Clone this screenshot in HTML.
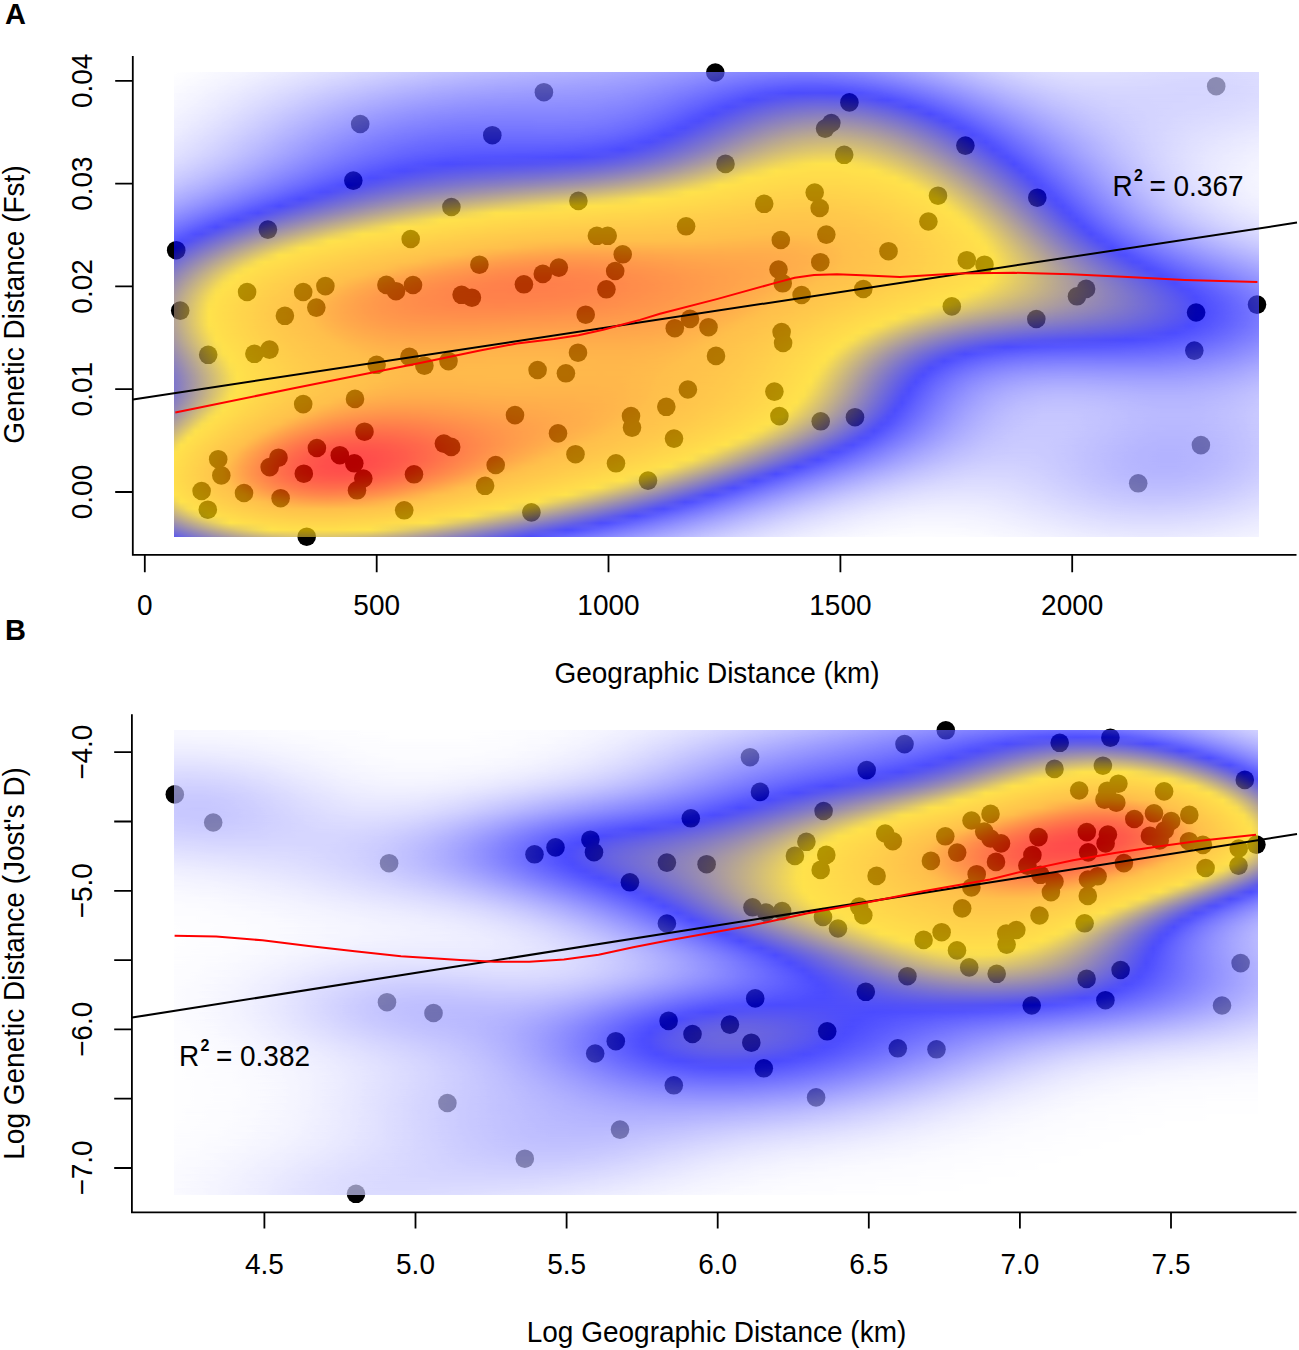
<!DOCTYPE html><html><head><meta charset="utf-8"><style>
html,body{margin:0;padding:0;background:#fff}
body{width:1299px;height:1350px;position:relative;overflow:hidden;font-family:"Liberation Sans",sans-serif}
svg.l{position:absolute;left:0;top:0}
.h{position:absolute;overflow:hidden;opacity:0.7}
.h div{position:absolute;left:0;width:100%}
.h .m{-webkit-mask-image:linear-gradient(transparent,#000 50%);mask-image:linear-gradient(transparent,#000 50%)}
text{font-family:"Liberation Sans",sans-serif}
</style></head><body>
<svg class="l" width="1299" height="1350"><g fill="#000"><circle cx="360.2" cy="124" r="9.3"/><circle cx="353.3" cy="180.6" r="9.3"/><circle cx="267.9" cy="229.6" r="9.3"/><circle cx="176.2" cy="250.2" r="9.3"/><circle cx="410.7" cy="239" r="9.3"/><circle cx="247.1" cy="292" r="9.3"/><circle cx="303.2" cy="292" r="9.3"/><circle cx="325.4" cy="286.1" r="9.3"/><circle cx="386.4" cy="284.9" r="9.3"/><circle cx="396" cy="291.2" r="9.3"/><circle cx="413" cy="285" r="9.3"/><circle cx="543.9" cy="92.2" r="9.3"/><circle cx="492.3" cy="135.2" r="9.3"/><circle cx="451.4" cy="207" r="9.3"/><circle cx="578.4" cy="200.9" r="9.3"/><circle cx="596.9" cy="235.8" r="9.3"/><circle cx="607.7" cy="235.8" r="9.3"/><circle cx="622.7" cy="254.3" r="9.3"/><circle cx="615.2" cy="271" r="9.3"/><circle cx="606.4" cy="289.3" r="9.3"/><circle cx="686.1" cy="226.3" r="9.3"/><circle cx="479.4" cy="264.7" r="9.3"/><circle cx="523.9" cy="284.3" r="9.3"/><circle cx="542.8" cy="273.9" r="9.3"/><circle cx="558.8" cy="267.6" r="9.3"/><circle cx="461.6" cy="294.8" r="9.3"/><circle cx="471.9" cy="297.7" r="9.3"/><circle cx="715.3" cy="72.5" r="9.3"/><circle cx="849.4" cy="102.4" r="9.3"/><circle cx="831.3" cy="123" r="9.3"/><circle cx="825.1" cy="128.6" r="9.3"/><circle cx="844.2" cy="154.8" r="9.3"/><circle cx="725.5" cy="163.9" r="9.3"/><circle cx="814.7" cy="192.6" r="9.3"/><circle cx="819.7" cy="208" r="9.3"/><circle cx="764.2" cy="203.8" r="9.3"/><circle cx="938" cy="195.7" r="9.3"/><circle cx="928.4" cy="221.5" r="9.3"/><circle cx="780.8" cy="240" r="9.3"/><circle cx="826.3" cy="234.6" r="9.3"/><circle cx="888.5" cy="251.2" r="9.3"/><circle cx="820.3" cy="262.2" r="9.3"/><circle cx="778.5" cy="269.5" r="9.3"/><circle cx="782.7" cy="283.3" r="9.3"/><circle cx="801.6" cy="295" r="9.3"/><circle cx="863.3" cy="289" r="9.3"/><circle cx="1216.2" cy="86.2" r="9.3"/><circle cx="965.4" cy="145.6" r="9.3"/><circle cx="1037.3" cy="197.7" r="9.3"/><circle cx="966.8" cy="260.2" r="9.3"/><circle cx="984.5" cy="264.7" r="9.3"/><circle cx="1086.1" cy="288.9" r="9.3"/><circle cx="1077" cy="296.3" r="9.3"/><circle cx="180.2" cy="310.6" r="9.3"/><circle cx="284.9" cy="315.8" r="9.3"/><circle cx="316.3" cy="307.6" r="9.3"/><circle cx="208.2" cy="354.8" r="9.3"/><circle cx="254.4" cy="353.8" r="9.3"/><circle cx="269.5" cy="349.6" r="9.3"/><circle cx="376.6" cy="364.8" r="9.3"/><circle cx="409.4" cy="356.9" r="9.3"/><circle cx="424.4" cy="365.7" r="9.3"/><circle cx="303.2" cy="404.1" r="9.3"/><circle cx="355" cy="398.9" r="9.3"/><circle cx="364.5" cy="431.7" r="9.3"/><circle cx="316.9" cy="448" r="9.3"/><circle cx="339.8" cy="455.2" r="9.3"/><circle cx="354.3" cy="463.3" r="9.3"/><circle cx="363.3" cy="478.5" r="9.3"/><circle cx="357" cy="490.3" r="9.3"/><circle cx="303.8" cy="473.7" r="9.3"/><circle cx="278.5" cy="457.7" r="9.3"/><circle cx="269.7" cy="467.1" r="9.3"/><circle cx="218.2" cy="459.2" r="9.3"/><circle cx="221.3" cy="475.4" r="9.3"/><circle cx="201.6" cy="491" r="9.3"/><circle cx="244" cy="493" r="9.3"/><circle cx="280.6" cy="498.2" r="9.3"/><circle cx="207.8" cy="509.7" r="9.3"/><circle cx="414" cy="474.3" r="9.3"/><circle cx="404.2" cy="510.3" r="9.3"/><circle cx="306.7" cy="536.7" r="9.3"/><circle cx="585.7" cy="314.7" r="9.3"/><circle cx="674.8" cy="328.2" r="9.3"/><circle cx="448.5" cy="361.1" r="9.3"/><circle cx="578" cy="352.7" r="9.3"/><circle cx="537.6" cy="370" r="9.3"/><circle cx="565.9" cy="373.3" r="9.3"/><circle cx="666.3" cy="406.8" r="9.3"/><circle cx="631" cy="416.1" r="9.3"/><circle cx="632" cy="427.6" r="9.3"/><circle cx="674" cy="438.6" r="9.3"/><circle cx="515" cy="415.1" r="9.3"/><circle cx="558" cy="433.4" r="9.3"/><circle cx="575.5" cy="454.2" r="9.3"/><circle cx="616" cy="463.3" r="9.3"/><circle cx="648" cy="480.6" r="9.3"/><circle cx="443.9" cy="443.6" r="9.3"/><circle cx="451.2" cy="446.9" r="9.3"/><circle cx="495.7" cy="465" r="9.3"/><circle cx="485.1" cy="485.8" r="9.3"/><circle cx="531.4" cy="512.4" r="9.3"/><circle cx="690" cy="318.9" r="9.3"/><circle cx="708.5" cy="327.2" r="9.3"/><circle cx="781.6" cy="332" r="9.3"/><circle cx="783.1" cy="343" r="9.3"/><circle cx="716" cy="355.9" r="9.3"/><circle cx="687.9" cy="389.5" r="9.3"/><circle cx="774.4" cy="391.6" r="9.3"/><circle cx="779.4" cy="416.1" r="9.3"/><circle cx="820.7" cy="421.3" r="9.3"/><circle cx="855" cy="417.2" r="9.3"/><circle cx="951.8" cy="306.4" r="9.3"/><circle cx="1036.3" cy="319" r="9.3"/><circle cx="1196.1" cy="312.5" r="9.3"/><circle cx="1257" cy="304.6" r="9.3"/><circle cx="1194.3" cy="350.6" r="9.3"/><circle cx="1200.9" cy="445.1" r="9.3"/><circle cx="1138.2" cy="483.3" r="9.3"/><circle cx="174.8" cy="794.4" r="9.3"/><circle cx="213.2" cy="822.5" r="9.3"/><circle cx="389.1" cy="863.2" r="9.3"/><circle cx="534.5" cy="854.3" r="9.3"/><circle cx="555.5" cy="847.4" r="9.3"/><circle cx="590.4" cy="839.7" r="9.3"/><circle cx="594" cy="852.2" r="9.3"/><circle cx="629.9" cy="882.3" r="9.3"/><circle cx="666.9" cy="862.6" r="9.3"/><circle cx="666.9" cy="923.5" r="9.3"/><circle cx="945.8" cy="730.3" r="9.3"/><circle cx="904.5" cy="744.1" r="9.3"/><circle cx="866.7" cy="770.1" r="9.3"/><circle cx="750" cy="757.2" r="9.3"/><circle cx="760" cy="791.9" r="9.3"/><circle cx="690.8" cy="818.3" r="9.3"/><circle cx="823.6" cy="811" r="9.3"/><circle cx="706.6" cy="864.2" r="9.3"/><circle cx="806.4" cy="841.8" r="9.3"/><circle cx="794.9" cy="855.9" r="9.3"/><circle cx="826.3" cy="854.9" r="9.3"/><circle cx="820.7" cy="869.9" r="9.3"/><circle cx="885.2" cy="833.5" r="9.3"/><circle cx="892.8" cy="841.2" r="9.3"/><circle cx="945.3" cy="836.3" r="9.3"/><circle cx="930.9" cy="860.9" r="9.3"/><circle cx="876.6" cy="875.9" r="9.3"/><circle cx="752.5" cy="907.3" r="9.3"/><circle cx="766.1" cy="912.5" r="9.3"/><circle cx="782.1" cy="911" r="9.3"/><circle cx="823" cy="917" r="9.3"/><circle cx="838" cy="928.5" r="9.3"/><circle cx="859.2" cy="906.6" r="9.3"/><circle cx="863.3" cy="915.2" r="9.3"/><circle cx="923.6" cy="939.9" r="9.3"/><circle cx="941.6" cy="932.2" r="9.3"/><circle cx="1059.7" cy="742.8" r="9.3"/><circle cx="1054.5" cy="768.9" r="9.3"/><circle cx="1079.2" cy="790.5" r="9.3"/><circle cx="990.5" cy="813.9" r="9.3"/><circle cx="971.5" cy="820.5" r="9.3"/><circle cx="984.2" cy="831.6" r="9.3"/><circle cx="1038.5" cy="837.1" r="9.3"/><circle cx="1086.8" cy="832.1" r="9.3"/><circle cx="990.5" cy="838.5" r="9.3"/><circle cx="1001" cy="843.4" r="9.3"/><circle cx="1110.4" cy="737.7" r="9.3"/><circle cx="1102.9" cy="765.7" r="9.3"/><circle cx="1118.4" cy="783.7" r="9.3"/><circle cx="1107.3" cy="790.7" r="9.3"/><circle cx="1104.5" cy="799.7" r="9.3"/><circle cx="1116.3" cy="802.7" r="9.3"/><circle cx="1164.1" cy="791.4" r="9.3"/><circle cx="1244.8" cy="779.9" r="9.3"/><circle cx="1134.3" cy="819" r="9.3"/><circle cx="1154" cy="813.3" r="9.3"/><circle cx="1171.2" cy="821" r="9.3"/><circle cx="1189.3" cy="814.9" r="9.3"/><circle cx="1107.9" cy="834.5" r="9.3"/><circle cx="1164.8" cy="830.2" r="9.3"/><circle cx="1149.9" cy="835.9" r="9.3"/><circle cx="957.2" cy="852.6" r="9.3"/><circle cx="996" cy="861.9" r="9.3"/><circle cx="976.7" cy="874.2" r="9.3"/><circle cx="971.4" cy="887.5" r="9.3"/><circle cx="962.2" cy="908.4" r="9.3"/><circle cx="1032.4" cy="855.1" r="9.3"/><circle cx="1027.4" cy="865.6" r="9.3"/><circle cx="1040.4" cy="874.8" r="9.3"/><circle cx="1054.5" cy="881.6" r="9.3"/><circle cx="1050.9" cy="892.1" r="9.3"/><circle cx="1039.5" cy="915.5" r="9.3"/><circle cx="1016.3" cy="930" r="9.3"/><circle cx="1006.2" cy="933.6" r="9.3"/><circle cx="1088.2" cy="852.4" r="9.3"/><circle cx="1105.6" cy="843.4" r="9.3"/><circle cx="1088" cy="879.5" r="9.3"/><circle cx="1097.6" cy="876.3" r="9.3"/><circle cx="1087.8" cy="895.9" r="9.3"/><circle cx="1084.6" cy="923.3" r="9.3"/><circle cx="1159.7" cy="840.5" r="9.3"/><circle cx="1189" cy="841.2" r="9.3"/><circle cx="1202.9" cy="844.9" r="9.3"/><circle cx="1123.9" cy="863.1" r="9.3"/><circle cx="1205.6" cy="868" r="9.3"/><circle cx="1238.7" cy="848.5" r="9.3"/><circle cx="1256.4" cy="844.6" r="9.3"/><circle cx="1238.5" cy="865.6" r="9.3"/><circle cx="387" cy="1002.2" r="9.3"/><circle cx="356" cy="1193.8" r="9.3"/><circle cx="433.5" cy="1013" r="9.3"/><circle cx="447.4" cy="1103" r="9.3"/><circle cx="524.8" cy="1158.7" r="9.3"/><circle cx="595.2" cy="1053.5" r="9.3"/><circle cx="615.8" cy="1041.2" r="9.3"/><circle cx="668.6" cy="1020.9" r="9.3"/><circle cx="620" cy="1129.6" r="9.3"/><circle cx="673.8" cy="1085.3" r="9.3"/><circle cx="755.2" cy="998.4" r="9.3"/><circle cx="729.9" cy="1024.6" r="9.3"/><circle cx="692.5" cy="1034" r="9.3"/><circle cx="751.3" cy="1042.7" r="9.3"/><circle cx="763.8" cy="1068.3" r="9.3"/><circle cx="827.2" cy="1031.3" r="9.3"/><circle cx="865.8" cy="991.8" r="9.3"/><circle cx="907.4" cy="976.2" r="9.3"/><circle cx="897.8" cy="1048.3" r="9.3"/><circle cx="936.5" cy="1049.3" r="9.3"/><circle cx="816.1" cy="1097.4" r="9.3"/><circle cx="1006.6" cy="944.6" r="9.3"/><circle cx="957" cy="950.4" r="9.3"/><circle cx="969.2" cy="967.4" r="9.3"/><circle cx="996.7" cy="973.8" r="9.3"/><circle cx="1086.6" cy="978.9" r="9.3"/><circle cx="1120.6" cy="970" r="9.3"/><circle cx="1105.4" cy="1000.2" r="9.3"/><circle cx="1031.7" cy="1005.5" r="9.3"/><circle cx="1240.6" cy="963.1" r="9.3"/><circle cx="1222" cy="1005.5" r="9.3"/></g></svg>
<div class="h" style="left:174px;top:72px;width:1085px;height:465px">
<div style="top:0;height:7.116px;background:linear-gradient(90deg,#ffffff,#fefeff,#fdfdff,#fbfbff,#fafaff,#f8f8ff,#f7f7ff,#f5f5ff,#f3f3ff,#f2f2ff,#f0f0ff,#eeeeff,#ececff,#e9e9ff,#e7e7ff,#e5e5ff,#e3e3ff,#e0e0ff,#dedeff,#dbdbff,#d9d9ff,#d6d6ff,#d4d4ff,#d1d1ff,#cfcfff,#ccccff,#cacaff,#c7c7ff,#c5c5ff,#c2c2ff,#c0c0ff,#bdbdff,#bbbbff,#b8b8ff,#b6b6ff,#b3b3ff,#b1b1ff,#afafff,#adadff,#ababff,#a9a9ff,#a7a7ff,#a5a5ff,#a3a3ff,#a1a1ff,#a0a0ff,#9e9eff,#9d9dff,#9b9bff,#9a9aff,#9999ff,#9797ff,#9696ff,#9595ff,#9494ff,#9393ff,#9292ff,#9090ff,#8f8fff,#8e8eff,#8d8dff,#8b8bff,#8a8aff,#8888ff,#8686ff,#8484ff,#8282ff,#8080ff,#7e7eff,#7b7bff,#7979ff,#7676ff,#7373ff,#7070ff,#6d6dff,#6a6aff,#6767ff,#6464ff,#6161ff,#5e5eff,#5b5bff,#5959ff,#5656ff,#5454ff,#5252ff,#5050ff,#4f4fff,#4e4eff,#4d4dff,#4d4dff,#4d4dff,#4d4dff,#4e4eff,#4f4fff,#5151ff,#5353ff,#5656ff,#5959ff,#5c5cff,#6060ff,#6464ff,#6868ff,#6d6dff,#7272ff,#7777ff,#7c7cff,#8282ff,#8787ff,#8c8cff,#9292ff,#9797ff,#9d9dff,#a2a2ff,#a7a7ff,#acacff,#b1b1ff,#b5b5ff,#babaff,#bebeff,#c1c1ff,#c5c5ff,#c8c8ff,#cacaff,#cdcdff,#cfcfff,#d0d0ff,#d2d2ff,#d3d3ff,#d4d4ff,#d4d4ff,#d4d4ff,#d4d4ff,#d4d4ff,#d4d4ff,#d3d3ff,#d2d2ff,#d2d2ff,#d1d1ff,#d0d0ff,#cfcfff,#ceceff,#cdcdff,#ccccff,#cbcbff,#cbcbff,#cacaff,#cacaff,#cacaff,#cacaff,#cacaff,#cbcbff,#cbcbff,#ccccff,#cdcdff,#ceceff,#d0d0ff)"></div>
<div class="m" style="top:0.000px;height:14.091px;background:linear-gradient(90deg,#fdfdff,#fcfcff,#fafaff,#f9f9ff,#f7f7ff,#f5f5ff,#f3f3ff,#f1f1ff,#efefff,#ededff,#ebebff,#e8e8ff,#e6e6ff,#e3e3ff,#e0e0ff,#dedeff,#dbdbff,#d8d8ff,#d5d5ff,#d3d3ff,#d0d0ff,#cdcdff,#cacaff,#c7c7ff,#c4c4ff,#c1c1ff,#bebeff,#bbbbff,#b9b9ff,#b6b6ff,#b3b3ff,#b0b0ff,#aeaeff,#ababff,#a9a9ff,#a6a6ff,#a4a4ff,#a1a1ff,#9f9fff,#9d9dff,#9b9bff,#9999ff,#9797ff,#9595ff,#9494ff,#9292ff,#9191ff,#8f8fff,#8e8eff,#8d8dff,#8c8cff,#8b8bff,#8989ff,#8989ff,#8888ff,#8787ff,#8686ff,#8585ff,#8383ff,#8282ff,#8181ff,#8080ff,#7e7eff,#7c7cff,#7a7aff,#7878ff,#7676ff,#7474ff,#7171ff,#6e6eff,#6b6bff,#6868ff,#6565ff,#6161ff,#5e5eff,#5a5aff,#5656ff,#5353ff,#4f4fff,#4b4bff,#4848ff,#4444ff,#4141ff,#3e3eff,#3c3cff,#3939ff,#3737ff,#3535ff,#3434ff,#3333ff,#3333ff,#3333ff,#3434ff,#3535ff,#3636ff,#3838ff,#3b3bff,#3e3eff,#4141ff,#4545ff,#4a4aff,#4f4fff,#5454ff,#5959ff,#5f5fff,#6565ff,#6b6bff,#7171ff,#7777ff,#7d7dff,#8383ff,#8a8aff,#9090ff,#9696ff,#9b9bff,#a1a1ff,#a6a6ff,#ababff,#b0b0ff,#b4b4ff,#b8b8ff,#bcbcff,#c0c0ff,#c3c3ff,#c5c5ff,#c7c7ff,#c9c9ff,#cbcbff,#ccccff,#cdcdff,#ceceff,#ceceff,#ceceff,#ceceff,#ceceff,#ceceff,#cdcdff,#ccccff,#ccccff,#cbcbff,#cacaff,#c9c9ff,#c9c9ff,#c8c8ff,#c8c8ff,#c7c7ff,#c7c7ff,#c7c7ff,#c7c7ff,#c7c7ff,#c8c8ff,#c9c9ff,#cacaff,#cbcbff,#ccccff,#ceceff)"></div>
<div class="m" style="top:7.045px;height:14.091px;background:linear-gradient(90deg,#fbfbff,#f9f9ff,#f7f7ff,#f5f5ff,#f3f3ff,#f1f1ff,#efefff,#ededff,#eaeaff,#e8e8ff,#e5e5ff,#e2e2ff,#dfdfff,#dcdcff,#d9d9ff,#d6d6ff,#d3d3ff,#d0d0ff,#cdcdff,#c9c9ff,#c6c6ff,#c3c3ff,#bfbfff,#bcbcff,#b9b9ff,#b6b6ff,#b2b2ff,#afafff,#acacff,#a9a9ff,#a6a6ff,#a3a3ff,#a0a0ff,#9d9dff,#9b9bff,#9898ff,#9696ff,#9393ff,#9191ff,#8f8fff,#8d8dff,#8b8bff,#8989ff,#8888ff,#8686ff,#8585ff,#8383ff,#8282ff,#8181ff,#8080ff,#7f7fff,#7e7eff,#7d7dff,#7d7dff,#7c7cff,#7b7bff,#7a7aff,#7979ff,#7878ff,#7777ff,#7676ff,#7575ff,#7373ff,#7171ff,#6f6fff,#6d6dff,#6b6bff,#6868ff,#6565ff,#6262ff,#5e5eff,#5b5bff,#5757ff,#5353ff,#4f4fff,#4a4aff,#4646ff,#4141ff,#3d3dff,#3939ff,#3434ff,#3030ff,#2c2cff,#2828ff,#2525ff,#2222ff,#1f1fff,#1d1dff,#1b1bff,#1919ff,#1818ff,#1818ff,#1818ff,#1919ff,#1a1aff,#1c1cff,#1f1fff,#2222ff,#2626ff,#2a2aff,#2f2fff,#3434ff,#3939ff,#3f3fff,#4545ff,#4c4cff,#5252ff,#5959ff,#6060ff,#6767ff,#6e6eff,#7575ff,#7c7cff,#8383ff,#8989ff,#9090ff,#9696ff,#9c9cff,#a1a1ff,#a7a7ff,#ababff,#b0b0ff,#b4b4ff,#b8b8ff,#bbbbff,#bebeff,#c1c1ff,#c3c3ff,#c5c5ff,#c6c6ff,#c7c7ff,#c8c8ff,#c9c9ff,#c9c9ff,#c9c9ff,#c9c9ff,#c9c9ff,#c9c9ff,#c8c8ff,#c8c8ff,#c7c7ff,#c7c7ff,#c6c6ff,#c6c6ff,#c5c5ff,#c5c5ff,#c5c5ff,#c5c5ff,#c5c5ff,#c6c6ff,#c6c6ff,#c7c7ff,#c8c8ff,#cacaff,#cbcbff,#cdcdff)"></div>
<div class="m" style="top:14.091px;height:14.091px;background:linear-gradient(90deg,#f8f8ff,#f6f6ff,#f4f4ff,#f2f2ff,#f0f0ff,#ededff,#ebebff,#e8e8ff,#e5e5ff,#e2e2ff,#dfdfff,#dcdcff,#d9d9ff,#d5d5ff,#d2d2ff,#ceceff,#cbcbff,#c7c7ff,#c3c3ff,#bfbfff,#bcbcff,#b8b8ff,#b4b4ff,#b1b1ff,#adadff,#a9a9ff,#a6a6ff,#a3a3ff,#9f9fff,#9c9cff,#9999ff,#9696ff,#9393ff,#9090ff,#8d8dff,#8a8aff,#8888ff,#8585ff,#8383ff,#8181ff,#7f7fff,#7d7dff,#7c7cff,#7a7aff,#7979ff,#7878ff,#7676ff,#7575ff,#7575ff,#7474ff,#7373ff,#7272ff,#7272ff,#7171ff,#7171ff,#7070ff,#6f6fff,#6f6fff,#6e6eff,#6d6dff,#6c6cff,#6a6aff,#6969ff,#6767ff,#6565ff,#6262ff,#6060ff,#5d5dff,#5959ff,#5656ff,#5252ff,#4e4eff,#4949ff,#4545ff,#4040ff,#3b3bff,#3636ff,#3131ff,#2b2bff,#2626ff,#2121ff,#1c1cff,#1717ff,#1212ff,#0e0eff,#0a0aff,#0707ff,#0404ff,#0101ff,#0101fe,#0202fd,#0303fc,#0303fc,#0302fc,#0201fd,#0000ff,#0303ff,#0606ff,#0909ff,#0e0eff,#1313ff,#1818ff,#1e1eff,#2424ff,#2b2bff,#3232ff,#3939ff,#4141ff,#4848ff,#5050ff,#5858ff,#6060ff,#6767ff,#6f6fff,#7676ff,#7e7eff,#8585ff,#8b8bff,#9292ff,#9898ff,#9e9eff,#a3a3ff,#a8a8ff,#acacff,#b0b0ff,#b4b4ff,#b7b7ff,#babaff,#bdbdff,#bfbfff,#c1c1ff,#c2c2ff,#c3c3ff,#c4c4ff,#c5c5ff,#c5c5ff,#c5c5ff,#c5c5ff,#c5c5ff,#c5c5ff,#c5c5ff,#c5c5ff,#c5c5ff,#c4c4ff,#c4c4ff,#c4c4ff,#c4c4ff,#c5c5ff,#c5c5ff,#c6c6ff,#c6c6ff,#c7c7ff,#c8c8ff,#cacaff,#cbcbff,#cdcdff)"></div>
<div class="m" style="top:21.136px;height:14.091px;background:linear-gradient(90deg,#f6f6ff,#f3f3ff,#f1f1ff,#efefff,#ececff,#e9e9ff,#e6e6ff,#e3e3ff,#e0e0ff,#ddddff,#d9d9ff,#d5d5ff,#d2d2ff,#ceceff,#cacaff,#c6c6ff,#c2c2ff,#bebeff,#babaff,#b5b5ff,#b1b1ff,#adadff,#a9a9ff,#a5a5ff,#a1a1ff,#9d9dff,#9a9aff,#9696ff,#9292ff,#8f8fff,#8b8bff,#8888ff,#8585ff,#8282ff,#7f7fff,#7d7dff,#7a7aff,#7878ff,#7676ff,#7474ff,#7272ff,#7070ff,#6f6fff,#6d6dff,#6c6cff,#6b6bff,#6a6aff,#6a6aff,#6969ff,#6868ff,#6868ff,#6767ff,#6767ff,#6767ff,#6666ff,#6666ff,#6565ff,#6565ff,#6464ff,#6363ff,#6262ff,#6161ff,#5f5fff,#5d5dff,#5b5bff,#5858ff,#5555ff,#5252ff,#4e4eff,#4a4aff,#4646ff,#4141ff,#3c3cff,#3737ff,#3131ff,#2c2cff,#2626ff,#2020ff,#1a1aff,#1414ff,#0e0eff,#0808ff,#0202ff,#0303fc,#0807f7,#0d0bf2,#110eee,#1512ea,#1814e7,#1b17e4,#1d18e2,#1e19e1,#1f1ae0,#1e1ae1,#1e19e1,#1c18e3,#1a16e5,#1713e8,#1310ec,#0f0cf0,#0908f6,#0403fb,#0202ff,#0909ff,#1010ff,#1818ff,#2020ff,#2828ff,#3030ff,#3838ff,#4141ff,#4a4aff,#5252ff,#5b5bff,#6363ff,#6b6bff,#7373ff,#7a7aff,#8282ff,#8989ff,#8f8fff,#9595ff,#9b9bff,#a0a0ff,#a5a5ff,#aaaaff,#aeaeff,#b1b1ff,#b5b5ff,#b7b7ff,#babaff,#bcbcff,#bebeff,#bfbfff,#c1c1ff,#c1c1ff,#c2c2ff,#c3c3ff,#c3c3ff,#c3c3ff,#c4c4ff,#c4c4ff,#c4c4ff,#c4c4ff,#c4c4ff,#c5c5ff,#c5c5ff,#c5c5ff,#c6c6ff,#c7c7ff,#c8c8ff,#c9c9ff,#cacaff,#cbcbff,#cdcdff,#ceceff)"></div>
<div class="m" style="top:28.182px;height:14.091px;background:linear-gradient(90deg,#f3f3ff,#f0f0ff,#eeeeff,#ebebff,#e8e8ff,#e5e5ff,#e2e2ff,#dedeff,#dbdbff,#d7d7ff,#d3d3ff,#cfcfff,#cbcbff,#c6c6ff,#c2c2ff,#bebeff,#b9b9ff,#b5b5ff,#b0b0ff,#ababff,#a7a7ff,#a2a2ff,#9e9eff,#9a9aff,#9595ff,#9191ff,#8d8dff,#8989ff,#8585ff,#8282ff,#7e7eff,#7b7bff,#7878ff,#7575ff,#7272ff,#6f6fff,#6d6dff,#6b6bff,#6969ff,#6767ff,#6565ff,#6464ff,#6262ff,#6161ff,#6060ff,#5f5fff,#5f5fff,#5e5eff,#5e5eff,#5e5eff,#5d5dff,#5d5dff,#5d5dff,#5d5dff,#5d5dff,#5c5cff,#5c5cff,#5b5bff,#5b5bff,#5a5aff,#5959ff,#5757ff,#5555ff,#5353ff,#5151ff,#4e4eff,#4b4bff,#4747ff,#4343ff,#3f3fff,#3a3aff,#3535ff,#2f2fff,#2929ff,#2323ff,#1d1dff,#1616ff,#0f0fff,#0808ff,#0202ff,#0504fa,#0c0af3,#120fed,#1915e6,#1e1ae1,#241edb,#2922d6,#2d26d2,#3129ce,#342ccb,#372ec8,#3930c6,#3a31c5,#3a31c5,#3930c6,#382fc7,#362dc9,#332bcc,#2f28d0,#2a24d5,#251fda,#1f1ae0,#1915e6,#120fed,#0a09f5,#0202fd,#0606ff,#0f0fff,#1818ff,#2121ff,#2a2aff,#3333ff,#3c3cff,#4646ff,#4f4fff,#5858ff,#6060ff,#6969ff,#7171ff,#7979ff,#8080ff,#8787ff,#8e8eff,#9494ff,#9a9aff,#9f9fff,#a4a4ff,#a8a8ff,#acacff,#b0b0ff,#b3b3ff,#b6b6ff,#b8b8ff,#bbbbff,#bdbdff,#bebeff,#bfbfff,#c1c1ff,#c2c2ff,#c2c2ff,#c3c3ff,#c4c4ff,#c4c4ff,#c5c5ff,#c5c5ff,#c6c6ff,#c6c6ff,#c7c7ff,#c8c8ff,#c9c9ff,#cacaff,#cbcbff,#ccccff,#ceceff,#cfcfff,#d1d1ff)"></div>
<div class="m" style="top:35.227px;height:14.091px;background:linear-gradient(90deg,#f0f0ff,#ededff,#eaeaff,#e7e7ff,#e4e4ff,#e0e0ff,#ddddff,#d9d9ff,#d5d5ff,#d1d1ff,#ccccff,#c8c8ff,#c3c3ff,#bfbfff,#babaff,#b5b5ff,#b0b0ff,#ababff,#a6a6ff,#a1a1ff,#9d9dff,#9898ff,#9393ff,#8e8eff,#8a8aff,#8585ff,#8181ff,#7d7dff,#7979ff,#7575ff,#7272ff,#6e6eff,#6b6bff,#6868ff,#6565ff,#6363ff,#6060ff,#5e5eff,#5c5cff,#5b5bff,#5959ff,#5858ff,#5757ff,#5656ff,#5555ff,#5454ff,#5454ff,#5454ff,#5353ff,#5353ff,#5353ff,#5353ff,#5353ff,#5353ff,#5353ff,#5353ff,#5353ff,#5252ff,#5252ff,#5151ff,#4f4fff,#4e4eff,#4c4cff,#4a4aff,#4747ff,#4444ff,#4040ff,#3c3cff,#3838ff,#3333ff,#2e2eff,#2828ff,#2222ff,#1b1bff,#1414ff,#0d0dff,#0606ff,#0101fe,#0908f6,#110eee,#1814e7,#201bdf,#2721d8,#2e27d1,#342ccb,#3a31c5,#4036bf,#453aba,#493eb6,#4d41b2,#5044af,#5245ad,#5447ab,#5447ab,#5447ab,#5346ac,#5144ae,#4e42b1,#4a3fb5,#463bb9,#4036bf,#3a31c5,#342ccb,#2c25d3,#241fdb,#1c18e3,#1310ec,#0a08f5,#0100fe,#0909ff,#1313ff,#1d1dff,#2727ff,#3131ff,#3b3bff,#4444ff,#4e4eff,#5757ff,#6060ff,#6868ff,#7171ff,#7878ff,#8080ff,#8787ff,#8e8eff,#9494ff,#9a9aff,#9f9fff,#a4a4ff,#a8a8ff,#acacff,#b0b0ff,#b3b3ff,#b6b6ff,#b9b9ff,#bbbbff,#bdbdff,#bfbfff,#c0c0ff,#c2c2ff,#c3c3ff,#c4c4ff,#c5c5ff,#c6c6ff,#c7c7ff,#c8c8ff,#c9c9ff,#cacaff,#cbcbff,#ccccff,#cdcdff,#ceceff,#d0d0ff,#d1d1ff,#d3d3ff,#d5d5ff)"></div>
<div class="m" style="top:42.273px;height:14.091px;background:linear-gradient(90deg,#ececff,#e9e9ff,#e6e6ff,#e3e3ff,#dfdfff,#dcdcff,#d8d8ff,#d3d3ff,#cfcfff,#cacaff,#c6c6ff,#c1c1ff,#bcbcff,#b7b7ff,#b2b2ff,#adadff,#a7a7ff,#a2a2ff,#9d9dff,#9898ff,#9292ff,#8d8dff,#8888ff,#8383ff,#7f7fff,#7a7aff,#7575ff,#7171ff,#6d6dff,#6969ff,#6666ff,#6262ff,#5f5fff,#5c5cff,#5959ff,#5757ff,#5454ff,#5252ff,#5050ff,#4f4fff,#4d4dff,#4c4cff,#4b4bff,#4b4bff,#4a4aff,#4a4aff,#4949ff,#4949ff,#4949ff,#4949ff,#4949ff,#4949ff,#4a4aff,#4a4aff,#4a4aff,#4a4aff,#4949ff,#4949ff,#4848ff,#4747ff,#4646ff,#4444ff,#4242ff,#3f3fff,#3c3cff,#3939ff,#3535ff,#3131ff,#2c2cff,#2626ff,#2121ff,#1a1aff,#1414ff,#0d0dff,#0505ff,#0302fc,#0a09f5,#1310ec,#1b17e4,#231edc,#2b24d4,#332bcc,#3b32c4,#4338bc,#4a3eb5,#5144ae,#5749a8,#5c4ea3,#61529e,#665699,#695996,#6c5b93,#6d5c92,#6e5d91,#6e5d91,#6d5c92,#6b5a94,#685897,#65559a,#60519f,#5b4ca4,#5447ab,#4d41b2,#463bb9,#3e34c1,#352dca,#2c25d3,#221ddd,#1815e7,#0e0cf1,#0403fb,#0707ff,#1111ff,#1c1cff,#2626ff,#3131ff,#3b3bff,#4545ff,#4e4eff,#5858ff,#6161ff,#6a6aff,#7272ff,#7a7aff,#8181ff,#8888ff,#8f8fff,#9595ff,#9b9bff,#a0a0ff,#a5a5ff,#aaaaff,#aeaeff,#b1b1ff,#b5b5ff,#b8b8ff,#babaff,#bdbdff,#bfbfff,#c1c1ff,#c3c3ff,#c5c5ff,#c6c6ff,#c8c8ff,#c9c9ff,#cacaff,#ccccff,#cdcdff,#ceceff,#d0d0ff,#d1d1ff,#d2d2ff,#d4d4ff,#d5d5ff,#d7d7ff,#d9d9ff)"></div>
<div class="m" style="top:49.318px;height:14.091px;background:linear-gradient(90deg,#e9e9ff,#e6e6ff,#e2e2ff,#dedeff,#dbdbff,#d6d6ff,#d2d2ff,#ceceff,#c9c9ff,#c4c4ff,#bfbfff,#babaff,#b5b5ff,#afafff,#aaaaff,#a4a4ff,#9e9eff,#9999ff,#9393ff,#8e8eff,#8888ff,#8383ff,#7e7eff,#7979ff,#7474ff,#6f6fff,#6a6aff,#6666ff,#6161ff,#5d5dff,#5a5aff,#5656ff,#5353ff,#5050ff,#4d4dff,#4b4bff,#4949ff,#4747ff,#4545ff,#4343ff,#4242ff,#4141ff,#4040ff,#4040ff,#3f3fff,#3f3fff,#3f3fff,#3f3fff,#3f3fff,#3f3fff,#3f3fff,#3f3fff,#4040ff,#4040ff,#4040ff,#3f3fff,#3f3fff,#3e3eff,#3e3eff,#3c3cff,#3b3bff,#3939ff,#3737ff,#3434ff,#3131ff,#2d2dff,#2929ff,#2424ff,#1f1fff,#1919ff,#1212ff,#0c0cff,#0404ff,#0303fc,#0b09f4,#1310ec,#1c17e3,#251fda,#2d26d2,#362ec9,#3f35c0,#473cb8,#5043af,#584aa7,#60519f,#675798,#6d5c92,#74618b,#796686,#7d6a82,#816d7e,#846f7b,#867179,#877278,#877278,#867179,#84707b,#826d7d,#7e6a81,#796686,#74628b,#6e5c91,#665699,#5f50a0,#5649a9,#4d41b2,#4439bb,#3a31c5,#3028cf,#251fda,#1a16e5,#0f0df0,#0403fb,#0707ff,#1212ff,#1d1dff,#2828ff,#3333ff,#3d3dff,#4747ff,#5151ff,#5b5bff,#6464ff,#6c6cff,#7575ff,#7d7dff,#8484ff,#8b8bff,#9292ff,#9898ff,#9e9eff,#a3a3ff,#a8a8ff,#acacff,#b1b1ff,#b4b4ff,#b8b8ff,#bbbbff,#bebeff,#c1c1ff,#c3c3ff,#c5c5ff,#c7c7ff,#c9c9ff,#cbcbff,#cdcdff,#cfcfff,#d0d0ff,#d2d2ff,#d3d3ff,#d5d5ff,#d7d7ff,#d8d8ff,#dadaff,#dbdbff,#ddddff)"></div>
<div class="m" style="top:56.364px;height:14.091px;background:linear-gradient(90deg,#e5e5ff,#e1e1ff,#ddddff,#d9d9ff,#d5d5ff,#d1d1ff,#ccccff,#c7c7ff,#c2c2ff,#bdbdff,#b8b8ff,#b2b2ff,#adadff,#a7a7ff,#a1a1ff,#9b9bff,#9696ff,#9090ff,#8a8aff,#8484ff,#7e7eff,#7979ff,#7373ff,#6e6eff,#6969ff,#6464ff,#5f5fff,#5a5aff,#5656ff,#5252ff,#4e4eff,#4b4bff,#4747ff,#4444ff,#4242ff,#3f3fff,#3d3dff,#3b3bff,#3939ff,#3838ff,#3737ff,#3636ff,#3535ff,#3434ff,#3434ff,#3434ff,#3434ff,#3434ff,#3434ff,#3434ff,#3434ff,#3434ff,#3434ff,#3434ff,#3434ff,#3434ff,#3333ff,#3333ff,#3232ff,#3030ff,#2e2eff,#2c2cff,#2a2aff,#2727ff,#2323ff,#1f1fff,#1a1aff,#1515ff,#0f0fff,#0909ff,#0202ff,#0504fa,#0c0af3,#1411eb,#1d18e2,#2620d9,#2e27d1,#382fc7,#4137be,#4a3eb5,#5346ac,#5c4ea3,#65559a,#6e5c91,#766389,#7d6a82,#846f7b,#8b7574,#907a6f,#957e6a,#998166,#9c8363,#9e8561,#9f8660,#9f8660,#9f8660,#9d8462,#9a8265,#967f69,#927b6d,#8c7673,#867179,#7f6b80,#776488,#6e5d91,#65559a,#5b4da4,#5144ae,#463bb9,#3b32c4,#3028cf,#241fdb,#1915e6,#0d0bf2,#0201fd,#0a0aff,#1515ff,#2121ff,#2c2cff,#3636ff,#4141ff,#4b4bff,#5555ff,#5f5fff,#6868ff,#7070ff,#7979ff,#8181ff,#8888ff,#8f8fff,#9696ff,#9c9cff,#a2a2ff,#a7a7ff,#acacff,#b1b1ff,#b5b5ff,#b9b9ff,#bdbdff,#c0c0ff,#c3c3ff,#c6c6ff,#c9c9ff,#cbcbff,#cdcdff,#d0d0ff,#d2d2ff,#d4d4ff,#d5d5ff,#d7d7ff,#d9d9ff,#dbdbff,#ddddff,#dedeff,#e0e0ff,#e2e2ff)"></div>
<div class="m" style="top:63.409px;height:14.091px;background:linear-gradient(90deg,#e0e0ff,#dcdcff,#d8d8ff,#d4d4ff,#cfcfff,#cbcbff,#c6c6ff,#c1c1ff,#bbbbff,#b6b6ff,#b0b0ff,#aaaaff,#a5a5ff,#9f9fff,#9999ff,#9292ff,#8c8cff,#8686ff,#8080ff,#7a7aff,#7474ff,#6e6eff,#6969ff,#6363ff,#5e5eff,#5959ff,#5454ff,#4f4fff,#4b4bff,#4646ff,#4343ff,#3f3fff,#3c3cff,#3939ff,#3636ff,#3333ff,#3131ff,#2f2fff,#2e2eff,#2c2cff,#2b2bff,#2a2aff,#2929ff,#2929ff,#2828ff,#2828ff,#2828ff,#2828ff,#2828ff,#2828ff,#2828ff,#2828ff,#2828ff,#2727ff,#2727ff,#2727ff,#2626ff,#2525ff,#2323ff,#2222ff,#2020ff,#1d1dff,#1a1aff,#1717ff,#1313ff,#0e0eff,#0909ff,#0404ff,#0202fd,#0907f6,#100def,#1714e8,#1f1ae0,#2822d7,#3129ce,#3a31c5,#4338bc,#4c40b3,#5648a9,#5f50a0,#695896,#72608d,#7b6884,#846f7b,#8c7673,#947d6b,#9b8364,#a2885d,#a88d57,#ac9153,#b1954e,#b4974b,#b69949,#b79a48,#b79b48,#b79a48,#b5984a,#b2964d,#ae9351,#a98f56,#a48a5b,#9d8562,#967e69,#8e7871,#85707a,#7c6883,#72608d,#675798,#5c4ea3,#5144ae,#453aba,#3930c6,#2d26d2,#211cde,#1512ea,#0908f6,#0303ff,#0f0fff,#1a1aff,#2626ff,#3131ff,#3c3cff,#4646ff,#5151ff,#5b5bff,#6464ff,#6d6dff,#7676ff,#7e7eff,#8686ff,#8d8dff,#9494ff,#9b9bff,#a1a1ff,#a7a7ff,#adadff,#b2b2ff,#b6b6ff,#bbbbff,#bfbfff,#c3c3ff,#c6c6ff,#c9c9ff,#ccccff,#cfcfff,#d2d2ff,#d4d4ff,#d7d7ff,#d9d9ff,#dbdbff,#ddddff,#dfdfff,#e1e1ff,#e2e2ff,#e4e4ff,#e6e6ff)"></div>
<div class="m" style="top:70.455px;height:14.091px;background:linear-gradient(90deg,#dadaff,#d6d6ff,#d2d2ff,#ceceff,#c9c9ff,#c4c4ff,#bfbfff,#b9b9ff,#b4b4ff,#aeaeff,#a8a8ff,#a2a2ff,#9c9cff,#9595ff,#8f8fff,#8989ff,#8282ff,#7c7cff,#7676ff,#7070ff,#6969ff,#6363ff,#5e5eff,#5858ff,#5252ff,#4d4dff,#4848ff,#4343ff,#3f3fff,#3b3bff,#3737ff,#3333ff,#2f2fff,#2c2cff,#2929ff,#2727ff,#2525ff,#2323ff,#2121ff,#1f1fff,#1e1eff,#1d1dff,#1c1cff,#1b1bff,#1b1bff,#1a1aff,#1a1aff,#1a1aff,#1919ff,#1919ff,#1919ff,#1919ff,#1818ff,#1818ff,#1717ff,#1616ff,#1515ff,#1414ff,#1212ff,#1010ff,#0e0eff,#0b0bff,#0808ff,#0404ff,#0000ff,#0504fa,#0a09f5,#100eef,#1713e8,#1d19e2,#251fda,#2d26d2,#352dca,#3e34c1,#473bb8,#5043af,#594ba6,#63539c,#6d5c92,#766489,#806c7f,#8a7475,#937c6c,#9c8363,#a48a5b,#ac9153,#b3974c,#ba9c45,#bfa140,#c4a53b,#c8a937,#cbac34,#cead31,#cfae30,#cfaf30,#ceae31,#ccac33,#c9aa36,#c5a63a,#c1a23e,#bb9e44,#b4984b,#ad9252,#a48b5b,#9b8364,#927b6d,#887277,#7d6982,#72608d,#665699,#5a4ca5,#4e42b1,#4237bd,#352dca,#2922d6,#1c18e3,#100def,#0403fb,#0909ff,#1515ff,#2121ff,#2c2cff,#3737ff,#4242ff,#4d4dff,#5757ff,#6161ff,#6b6bff,#7474ff,#7c7cff,#8585ff,#8d8dff,#9494ff,#9b9bff,#a2a2ff,#a8a8ff,#aeaeff,#b3b3ff,#b8b8ff,#bdbdff,#c1c1ff,#c6c6ff,#c9c9ff,#cdcdff,#d0d0ff,#d3d3ff,#d6d6ff,#d9d9ff,#dcdcff,#dedeff,#e0e0ff,#e2e2ff,#e4e4ff,#e6e6ff,#e8e8ff,#eaeaff)"></div>
<div class="m" style="top:77.500px;height:14.091px;background:linear-gradient(90deg,#d4d4ff,#d0d0ff,#cbcbff,#c6c6ff,#c1c1ff,#bcbcff,#b6b6ff,#b1b1ff,#ababff,#a5a5ff,#9f9fff,#9898ff,#9292ff,#8b8bff,#8585ff,#7e7eff,#7878ff,#7171ff,#6b6bff,#6464ff,#5e5eff,#5858ff,#5252ff,#4c4cff,#4646ff,#4141ff,#3c3cff,#3737ff,#3232ff,#2e2eff,#2a2aff,#2626ff,#2222ff,#1f1fff,#1c1cff,#1919ff,#1717ff,#1515ff,#1313ff,#1111ff,#0f0fff,#0e0eff,#0d0dff,#0c0cff,#0b0bff,#0b0bff,#0a0aff,#0909ff,#0909ff,#0808ff,#0808ff,#0707ff,#0606ff,#0505ff,#0404ff,#0303ff,#0202ff,#0000ff,#0202fd,#0504fa,#0706f8,#0a09f5,#0e0cf1,#120fed,#1713e8,#1c18e3,#211cde,#2821d7,#2e27d1,#352dca,#3d33c2,#453aba,#4d41b2,#5649a9,#5f50a0,#695896,#72608d,#7c6983,#867179,#8f7970,#998166,#a3895c,#ac9153,#b4984b,#bd9f42,#c5a63a,#ccac33,#d2b12d,#d8b627,#ddba22,#e1bd1e,#e4c01b,#e6c219,#e7c318,#e7c318,#e6c219,#e4c01b,#e1be1e,#ddba22,#d8b627,#d2b12d,#cbab34,#c3a53c,#bb9e44,#b2964d,#a88e57,#9e8561,#937c6c,#877278,#7b6884,#6f5e90,#63539c,#5649a9,#493eb6,#3c33c3,#2f28d0,#221ddd,#1612e9,#0907f6,#0404ff,#1010ff,#1c1cff,#2828ff,#3434ff,#3f3fff,#4a4aff,#5555ff,#5f5fff,#6969ff,#7373ff,#7c7cff,#8484ff,#8d8dff,#9494ff,#9c9cff,#a3a3ff,#a9a9ff,#afafff,#b5b5ff,#bbbbff,#c0c0ff,#c4c4ff,#c9c9ff,#cdcdff,#d1d1ff,#d4d4ff,#d8d8ff,#dbdbff,#dedeff,#e0e0ff,#e3e3ff,#e5e5ff,#e7e7ff,#e9e9ff,#ebebff,#ededff)"></div>
<div class="m" style="top:84.545px;height:14.091px;background:linear-gradient(90deg,#ccccff,#c8c8ff,#c3c3ff,#bebeff,#b8b8ff,#b3b3ff,#adadff,#a7a7ff,#a1a1ff,#9a9aff,#9494ff,#8e8eff,#8787ff,#8080ff,#7979ff,#7373ff,#6c6cff,#6565ff,#5e5eff,#5858ff,#5151ff,#4b4bff,#4545ff,#3f3fff,#3939ff,#3333ff,#2e2eff,#2929ff,#2424ff,#2020ff,#1b1bff,#1717ff,#1313ff,#1010ff,#0d0dff,#0a0aff,#0707ff,#0505ff,#0202ff,#0000ff,#0101fe,#0303fc,#0504fa,#0605f9,#0706f8,#0807f7,#0908f6,#0a09f5,#0b09f4,#0c0af3,#0d0bf2,#0e0cf1,#0f0df0,#110eee,#120fed,#1411eb,#1612e9,#1814e7,#1a16e5,#1d19e2,#201bdf,#241edb,#2822d7,#2c25d3,#3129ce,#372ec8,#3c33c3,#4338bc,#493eb6,#5144ae,#584aa7,#60519f,#695896,#72608d,#7b6884,#846f7b,#8e7771,#978068,#a1885e,#ab9054,#b4984b,#bda042,#c6a739,#cfaf30,#d7b528,#dfbc20,#e6c219,#ecc713,#f1cc0e,#f6cf09,#fad305,#fdd502,#fed701,#ffd700,#ffd700,#fed601,#fcd403,#f8d107,#f4ce0b,#efca10,#e9c416,#e2be1d,#dab825,#d1b12e,#c8a937,#bea041,#b3974c,#a88e57,#9c8463,#907a6f,#846f7b,#776488,#6a5995,#5d4ea2,#5043af,#4238bd,#352dca,#2821d7,#1a16e5,#0d0bf2,#0000ff,#0d0dff,#1919ff,#2525ff,#3131ff,#3d3dff,#4848ff,#5353ff,#5e5eff,#6868ff,#7272ff,#7b7bff,#8484ff,#8d8dff,#9595ff,#9d9dff,#a4a4ff,#ababff,#b2b2ff,#b8b8ff,#bdbdff,#c3c3ff,#c8c8ff,#ccccff,#d0d0ff,#d4d4ff,#d8d8ff,#dcdcff,#dfdfff,#e2e2ff,#e4e4ff,#e7e7ff,#e9e9ff,#ebebff,#eeeeff,#efefff)"></div>
<div class="m" style="top:91.591px;height:14.091px;background:linear-gradient(90deg,#c3c3ff,#bebeff,#b9b9ff,#b3b3ff,#aeaeff,#a8a8ff,#a2a2ff,#9c9cff,#9595ff,#8f8fff,#8888ff,#8181ff,#7a7aff,#7373ff,#6c6cff,#6565ff,#5e5eff,#5858ff,#5151ff,#4a4aff,#4343ff,#3d3dff,#3636ff,#3030ff,#2a2aff,#2424ff,#1f1fff,#1919ff,#1414ff,#1010ff,#0b0bff,#0707ff,#0303ff,#0101fe,#0504fa,#0807f7,#0b09f4,#0e0cf1,#100eef,#1310ec,#1512ea,#1714e8,#1915e6,#1b17e4,#1d18e2,#1e1ae1,#201bdf,#211cde,#231ddc,#241fdb,#2620d9,#2821d7,#2923d6,#2b24d4,#2d26d2,#2f28d0,#322acd,#342ccb,#372ec8,#3a31c5,#3e34c1,#4237bd,#463bb9,#4b3fb4,#5043af,#5548aa,#5b4da4,#61529e,#685897,#6f5e90,#776488,#7f6b80,#877278,#907a6f,#998166,#a2895d,#ac9153,#b5994a,#bfa140,#c8a937,#d1b02e,#dab825,#e3bf1c,#ebc614,#f3cd0c,#fad305,#ffd700,#ffd500,#ffd400,#ffd400,#ffd300,#ffd200,#ffd200,#ffd200,#ffd200,#ffd200,#ffd300,#ffd400,#ffd400,#ffd500,#ffd700,#f9d206,#f1cb0e,#e8c417,#dfbc20,#d4b32b,#c9aa36,#bea041,#b2964d,#a68c59,#998166,#8c7673,#7e6b81,#715f8e,#63549c,#5548aa,#483cb7,#3a31c5,#2c25d3,#1e1ae1,#110eee,#0303fc,#0a0aff,#1717ff,#2323ff,#3030ff,#3c3cff,#4747ff,#5353ff,#5e5eff,#6868ff,#7272ff,#7c7cff,#8585ff,#8e8eff,#9696ff,#9e9eff,#a6a6ff,#adadff,#b4b4ff,#babaff,#c0c0ff,#c5c5ff,#cacaff,#cfcfff,#d4d4ff,#d8d8ff,#dbdbff,#dfdfff,#e2e2ff,#e5e5ff,#e8e8ff,#ebebff,#ededff,#efefff,#f1f1ff)"></div>
<div class="m" style="top:98.636px;height:14.091px;background:linear-gradient(90deg,#b9b9ff,#b3b3ff,#aeaeff,#a8a8ff,#a2a2ff,#9b9bff,#9595ff,#8e8eff,#8888ff,#8181ff,#7a7aff,#7373ff,#6c6cff,#6565ff,#5d5dff,#5656ff,#4f4fff,#4848ff,#4141ff,#3a3aff,#3333ff,#2c2cff,#2626ff,#1f1fff,#1919ff,#1313ff,#0d0dff,#0808ff,#0202ff,#0302fc,#0807f7,#0c0af3,#110eee,#1512ea,#1915e6,#1d18e2,#201bdf,#231edc,#2721d8,#2a23d5,#2c25d3,#2f28d0,#312ace,#342ccb,#362ec9,#382fc7,#3a31c5,#3d33c2,#3f35c0,#4137be,#4339bc,#453aba,#483cb7,#4a3eb5,#4c40b3,#4f43b0,#5245ad,#5548aa,#584aa7,#5c4da3,#60519f,#64549b,#685897,#6d5c92,#72608d,#786587,#7e6a81,#846f7b,#8b7574,#927b6d,#998166,#a1885e,#a98f56,#b2964d,#ba9d45,#c3a53c,#ccac33,#d5b42a,#debb21,#e7c318,#f0ca0f,#f9d206,#ffd700,#ffd500,#ffd400,#ffd200,#ffd100,#ffd000,#ffcf00,#ffce00,#ffce00,#ffcd00,#ffcd00,#ffcd00,#ffcd00,#ffcd00,#ffce00,#ffcf00,#ffd000,#ffd100,#ffd200,#ffd400,#ffd500,#ffd700,#f5cf0a,#ebc614,#e0bc1f,#d4b32b,#c8a837,#bb9e44,#ae9351,#a0875f,#937c6c,#85707a,#776488,#695896,#5a4ca5,#4c40b3,#3e34c1,#3028cf,#221cdd,#1411eb,#0605f9,#0808ff,#1515ff,#2222ff,#2e2eff,#3b3bff,#4747ff,#5252ff,#5e5eff,#6868ff,#7373ff,#7d7dff,#8686ff,#8f8fff,#9898ff,#a0a0ff,#a8a8ff,#afafff,#b6b6ff,#bcbcff,#c2c2ff,#c8c8ff,#cdcdff,#d2d2ff,#d6d6ff,#dadaff,#dedeff,#e2e2ff,#e5e5ff,#e8e8ff,#ebebff,#ededff,#f0f0ff,#f2f2ff)"></div>
<div class="m" style="top:105.682px;height:14.091px;background:linear-gradient(90deg,#acacff,#a7a7ff,#a0a0ff,#9a9aff,#9494ff,#8d8dff,#8686ff,#7f7fff,#7878ff,#7171ff,#6a6aff,#6363ff,#5b5bff,#5454ff,#4c4cff,#4545ff,#3d3dff,#3636ff,#2f2fff,#2828ff,#2020ff,#1919ff,#1313ff,#0c0cff,#0505ff,#0101fe,#0706f8,#0d0bf2,#1310ec,#1814e7,#1e19e1,#231ddc,#2721d8,#2c25d3,#3129ce,#352cca,#3930c6,#3d33c2,#4036bf,#4439bb,#473cb8,#4b3fb4,#4e42b1,#5144ae,#5447ab,#5749a8,#594ba6,#5c4ea3,#5f50a0,#62529d,#65559a,#675798,#6a5a95,#6d5c92,#705f8f,#73618c,#776488,#7a6785,#7e6a81,#816d7e,#85707a,#8a7475,#8e7871,#937c6c,#988067,#9e8561,#a48a5b,#aa8f55,#b0954f,#b79a48,#bea041,#c6a739,#cdad32,#d6b429,#debb21,#e6c219,#efc910,#f7d008,#ffd700,#ffd500,#ffd400,#ffd200,#ffd000,#ffcf00,#ffce00,#ffcc00,#ffcb00,#ffca00,#ffc900,#ffc900,#ffc800,#ffc800,#ffc800,#ffc800,#ffc800,#ffc800,#ffc900,#ffca00,#ffcb00,#ffcc00,#ffcd00,#ffcf00,#ffd100,#ffd200,#ffd400,#ffd700,#f6cf09,#eac515,#ddbb22,#d0b02f,#c3a43c,#b5994a,#a78d58,#998166,#8a7575,#7c6883,#6d5c92,#5e50a1,#5043af,#4137be,#322acd,#241edb,#1612e9,#0806f7,#0606ff,#1414ff,#2121ff,#2e2eff,#3b3bff,#4747ff,#5353ff,#5e5eff,#6969ff,#7474ff,#7e7eff,#8787ff,#9191ff,#9999ff,#a2a2ff,#a9a9ff,#b1b1ff,#b8b8ff,#bebeff,#c4c4ff,#cacaff,#cfcfff,#d4d4ff,#d8d8ff,#dcdcff,#e0e0ff,#e4e4ff,#e7e7ff,#eaeaff,#ededff,#efefff,#f1f1ff)"></div>
<div class="m" style="top:112.727px;height:14.091px;background:linear-gradient(90deg,#9e9eff,#9898ff,#9191ff,#8b8bff,#8484ff,#7d7dff,#7575ff,#6e6eff,#6767ff,#5f5fff,#5757ff,#5050ff,#4848ff,#4040ff,#3939ff,#3131ff,#2929ff,#2121ff,#1a1aff,#1212ff,#0b0bff,#0404ff,#0403fb,#0b09f4,#110fee,#1814e7,#1f1ae0,#251fda,#2b24d4,#3129ce,#372ec8,#3c33c3,#4237bd,#473cb8,#4c40b3,#5144ae,#5548aa,#5a4ca5,#5e4fa1,#62539d,#665699,#6a5a95,#6e5d91,#72608d,#766389,#796686,#7d6982,#806c7f,#846f7b,#877278,#8b7574,#8e7871,#917b6e,#957d6a,#988067,#9c8363,#9f8660,#a38a5c,#a78d58,#ab9054,#af9450,#b3974c,#b89b47,#bd9f42,#c2a33d,#c7a838,#cdad32,#d3b12c,#d9b726,#dfbc20,#e6c219,#edc812,#f4ce0b,#fcd403,#ffd600,#ffd500,#ffd300,#ffd200,#ffd000,#ffce00,#ffcd00,#ffcb00,#ffca00,#ffc900,#ffc700,#ffc600,#ffc500,#ffc400,#ffc400,#ffc300,#ffc300,#ffc200,#ffc200,#ffc200,#ffc300,#ffc300,#ffc400,#ffc500,#ffc600,#ffc700,#ffc800,#ffca00,#ffcc00,#ffce00,#ffd000,#ffd200,#ffd400,#ffd700,#f3cd0c,#e6c219,#d8b627,#caaa35,#bc9e43,#ad9252,#9e8561,#8f7970,#806c7f,#715f8e,#62529d,#5245ad,#4339bc,#342ccb,#2620d9,#1713e8,#0907f6,#0606ff,#1313ff,#2121ff,#2e2eff,#3b3bff,#4747ff,#5353ff,#5f5fff,#6a6aff,#7575ff,#7f7fff,#8989ff,#9292ff,#9b9bff,#a3a3ff,#ababff,#b2b2ff,#b9b9ff,#bfbfff,#c5c5ff,#cbcbff,#d0d0ff,#d5d5ff,#d9d9ff,#dedeff,#e1e1ff,#e5e5ff,#e8e8ff,#ebebff,#eeeeff,#f0f0ff)"></div>
<div class="m" style="top:119.773px;height:14.091px;background:linear-gradient(90deg,#8f8fff,#8888ff,#8181ff,#7979ff,#7272ff,#6a6aff,#6262ff,#5a5aff,#5353ff,#4b4bff,#4343ff,#3a3aff,#3232ff,#2a2aff,#2222ff,#1a1aff,#1212ff,#0a0aff,#0202ff,#0605f9,#0e0cf1,#1512ea,#1d18e2,#241fdb,#2c25d3,#332bcc,#3a31c5,#4036bf,#473cb8,#4d41b2,#5447ab,#5a4ca5,#60519f,#665699,#6b5a94,#715f8e,#766389,#7b6884,#806c7f,#85707a,#8a7475,#8e7871,#937c6c,#978068,#9c8363,#a0875f,#a48b5b,#a98e56,#ad9252,#b1954e,#b5984a,#b99c46,#bd9f42,#c0a23f,#c4a63b,#c8a937,#ccac33,#d0af2f,#d4b32b,#d8b627,#dcba23,#e0bd1f,#e5c11a,#e9c516,#eec911,#f3cd0c,#f8d107,#fed601,#ffd600,#ffd500,#ffd400,#ffd300,#ffd100,#ffd000,#ffcf00,#ffcd00,#ffcc00,#ffca00,#ffc900,#ffc800,#ffc600,#ffc500,#ffc400,#ffc200,#ffc100,#ffc000,#ffbf00,#ffbe00,#ffbe00,#ffbd00,#ffbd00,#ffbd00,#ffbd00,#ffbd00,#ffbd00,#ffbe00,#ffbf00,#ffc000,#ffc100,#ffc200,#ffc400,#ffc500,#ffc700,#ffc900,#ffcb00,#ffce00,#ffd000,#ffd200,#ffd500,#fbd404,#edc812,#dfbc20,#d0af2f,#c1a33e,#b2964d,#a2895d,#937c6c,#836e7c,#73618c,#64549b,#5447ab,#453aba,#362dc9,#2721d8,#1814e7,#0908f6,#0505ff,#1313ff,#2121ff,#2e2eff,#3b3bff,#4848ff,#5454ff,#5f5fff,#6b6bff,#7575ff,#7f7fff,#8989ff,#9292ff,#9b9bff,#a3a3ff,#ababff,#b2b2ff,#b9b9ff,#c0c0ff,#c6c6ff,#cbcbff,#d0d0ff,#d5d5ff,#d9d9ff,#dedeff,#e1e1ff,#e5e5ff,#e8e8ff,#ebebff,#ededff)"></div>
<div class="m" style="top:126.818px;height:14.091px;background:linear-gradient(90deg,#7d7dff,#7676ff,#6e6eff,#6666ff,#5e5eff,#5555ff,#4d4dff,#4545ff,#3c3cff,#3434ff,#2b2bff,#2222ff,#1a1aff,#1111ff,#0909ff,#0000ff,#0807f7,#110eee,#1915e6,#221cdd,#2a23d5,#322acd,#3a31c5,#4237bd,#493eb6,#5144ae,#584ba7,#60519f,#675798,#6e5d91,#75628a,#7b6884,#826e7d,#887377,#8f7870,#957d6a,#9b8264,#a0875f,#a68c59,#ac9153,#b1954e,#b79a48,#bc9e43,#c1a33e,#c6a739,#cbab34,#d0af2f,#d5b32a,#d9b726,#debb21,#e3bf1c,#e7c318,#ebc614,#efca10,#f4cd0b,#f8d107,#fcd403,#ffd700,#ffd600,#ffd500,#ffd500,#ffd400,#ffd300,#ffd200,#ffd100,#ffd000,#ffcf00,#ffcf00,#ffce00,#ffcd00,#ffcc00,#ffca00,#ffc900,#ffc800,#ffc700,#ffc600,#ffc400,#ffc300,#ffc200,#ffc100,#ffbf00,#ffbe00,#ffbd00,#ffbc00,#ffbb00,#ffba00,#ffb900,#ffb900,#ffb800,#ffb800,#ffb800,#ffb700,#ffb800,#ffb800,#ffb800,#ffb900,#ffba00,#ffbb00,#ffbc00,#ffbd00,#ffbf00,#ffc100,#ffc300,#ffc500,#ffc700,#ffc900,#ffcc00,#ffce00,#ffd100,#ffd400,#ffd600,#f3cd0c,#e4c01b,#d4b32b,#c5a63a,#b5994a,#a58b5a,#957e6a,#85707a,#75638a,#65569a,#5648a9,#463bb9,#372ec8,#2721d8,#1814e7,#0908f6,#0505ff,#1313ff,#2121ff,#2e2eff,#3b3bff,#4848ff,#5454ff,#5f5fff,#6a6aff,#7575ff,#7f7fff,#8989ff,#9292ff,#9b9bff,#a3a3ff,#ababff,#b2b2ff,#b9b9ff,#bfbfff,#c5c5ff,#cacaff,#cfcfff,#d4d4ff,#d8d8ff,#dcdcff,#e0e0ff,#e3e3ff,#e6e6ff,#e9e9ff)"></div>
<div class="m" style="top:133.864px;height:14.091px;background:linear-gradient(90deg,#6a6aff,#6262ff,#5959ff,#5050ff,#4747ff,#3e3eff,#3535ff,#2c2cff,#2323ff,#1a1aff,#1111ff,#0808ff,#0201fd,#0b09f4,#1411eb,#1d18e2,#2620d9,#2f28d0,#382fc7,#4137be,#493eb6,#5245ad,#5a4ca5,#63539c,#6b5a94,#73618c,#7b6884,#836e7c,#8b7574,#927b6d,#9a8265,#a1885e,#a88e57,#af9450,#b69949,#bd9f42,#c3a53c,#caaa35,#d0b02f,#d6b529,#ddba22,#e3bf1c,#e9c416,#eec911,#f4ce0b,#fad205,#ffd700,#ffd600,#ffd500,#ffd400,#ffd300,#ffd200,#ffd100,#ffd000,#ffcf00,#ffcf00,#ffce00,#ffcd00,#ffcc00,#ffcc00,#ffcb00,#ffca00,#ffc900,#ffc900,#ffc800,#ffc700,#ffc700,#ffc600,#ffc500,#ffc400,#ffc300,#ffc200,#ffc100,#ffc000,#ffbf00,#ffbe00,#ffbd00,#ffbc00,#ffbb00,#ffba00,#ffb900,#ffb800,#ffb700,#ffb600,#ffb500,#ffb400,#ffb400,#ffb300,#ffb300,#ffb200,#ffb200,#ffb200,#ffb300,#ffb300,#ffb300,#ffb400,#ffb500,#ffb600,#ffb800,#ffb900,#ffbb00,#ffbc00,#ffbe00,#ffc000,#ffc300,#ffc500,#ffc800,#ffca00,#ffcd00,#ffd000,#ffd300,#ffd600,#f7d008,#e7c318,#d8b627,#c8a837,#b79b48,#a78d58,#977f68,#877278,#776488,#665699,#5749a8,#473cb8,#372ec8,#2822d7,#1915e6,#0a08f5,#0505ff,#1313ff,#2020ff,#2e2eff,#3b3bff,#4747ff,#5353ff,#5e5eff,#6969ff,#7474ff,#7e7eff,#8787ff,#9090ff,#9999ff,#a1a1ff,#a9a9ff,#b0b0ff,#b6b6ff,#bdbdff,#c2c2ff,#c8c8ff,#cdcdff,#d1d1ff,#d6d6ff,#dadaff,#ddddff,#e1e1ff,#e4e4ff)"></div>
<div class="m" style="top:140.909px;height:14.091px;background:linear-gradient(90deg,#5656ff,#4c4cff,#4343ff,#3939ff,#2f2fff,#2525ff,#1c1cff,#1212ff,#0808ff,#0202fd,#0c0af3,#1613e9,#201bdf,#2a23d5,#332bcc,#3d34c2,#473cb8,#5044af,#5a4ca5,#63549c,#6d5b92,#766389,#7f6b80,#887277,#907a6f,#998166,#a2885d,#aa8f55,#b2964d,#ba9d45,#c2a43d,#caaa35,#d2b12d,#dab725,#e1be1e,#e8c417,#f0ca0f,#f7d008,#fed601,#ffd600,#ffd500,#ffd300,#ffd200,#ffd100,#ffd000,#ffce00,#ffcd00,#ffcc00,#ffcb00,#ffca00,#ffc900,#ffc800,#ffc700,#ffc600,#ffc500,#ffc500,#ffc400,#ffc300,#ffc300,#ffc200,#ffc100,#ffc100,#ffc000,#ffbf00,#ffbf00,#ffbe00,#ffbe00,#ffbd00,#ffbc00,#ffbc00,#ffbb00,#ffba00,#ffba00,#ffb900,#ffb800,#ffb700,#ffb600,#ffb500,#ffb400,#ffb300,#ffb300,#ffb200,#ffb100,#ffb000,#ffaf00,#ffaf00,#ffae00,#ffae00,#ffae00,#ffad00,#ffad00,#ffae00,#ffae00,#ffae00,#ffaf00,#ffb000,#ffb100,#ffb200,#ffb300,#ffb500,#ffb700,#ffb800,#ffba00,#ffbd00,#ffbf00,#ffc100,#ffc400,#ffc600,#ffc900,#ffcc00,#ffcf00,#ffd200,#ffd500,#fad205,#eac515,#d9b726,#c9aa36,#b99c46,#a88e57,#988067,#887277,#776588,#675798,#5749a8,#473cb8,#382fc7,#2822d7,#1915e6,#0b09f4,#0404ff,#1212ff,#1f1fff,#2c2cff,#3939ff,#4545ff,#5151ff,#5c5cff,#6767ff,#7171ff,#7b7bff,#8585ff,#8d8dff,#9696ff,#9e9eff,#a5a5ff,#acacff,#b3b3ff,#b9b9ff,#bebeff,#c4c4ff,#c9c9ff,#cdcdff,#d2d2ff,#d6d6ff,#d9d9ff,#ddddff)"></div>
<div class="m" style="top:147.955px;height:14.091px;background:linear-gradient(90deg,#4040ff,#3535ff,#2b2bff,#2020ff,#1616ff,#0b0bff,#0000ff,#0b09f4,#1612e9,#201bdf,#2b24d4,#362dc9,#4136be,#4b3fb4,#5648a9,#60519f,#6b5a94,#75628a,#7f6b80,#897376,#937c6c,#9d8462,#a68c59,#b0944f,#b99c46,#c2a43d,#cbab34,#d4b32b,#ddba22,#e6c219,#eec911,#f7d008,#ffd700,#ffd500,#ffd400,#ffd200,#ffd100,#ffcf00,#ffce00,#ffcc00,#ffcb00,#ffca00,#ffc800,#ffc700,#ffc600,#ffc400,#ffc300,#ffc200,#ffc100,#ffc000,#ffbf00,#ffbe00,#ffbd00,#ffbc00,#ffbb00,#ffbb00,#ffba00,#ffb900,#ffb900,#ffb800,#ffb800,#ffb700,#ffb700,#ffb600,#ffb600,#ffb600,#ffb500,#ffb500,#ffb400,#ffb400,#ffb300,#ffb300,#ffb200,#ffb200,#ffb100,#ffb000,#ffb000,#ffaf00,#ffae00,#ffae00,#ffad00,#ffac00,#ffab00,#ffab00,#ffaa00,#ffaa00,#ffa900,#ffa900,#ffa900,#ffa900,#ffa900,#ffa900,#ffaa00,#ffaa00,#ffab00,#ffac00,#ffad00,#ffae00,#ffb000,#ffb100,#ffb300,#ffb500,#ffb700,#ffb900,#ffbb00,#ffbe00,#ffc000,#ffc300,#ffc600,#ffc900,#ffcc00,#ffcf00,#ffd200,#ffd500,#fad305,#eac515,#dab825,#c9aa36,#b99c46,#a98e56,#988067,#887377,#786587,#685797,#584aa7,#483db7,#3930c6,#2a23d5,#1b17e4,#0d0bf2,#0202ff,#0f0fff,#1d1dff,#2929ff,#3636ff,#4242ff,#4d4dff,#5858ff,#6363ff,#6d6dff,#7777ff,#8080ff,#8888ff,#9191ff,#9898ff,#a0a0ff,#a6a6ff,#adadff,#b3b3ff,#b9b9ff,#bebeff,#c3c3ff,#c8c8ff,#ccccff,#d0d0ff,#d4d4ff)"></div>
<div class="m" style="top:155.000px;height:14.091px;background:linear-gradient(90deg,#2929ff,#1e1eff,#1212ff,#0606ff,#0605f9,#110fee,#1d19e2,#2923d6,#352dca,#4137be,#4c40b3,#584aa7,#64549b,#6f5e90,#7a6785,#867179,#917a6e,#9c8363,#a78d58,#b1964e,#bc9e43,#c6a739,#d1b02e,#dbb824,#e5c11a,#eec911,#f8d107,#ffd700,#ffd500,#ffd300,#ffd100,#ffcf00,#ffce00,#ffcc00,#ffca00,#ffc900,#ffc700,#ffc600,#ffc400,#ffc300,#ffc100,#ffc000,#ffbe00,#ffbd00,#ffbc00,#ffba00,#ffb900,#ffb800,#ffb700,#ffb600,#ffb500,#ffb400,#ffb300,#ffb200,#ffb200,#ffb100,#ffb000,#ffb000,#ffaf00,#ffaf00,#ffaf00,#ffae00,#ffae00,#ffae00,#ffad00,#ffad00,#ffad00,#ffad00,#ffad00,#ffac00,#ffac00,#ffac00,#ffab00,#ffab00,#ffab00,#ffaa00,#ffaa00,#ffa900,#ffa900,#ffa800,#ffa800,#ffa700,#ffa700,#ffa600,#ffa600,#ffa500,#ffa500,#ffa500,#ffa500,#ffa500,#ffa500,#ffa600,#ffa600,#ffa700,#ffa800,#ffa900,#ffaa00,#ffab00,#ffad00,#ffae00,#ffb000,#ffb200,#ffb400,#ffb600,#ffb900,#ffbb00,#ffbe00,#ffc000,#ffc300,#ffc600,#ffc900,#ffcc00,#ffcf00,#ffd200,#ffd500,#f9d206,#e9c516,#d9b726,#c9a936,#b89b47,#a88e57,#988067,#887377,#786587,#685897,#594ba6,#4a3eb5,#3b31c4,#2c25d3,#1d19e2,#0f0df0,#0201fd,#0c0cff,#1919ff,#2525ff,#3131ff,#3d3dff,#4848ff,#5353ff,#5d5dff,#6767ff,#7070ff,#7979ff,#8282ff,#8a8aff,#9191ff,#9898ff,#9f9fff,#a6a6ff,#acacff,#b1b1ff,#b7b7ff,#bcbcff,#c1c1ff,#c5c5ff,#c9c9ff)"></div>
<div class="m" style="top:162.045px;height:14.091px;background:linear-gradient(90deg,#1212ff,#0505ff,#0807f7,#1511ea,#221cdd,#2f27d0,#3c32c3,#493db6,#5548aa,#62539d,#6f5e90,#7c6883,#887377,#957d6a,#a1885e,#ad9252,#b99c46,#c5a63a,#d0b02f,#dcb923,#e7c318,#f2cc0d,#fdd502,#ffd500,#ffd300,#ffd100,#ffcf00,#ffcd00,#ffcb00,#ffca00,#ffc800,#ffc600,#ffc400,#ffc200,#ffc100,#ffbf00,#ffbe00,#ffbc00,#ffba00,#ffb900,#ffb700,#ffb600,#ffb500,#ffb300,#ffb200,#ffb100,#ffb000,#ffae00,#ffad00,#ffac00,#ffab00,#ffab00,#ffaa00,#ffa900,#ffa800,#ffa800,#ffa700,#ffa700,#ffa700,#ffa600,#ffa600,#ffa600,#ffa600,#ffa600,#ffa600,#ffa600,#ffa600,#ffa600,#ffa600,#ffa600,#ffa600,#ffa500,#ffa500,#ffa500,#ffa500,#ffa400,#ffa300,#ffa200,#ffa100,#ffa000,#ff9f00,#ff9e00,#ff9d00,#ff9c00,#ff9b00,#ff9a00,#ff9a00,#ff9a00,#ff9a00,#ff9b00,#ff9c00,#ff9e00,#ffa000,#ffa200,#ffa500,#ffa600,#ffa700,#ffa900,#ffaa00,#ffac00,#ffae00,#ffb000,#ffb200,#ffb400,#ffb600,#ffb900,#ffbb00,#ffbe00,#ffc100,#ffc400,#ffc600,#ffc900,#ffcc00,#ffcf00,#ffd200,#ffd600,#f7d008,#e7c318,#d7b528,#c7a838,#b79a48,#a78d58,#988067,#887377,#796686,#695996,#5a4ca5,#4c40b3,#3d33c2,#2f27d0,#211cde,#1310ec,#0605f9,#0707ff,#1313ff,#1f1fff,#2b2bff,#3636ff,#4141ff,#4b4bff,#5555ff,#5f5fff,#6868ff,#7171ff,#7979ff,#8181ff,#8888ff,#8f8fff,#9696ff,#9d9dff,#a3a3ff,#a9a9ff,#aeaeff,#b3b3ff,#b8b8ff,#bdbdff)"></div>
<div class="m" style="top:169.091px;height:14.091px;background:linear-gradient(90deg,#0605f9,#1411eb,#221ddd,#3028cf,#3e34c1,#4c40b3,#5a4ca5,#695896,#776488,#85707a,#927c6d,#a0875f,#ae9351,#bb9e44,#c8a937,#d5b42a,#e2bf1d,#efc910,#fbd404,#ffd500,#ffd300,#ffd100,#ffcf00,#ffcc00,#ffca00,#ffc800,#ffc600,#ffc400,#ffc200,#ffc000,#ffbe00,#ffbd00,#ffbb00,#ffb900,#ffb700,#ffb600,#ffb400,#ffb200,#ffb100,#ffaf00,#ffae00,#ffad00,#ffab00,#ffaa00,#ffa900,#ffa700,#ffa600,#ffa500,#ffa300,#ffa000,#ff9d00,#ff9b00,#ff9800,#ff9600,#ff9500,#ff9300,#ff9200,#ff9100,#ff9100,#ff9000,#ff9000,#ff9000,#ff9000,#ff9100,#ff9100,#ff9200,#ff9200,#ff9300,#ff9300,#ff9400,#ff9400,#ff9400,#ff9400,#ff9500,#ff9500,#ff9400,#ff9400,#ff9400,#ff9300,#ff9300,#ff9200,#ff9200,#ff9100,#ff9100,#ff9100,#ff9100,#ff9100,#ff9200,#ff9200,#ff9300,#ff9500,#ff9700,#ff9900,#ff9c00,#ff9f00,#ffa300,#ffa600,#ffa700,#ffa900,#ffaa00,#ffac00,#ffae00,#ffb000,#ffb300,#ffb500,#ffb700,#ffba00,#ffbd00,#ffbf00,#ffc200,#ffc500,#ffc800,#ffcb00,#ffce00,#ffd000,#ffd300,#ffd600,#f2cc0d,#e3bf1c,#d4b22b,#c4a63b,#b5994a,#a68c59,#977f68,#887377,#796686,#6b5a94,#5c4ea3,#4e42b1,#4036bf,#332bcc,#2520da,#1915e6,#0c0af3,#0000ff,#0c0cff,#1818ff,#2323ff,#2e2eff,#3838ff,#4242ff,#4c4cff,#5555ff,#5e5eff,#6767ff,#6f6fff,#7676ff,#7e7eff,#8585ff,#8c8cff,#9292ff,#9999ff,#9f9fff,#a4a4ff,#aaaaff,#afafff)"></div>
<div class="m" style="top:176.136px;height:14.091px;background:linear-gradient(90deg,#1d19e2,#2c25d3,#3c32c3,#4b3fb4,#5b4ca4,#6a5995,#796686,#897376,#988067,#a78d58,#b69949,#c5a63a,#d3b22c,#e2be1d,#f0ca0f,#fed601,#ffd500,#ffd200,#ffcf00,#ffcd00,#ffca00,#ffc800,#ffc600,#ffc400,#ffc100,#ffbf00,#ffbd00,#ffbb00,#ffb900,#ffb700,#ffb500,#ffb300,#ffb200,#ffb000,#ffae00,#ffad00,#ffab00,#ffa900,#ffa800,#ffa700,#ffa500,#ffa100,#ff9d00,#ff9900,#ff9500,#ff9200,#ff8e00,#ff8b00,#ff8800,#ff8600,#ff8300,#ff8100,#ff7f00,#ff7e00,#ff7d00,#ff7c00,#ff7b00,#ff7b00,#ff7b00,#ff7b00,#ff7b00,#ff7c00,#ff7c00,#ff7d00,#ff7e00,#ff7f00,#ff8000,#ff8100,#ff8200,#ff8300,#ff8400,#ff8500,#ff8600,#ff8700,#ff8700,#ff8800,#ff8800,#ff8800,#ff8800,#ff8900,#ff8900,#ff8900,#ff8900,#ff8900,#ff8900,#ff8a00,#ff8b00,#ff8c00,#ff8d00,#ff8f00,#ff9100,#ff9300,#ff9600,#ff9900,#ff9d00,#ffa100,#ffa500,#ffa700,#ffa800,#ffaa00,#ffac00,#ffae00,#ffb000,#ffb200,#ffb500,#ffb700,#ffb900,#ffbc00,#ffbf00,#ffc100,#ffc400,#ffc700,#ffca00,#ffcc00,#ffcf00,#ffd200,#ffd500,#fbd404,#edc712,#debb21,#cfaf30,#c1a33e,#b2964d,#a48a5b,#967e69,#887277,#7a6785,#6c5b93,#5f50a0,#5145ae,#443abb,#372fc8,#2b24d4,#1f1ae0,#1310ec,#0706f8,#0404ff,#0f0fff,#1a1aff,#2424ff,#2e2eff,#3838ff,#4141ff,#4a4aff,#5353ff,#5b5bff,#6363ff,#6b6bff,#7373ff,#7a7aff,#8181ff,#8888ff,#8e8eff,#9494ff,#9a9aff,#a0a0ff)"></div>
<div class="m" style="top:183.182px;height:14.091px;background:linear-gradient(90deg,#342ccb,#443abb,#5548aa,#665699,#766489,#877278,#978068,#a88e57,#b89b47,#c9a936,#d9b726,#e8c417,#f8d107,#ffd500,#ffd200,#ffd000,#ffcd00,#ffca00,#ffc700,#ffc500,#ffc200,#ffc000,#ffbd00,#ffbb00,#ffb900,#ffb700,#ffb500,#ffb200,#ffb000,#ffaf00,#ffad00,#ffab00,#ffa900,#ffa800,#ffa600,#ffa300,#ff9e00,#ff9900,#ff9500,#ff9000,#ff8c00,#ff8800,#ff8400,#ff8000,#ff7d00,#ff7a00,#ff7700,#ff7400,#ff7200,#ff7000,#ff6e00,#ff6c00,#ff6b00,#ff6a00,#ff6900,#ff6900,#ff6800,#ff6800,#ff6900,#ff6900,#ff6a00,#ff6b00,#ff6c00,#ff6e00,#ff6f00,#ff7000,#ff7200,#ff7400,#ff7500,#ff7700,#ff7800,#ff7900,#ff7b00,#ff7c00,#ff7d00,#ff7e00,#ff7f00,#ff8000,#ff8000,#ff8100,#ff8200,#ff8200,#ff8300,#ff8400,#ff8500,#ff8600,#ff8700,#ff8900,#ff8b00,#ff8d00,#ff8f00,#ff9200,#ff9500,#ff9900,#ff9d00,#ffa100,#ffa500,#ffa700,#ffa900,#ffaa00,#ffac00,#ffae00,#ffb100,#ffb300,#ffb500,#ffb700,#ffba00,#ffbc00,#ffbf00,#ffc100,#ffc400,#ffc700,#ffc900,#ffcc00,#ffcf00,#ffd100,#ffd400,#ffd700,#f3cd0c,#e5c11a,#d8b627,#caaa35,#bc9f43,#af9350,#a2885d,#947d6b,#877278,#7a6785,#6e5c91,#61529e,#5547aa,#483db7,#3c33c3,#3129ce,#251fda,#1a16e5,#0f0df0,#0404fb,#0606ff,#1010ff,#1a1aff,#2424ff,#2d2dff,#3636ff,#3f3fff,#4848ff,#5050ff,#5858ff,#6060ff,#6767ff,#6e6eff,#7676ff,#7c7cff,#8383ff,#8a8aff,#9090ff)"></div>
<div class="m" style="top:190.227px;height:14.091px;background:linear-gradient(90deg,#493eb6,#5b4da4,#6d5c92,#7e6b81,#907a6f,#a2895d,#b4984b,#c6a739,#d7b528,#e8c417,#f9d206,#ffd500,#ffd200,#ffce00,#ffcb00,#ffc800,#ffc500,#ffc300,#ffc000,#ffbd00,#ffbb00,#ffb800,#ffb600,#ffb300,#ffb100,#ffaf00,#ffad00,#ffab00,#ffa900,#ffa700,#ffa500,#ffa000,#ff9a00,#ff9500,#ff9000,#ff8b00,#ff8700,#ff8200,#ff7e00,#ff7a00,#ff7600,#ff7300,#ff6f00,#ff6c00,#ff6900,#ff6700,#ff6400,#ff6200,#ff6000,#ff5e00,#ff5d00,#ff5c00,#ff5b00,#ff5a00,#ff5a00,#ff5a00,#ff5a00,#ff5b00,#ff5b00,#ff5c00,#ff5e00,#ff5f00,#ff6000,#ff6200,#ff6400,#ff6600,#ff6800,#ff6900,#ff6b00,#ff6d00,#ff6f00,#ff7100,#ff7300,#ff7400,#ff7600,#ff7700,#ff7800,#ff7a00,#ff7b00,#ff7c00,#ff7d00,#ff7f00,#ff8000,#ff8100,#ff8300,#ff8500,#ff8600,#ff8900,#ff8b00,#ff8e00,#ff9100,#ff9400,#ff9800,#ff9c00,#ffa000,#ffa500,#ffa700,#ffa800,#ffaa00,#ffac00,#ffae00,#ffb000,#ffb200,#ffb400,#ffb700,#ffb900,#ffbb00,#ffbe00,#ffc000,#ffc200,#ffc500,#ffc700,#ffca00,#ffcc00,#ffcf00,#ffd100,#ffd400,#ffd600,#f5cf0a,#e9c416,#dcba23,#cfaf30,#c3a43c,#b79a48,#aa9055,#9e8561,#927b6d,#867179,#7a6785,#6e5d91,#63539c,#574aa8,#4c40b3,#4137be,#362ec9,#2b25d4,#211cde,#1713e8,#0d0bf2,#0302fc,#0707ff,#1010ff,#1a1aff,#2323ff,#2b2bff,#3434ff,#3c3cff,#4444ff,#4c4cff,#5454ff,#5c5cff,#6464ff,#6b6bff,#7272ff,#7979ff,#8080ff)"></div>
<div class="m" style="top:197.273px;height:14.091px;background:linear-gradient(90deg,#5d4ea2,#705e8f,#826e7d,#957e6a,#a88e57,#bb9e44,#ceae31,#e1bd1e,#f3cd0c,#ffd600,#ffd200,#ffcf00,#ffcb00,#ffc800,#ffc500,#ffc200,#ffbf00,#ffbc00,#ffb900,#ffb600,#ffb400,#ffb100,#ffaf00,#ffac00,#ffaa00,#ffa800,#ffa600,#ffa200,#ff9c00,#ff9600,#ff9000,#ff8b00,#ff8600,#ff8100,#ff7c00,#ff7800,#ff7400,#ff7000,#ff6c00,#ff6900,#ff6600,#ff6300,#ff6000,#ff5d00,#ff5b00,#ff5900,#ff5700,#ff5500,#ff5400,#ff5200,#ff5100,#ff5100,#ff5000,#ff5000,#ff5000,#ff5000,#ff5100,#ff5200,#ff5300,#ff5400,#ff5500,#ff5700,#ff5900,#ff5b00,#ff5d00,#ff5f00,#ff6100,#ff6300,#ff6500,#ff6700,#ff6900,#ff6b00,#ff6d00,#ff6f00,#ff7100,#ff7300,#ff7500,#ff7600,#ff7800,#ff7a00,#ff7c00,#ff7d00,#ff7f00,#ff8100,#ff8300,#ff8600,#ff8800,#ff8b00,#ff8e00,#ff9100,#ff9500,#ff9900,#ff9d00,#ffa200,#ffa600,#ffa700,#ffa900,#ffab00,#ffac00,#ffae00,#ffb000,#ffb200,#ffb500,#ffb700,#ffb900,#ffbb00,#ffbe00,#ffc000,#ffc200,#ffc500,#ffc700,#ffc900,#ffcc00,#ffce00,#ffd000,#ffd200,#ffd500,#ffd700,#f3cd0c,#e8c317,#dcba23,#d1b02e,#c6a739,#ba9d45,#af9450,#a48a5b,#998166,#8e7871,#836f7c,#796686,#6e5d91,#64549b,#594ba6,#4f43b0,#453aba,#3b32c4,#3129ce,#2721d8,#1e19e1,#1411eb,#0b09f4,#0201fd,#0707ff,#1010ff,#1919ff,#2121ff,#2a2aff,#3232ff,#3a3aff,#4242ff,#4a4aff,#5252ff,#5a5aff,#6262ff,#6969ff,#7070ff)"></div>
<div class="m" style="top:204.318px;height:14.091px;background:linear-gradient(90deg,#6e5d91,#826d7d,#967e69,#a98f56,#bda042,#d1b02e,#e5c11a,#f8d107,#ffd500,#ffd100,#ffcd00,#ffca00,#ffc600,#ffc300,#ffbf00,#ffbc00,#ffb900,#ffb600,#ffb300,#ffb000,#ffae00,#ffab00,#ffa900,#ffa700,#ffa300,#ff9c00,#ff9600,#ff9000,#ff8a00,#ff8500,#ff7f00,#ff7a00,#ff7600,#ff7200,#ff6e00,#ff6a00,#ff6600,#ff6300,#ff6000,#ff5d00,#ff5a00,#ff5800,#ff5500,#ff5300,#ff5200,#ff5000,#ff4e00,#ff4d00,#ff4c00,#ff4c00,#ff4b00,#ff4b00,#ff4b00,#ff4b00,#ff4b00,#ff4c00,#ff4d00,#ff4e00,#ff4f00,#ff5000,#ff5200,#ff5300,#ff5500,#ff5700,#ff5900,#ff5c00,#ff5e00,#ff6000,#ff6200,#ff6400,#ff6700,#ff6900,#ff6b00,#ff6d00,#ff6f00,#ff7100,#ff7400,#ff7600,#ff7800,#ff7a00,#ff7c00,#ff7f00,#ff8100,#ff8400,#ff8600,#ff8900,#ff8d00,#ff9000,#ff9400,#ff9800,#ff9c00,#ffa000,#ffa500,#ffa700,#ffa800,#ffaa00,#ffac00,#ffae00,#ffb000,#ffb200,#ffb400,#ffb600,#ffb800,#ffba00,#ffbd00,#ffbf00,#ffc100,#ffc300,#ffc500,#ffc800,#ffca00,#ffcc00,#ffce00,#ffd000,#ffd200,#ffd400,#ffd700,#f7d008,#ecc713,#e2bf1d,#d8b627,#cead31,#c4a53b,#ba9d45,#b0944f,#a68c59,#9c8463,#927b6d,#897376,#7f6b80,#766389,#6c5b93,#63539c,#594ba6,#5043af,#473cb8,#3e34c1,#352cca,#2c25d3,#231ddc,#1a16e5,#110eee,#0907f6,#0000ff,#0909ff,#1111ff,#1919ff,#2222ff,#2a2aff,#3232ff,#3a3aff,#4242ff,#4a4aff,#5252ff,#5a5aff,#6262ff)"></div>
<div class="m" style="top:211.364px;height:14.091px;background:linear-gradient(90deg,#7c6983,#917a6e,#a68c59,#ba9d45,#cfae30,#e4c01b,#f8d107,#ffd400,#ffd100,#ffcd00,#ffc900,#ffc500,#ffc200,#ffbe00,#ffbb00,#ffb800,#ffb400,#ffb100,#ffaf00,#ffac00,#ffa900,#ffa700,#ffa300,#ff9c00,#ff9500,#ff8e00,#ff8800,#ff8200,#ff7d00,#ff7800,#ff7300,#ff6f00,#ff6b00,#ff6700,#ff6400,#ff6100,#ff5e00,#ff5b00,#ff5800,#ff5600,#ff5400,#ff5200,#ff5000,#ff4f00,#ff4d00,#ff4c00,#ff4b00,#ff4b00,#ff4a00,#ff4a00,#ff4a00,#ff4a00,#ff4a00,#ff4a00,#ff4b00,#ff4c00,#ff4c00,#ff4e00,#ff4f00,#ff5000,#ff5200,#ff5400,#ff5600,#ff5700,#ff5a00,#ff5c00,#ff5e00,#ff6000,#ff6200,#ff6400,#ff6700,#ff6900,#ff6b00,#ff6e00,#ff7000,#ff7200,#ff7500,#ff7700,#ff7a00,#ff7c00,#ff7f00,#ff8200,#ff8500,#ff8800,#ff8b00,#ff8f00,#ff9300,#ff9700,#ff9b00,#ffa000,#ffa500,#ffa700,#ffa800,#ffaa00,#ffac00,#ffae00,#ffb000,#ffb200,#ffb400,#ffb600,#ffb800,#ffba00,#ffbd00,#ffbf00,#ffc100,#ffc300,#ffc500,#ffc700,#ffca00,#ffcc00,#ffce00,#ffd000,#ffd200,#ffd400,#ffd600,#fcd503,#f3cd0c,#eac515,#e0bd1f,#d7b628,#ceae31,#c6a739,#bd9f42,#b4984b,#ab9154,#a3895c,#9a8265,#927b6d,#897476,#816d7e,#796686,#705f8f,#685797,#5f50a0,#5749a8,#4f42b0,#463bb9,#3e34c1,#362dc9,#2e26d1,#2520da,#1d19e2,#1512ea,#0d0bf2,#0504fa,#0404ff,#0c0cff,#1414ff,#1c1cff,#2424ff,#2d2dff,#3535ff,#3d3dff,#4545ff,#4e4eff,#5656ff)"></div>
<div class="m" style="top:218.409px;height:14.091px;background:linear-gradient(90deg,#887277,#9d8462,#b2964d,#c7a838,#ddba22,#f2cc0d,#ffd500,#ffd100,#ffcd00,#ffca00,#ffc600,#ffc200,#ffbe00,#ffbb00,#ffb700,#ffb400,#ffb100,#ffae00,#ffab00,#ffa900,#ffa600,#ffa000,#ff9900,#ff9200,#ff8b00,#ff8500,#ff7f00,#ff7a00,#ff7500,#ff7000,#ff6c00,#ff6800,#ff6500,#ff6200,#ff5f00,#ff5c00,#ff5a00,#ff5800,#ff5600,#ff5400,#ff5200,#ff5100,#ff5000,#ff4f00,#ff4e00,#ff4d00,#ff4d00,#ff4d00,#ff4c00,#ff4c00,#ff4c00,#ff4d00,#ff4d00,#ff4e00,#ff4e00,#ff4f00,#ff5000,#ff5100,#ff5300,#ff5400,#ff5600,#ff5700,#ff5900,#ff5b00,#ff5d00,#ff5f00,#ff6100,#ff6300,#ff6500,#ff6700,#ff6900,#ff6b00,#ff6e00,#ff7000,#ff7300,#ff7500,#ff7800,#ff7a00,#ff7d00,#ff8000,#ff8400,#ff8700,#ff8a00,#ff8e00,#ff9200,#ff9700,#ff9b00,#ffa000,#ffa500,#ffa700,#ffa800,#ffaa00,#ffac00,#ffae00,#ffb000,#ffb200,#ffb400,#ffb600,#ffb900,#ffbb00,#ffbd00,#ffbf00,#ffc200,#ffc400,#ffc600,#ffc800,#ffca00,#ffcc00,#ffcf00,#ffd100,#ffd200,#ffd400,#ffd600,#fad305,#f1cb0e,#e8c417,#e0bd1f,#d7b628,#cfaf30,#c8a837,#c0a23f,#b89b47,#b1954e,#a98f56,#a2885d,#9b8264,#937c6c,#8c7673,#85707a,#7e6a81,#766489,#6f5e90,#685897,#61519e,#594ba6,#5245ad,#4b3fb4,#4339bc,#3c32c3,#342ccb,#2d26d2,#251fda,#1d19e2,#1612e9,#0e0cf1,#0605f9,#0202ff,#0a0aff,#1212ff,#1a1aff,#2222ff,#2a2aff,#3333ff,#3b3bff,#4343ff,#4c4cff)"></div>
<div class="m" style="top:225.455px;height:14.091px;background:linear-gradient(90deg,#8f7970,#a58b5a,#bb9d44,#d0b02f,#e6c219,#fcd403,#ffd300,#ffcf00,#ffcb00,#ffc700,#ffc300,#ffc000,#ffbc00,#ffb900,#ffb500,#ffb200,#ffaf00,#ffac00,#ffa900,#ffa600,#ffa200,#ff9a00,#ff9300,#ff8c00,#ff8600,#ff8000,#ff7b00,#ff7600,#ff7200,#ff6d00,#ff6a00,#ff6700,#ff6400,#ff6100,#ff5f00,#ff5c00,#ff5b00,#ff5900,#ff5800,#ff5600,#ff5500,#ff5400,#ff5400,#ff5300,#ff5300,#ff5300,#ff5200,#ff5200,#ff5300,#ff5300,#ff5300,#ff5300,#ff5400,#ff5500,#ff5500,#ff5600,#ff5700,#ff5800,#ff5900,#ff5b00,#ff5c00,#ff5d00,#ff5f00,#ff6000,#ff6200,#ff6400,#ff6600,#ff6700,#ff6900,#ff6b00,#ff6d00,#ff7000,#ff7200,#ff7400,#ff7700,#ff7a00,#ff7c00,#ff7f00,#ff8300,#ff8600,#ff8a00,#ff8e00,#ff9200,#ff9600,#ff9b00,#ffa000,#ffa500,#ffa700,#ffa900,#ffaa00,#ffac00,#ffae00,#ffb000,#ffb300,#ffb500,#ffb700,#ffb900,#ffbc00,#ffbe00,#ffc000,#ffc300,#ffc500,#ffc700,#ffca00,#ffcc00,#ffce00,#ffd000,#ffd200,#ffd400,#ffd600,#fad305,#f1cb0e,#e8c317,#dfbc20,#d7b628,#d0af2f,#c8a937,#c1a33e,#ba9d45,#b3974c,#ac9153,#a68c59,#a0875f,#998166,#937c6c,#8d7772,#877278,#816d7e,#7b6884,#75638a,#6f5e90,#695896,#63539c,#5d4ea2,#5649a9,#5044af,#4a3eb5,#4339bc,#3d33c2,#362dc9,#2f28d0,#2822d7,#211cde,#1a16e5,#1310ec,#0b0af4,#0403fb,#0404ff,#0c0cff,#1313ff,#1b1bff,#2424ff,#2c2cff,#3434ff,#3d3dff,#4545ff)"></div>
<div class="m" style="top:232.500px;height:14.091px;background:linear-gradient(90deg,#937c6c,#a98f56,#bfa140,#d5b42a,#ebc614,#ffd700,#ffd200,#ffce00,#ffca00,#ffc600,#ffc200,#ffbf00,#ffbb00,#ffb700,#ffb400,#ffb100,#ffae00,#ffab00,#ffa800,#ffa600,#ff9f00,#ff9800,#ff9100,#ff8b00,#ff8500,#ff7f00,#ff7b00,#ff7600,#ff7200,#ff6f00,#ff6b00,#ff6900,#ff6600,#ff6400,#ff6200,#ff6000,#ff5f00,#ff5e00,#ff5d00,#ff5c00,#ff5c00,#ff5b00,#ff5b00,#ff5b00,#ff5b00,#ff5b00,#ff5b00,#ff5b00,#ff5b00,#ff5c00,#ff5c00,#ff5d00,#ff5d00,#ff5e00,#ff5f00,#ff5f00,#ff6000,#ff6100,#ff6200,#ff6300,#ff6400,#ff6500,#ff6600,#ff6800,#ff6900,#ff6b00,#ff6c00,#ff6e00,#ff6f00,#ff7100,#ff7300,#ff7500,#ff7800,#ff7a00,#ff7d00,#ff7f00,#ff8200,#ff8600,#ff8900,#ff8d00,#ff9100,#ff9500,#ff9a00,#ff9f00,#ffa400,#ffa700,#ffa800,#ffaa00,#ffac00,#ffae00,#ffb100,#ffb300,#ffb500,#ffb700,#ffba00,#ffbc00,#ffbf00,#ffc100,#ffc400,#ffc600,#ffc900,#ffcb00,#ffce00,#ffd000,#ffd200,#ffd400,#ffd600,#f7d008,#edc812,#e4c01b,#dab825,#d2b12d,#caaa35,#c2a33d,#ba9d45,#b3974c,#ad9152,#a68c59,#a0875f,#9a8265,#957d6a,#8f7970,#8a7475,#85707a,#806c7f,#7b6884,#766389,#715f8e,#6c5b93,#675798,#63539c,#5e4fa1,#594ba6,#5346ac,#4e42b1,#493eb6,#4439bb,#3e34c1,#3830c7,#332bcc,#2d26d2,#2620d9,#201bdf,#1a16e5,#1310ec,#0c0af3,#0504fa,#0202ff,#0909ff,#1111ff,#1919ff,#2121ff,#2929ff,#3131ff,#3a3aff,#4242ff)"></div>
<div class="m" style="top:239.545px;height:14.091px;background:linear-gradient(90deg,#947d6b,#aa8f55,#c0a23f,#d6b429,#ecc713,#ffd700,#ffd200,#ffce00,#ffca00,#ffc600,#ffc200,#ffbf00,#ffbb00,#ffb700,#ffb400,#ffb100,#ffae00,#ffab00,#ffa900,#ffa600,#ffa100,#ff9a00,#ff9300,#ff8d00,#ff8700,#ff8200,#ff7e00,#ff7a00,#ff7600,#ff7300,#ff7000,#ff6e00,#ff6c00,#ff6a00,#ff6800,#ff6700,#ff6600,#ff6600,#ff6500,#ff6500,#ff6400,#ff6400,#ff6400,#ff6400,#ff6500,#ff6500,#ff6500,#ff6600,#ff6600,#ff6700,#ff6700,#ff6800,#ff6800,#ff6900,#ff6900,#ff6a00,#ff6b00,#ff6b00,#ff6c00,#ff6d00,#ff6d00,#ff6e00,#ff6f00,#ff7000,#ff7100,#ff7200,#ff7400,#ff7500,#ff7600,#ff7800,#ff7a00,#ff7c00,#ff7e00,#ff8000,#ff8300,#ff8600,#ff8900,#ff8d00,#ff9100,#ff9500,#ff9900,#ff9e00,#ffa300,#ffa600,#ffa800,#ffaa00,#ffac00,#ffae00,#ffb000,#ffb300,#ffb500,#ffb700,#ffba00,#ffbd00,#ffbf00,#ffc200,#ffc400,#ffc700,#ffca00,#ffcc00,#ffcf00,#ffd200,#ffd400,#ffd600,#f6d009,#ebc614,#e0bd1f,#d5b42a,#ccac33,#c2a43d,#b99c46,#b1954e,#a98e56,#a2885d,#9b8264,#947d6b,#8e7871,#887377,#836e7c,#7e6a81,#796686,#75628a,#705f8f,#6c5b93,#685897,#64559b,#60519f,#5d4ea2,#594ba6,#5548aa,#5145ae,#4d41b2,#493eb6,#453bba,#4137be,#3d33c2,#3930c6,#342ccb,#2f28d0,#2a24d5,#251fda,#201bdf,#1a16e5,#1511ea,#0f0cf0,#0807f7,#0202fd,#0505ff,#0c0cff,#1313ff,#1a1aff,#2222ff,#2a2aff,#3232ff,#3a3aff,#4242ff)"></div>
<div class="m" style="top:246.591px;height:14.091px;background:linear-gradient(90deg,#917a6e,#a78d58,#bd9f42,#d3b22c,#e8c417,#fed601,#ffd300,#ffcf00,#ffcb00,#ffc700,#ffc300,#ffbf00,#ffbc00,#ffb800,#ffb500,#ffb200,#ffaf00,#ffac00,#ffaa00,#ffa700,#ffa500,#ff9e00,#ff9800,#ff9200,#ff8d00,#ff8800,#ff8400,#ff8000,#ff7d00,#ff7a00,#ff7700,#ff7500,#ff7300,#ff7200,#ff7100,#ff7000,#ff6f00,#ff6f00,#ff6f00,#ff6f00,#ff6f00,#ff6f00,#ff6f00,#ff6f00,#ff7000,#ff7000,#ff7100,#ff7100,#ff7200,#ff7200,#ff7300,#ff7300,#ff7300,#ff7400,#ff7400,#ff7500,#ff7500,#ff7600,#ff7600,#ff7700,#ff7700,#ff7800,#ff7800,#ff7900,#ff7a00,#ff7b00,#ff7c00,#ff7d00,#ff7e00,#ff7f00,#ff8100,#ff8300,#ff8500,#ff8800,#ff8a00,#ff8d00,#ff9100,#ff9400,#ff9900,#ff9d00,#ffa200,#ffa600,#ffa700,#ffa900,#ffab00,#ffad00,#ffb000,#ffb200,#ffb400,#ffb700,#ffb900,#ffbc00,#ffbf00,#ffc200,#ffc400,#ffc700,#ffca00,#ffcd00,#ffd000,#ffd200,#ffd500,#fbd304,#eec811,#e1be1e,#d5b32a,#c9a936,#bea041,#b3974c,#a98f56,#a0875f,#977f68,#8f7870,#877278,#806c7f,#796686,#73618c,#6e5c91,#685897,#64549b,#5f50a0,#5b4da4,#574aa8,#5447ab,#5144ae,#4d41b2,#4a3fb5,#473cb8,#443abb,#4237bd,#3f35c0,#3c33c3,#3930c6,#362ec9,#332bcc,#3028cf,#2d26d2,#2923d6,#2520da,#221cdd,#1e19e1,#1915e6,#1512ea,#100def,#0b09f4,#0605f9,#0000ff,#0606ff,#0c0cff,#1212ff,#1919ff,#2020ff,#2727ff,#2f2fff,#3636ff,#3e3eff,#4646ff)"></div>
<div class="m" style="top:253.636px;height:14.091px;background:linear-gradient(90deg,#8b7574,#a0875f,#b69a49,#ccac33,#e2be1d,#f7d008,#ffd400,#ffd000,#ffcc00,#ffc800,#ffc500,#ffc100,#ffbd00,#ffba00,#ffb700,#ffb400,#ffb100,#ffae00,#ffac00,#ffa900,#ffa700,#ffa500,#ff9f00,#ff9900,#ff9400,#ff9000,#ff8c00,#ff8800,#ff8500,#ff8200,#ff8000,#ff7e00,#ff7d00,#ff7b00,#ff7a00,#ff7a00,#ff7900,#ff7900,#ff7900,#ff7900,#ff7900,#ff7a00,#ff7a00,#ff7a00,#ff7b00,#ff7b00,#ff7c00,#ff7c00,#ff7d00,#ff7d00,#ff7e00,#ff7e00,#ff7e00,#ff7f00,#ff7f00,#ff7f00,#ff7f00,#ff8000,#ff8000,#ff8000,#ff8000,#ff8100,#ff8100,#ff8100,#ff8200,#ff8300,#ff8300,#ff8400,#ff8500,#ff8700,#ff8800,#ff8a00,#ff8c00,#ff8f00,#ff9200,#ff9500,#ff9800,#ff9c00,#ffa100,#ffa500,#ffa700,#ffa900,#ffaa00,#ffac00,#ffaf00,#ffb100,#ffb300,#ffb600,#ffb800,#ffbb00,#ffbe00,#ffc100,#ffc400,#ffc600,#ffc900,#ffcc00,#ffcf00,#ffd200,#ffd500,#f8d107,#eac515,#dcb923,#ceae31,#c1a23e,#b4984b,#a88e57,#9c8463,#927b6d,#877278,#7e6a81,#75638a,#6d5c92,#65559a,#5e4fa1,#584aa7,#5245ad,#4c40b3,#483cb7,#4339bc,#3f35c0,#3c32c3,#3830c7,#352dca,#332bcc,#3029cf,#2e27d1,#2c25d3,#2a23d5,#2821d7,#2620d9,#241edb,#221cdd,#1f1be0,#1d19e2,#1b17e4,#1915e6,#1613e9,#1310ec,#100eef,#0d0bf2,#0a08f5,#0605f9,#0202fd,#0202ff,#0707ff,#0c0cff,#1111ff,#1717ff,#1c1cff,#2323ff,#2929ff,#3030ff,#3737ff,#3e3eff,#4545ff,#4d4dff)"></div>
<div class="m" style="top:260.682px;height:14.091px;background:linear-gradient(90deg,#826e7d,#978068,#ad9252,#c2a43d,#d8b627,#edc812,#ffd600,#ffd200,#ffce00,#ffcb00,#ffc700,#ffc300,#ffc000,#ffbc00,#ffb900,#ffb600,#ffb300,#ffb100,#ffae00,#ffac00,#ffaa00,#ffa700,#ffa600,#ffa200,#ff9d00,#ff9800,#ff9400,#ff9100,#ff8e00,#ff8b00,#ff8900,#ff8700,#ff8600,#ff8500,#ff8400,#ff8300,#ff8300,#ff8300,#ff8300,#ff8300,#ff8300,#ff8400,#ff8400,#ff8500,#ff8500,#ff8600,#ff8600,#ff8700,#ff8700,#ff8800,#ff8800,#ff8800,#ff8800,#ff8900,#ff8900,#ff8900,#ff8900,#ff8900,#ff8900,#ff8900,#ff8900,#ff8900,#ff8900,#ff8900,#ff8900,#ff8a00,#ff8b00,#ff8b00,#ff8c00,#ff8e00,#ff8f00,#ff9100,#ff9300,#ff9600,#ff9900,#ff9c00,#ffa000,#ffa400,#ffa600,#ffa800,#ffa900,#ffab00,#ffad00,#ffaf00,#ffb200,#ffb400,#ffb700,#ffb900,#ffbc00,#ffbf00,#ffc200,#ffc500,#ffc800,#ffcb00,#ffce00,#ffd100,#ffd500,#fbd404,#ecc713,#dcba23,#cdad32,#bea041,#b0944f,#a2895d,#957e6a,#897376,#7d6982,#72608d,#675798,#5d4fa2,#5447ab,#4c40b3,#4439bb,#3d33c2,#372ec8,#3129ce,#2c25d3,#2721d8,#231ddc,#1f1ae0,#1c17e3,#1915e6,#1613e9,#1411eb,#120fed,#100eef,#0f0cf0,#0d0bf2,#0c0af3,#0b09f4,#0908f6,#0807f7,#0706f8,#0504fa,#0403fb,#0202fd,#0000ff,#0202ff,#0404ff,#0606ff,#0909ff,#0c0cff,#0f0fff,#1313ff,#1717ff,#1b1bff,#2020ff,#2424ff,#2a2aff,#2f2fff,#3535ff,#3b3bff,#4242ff,#4848ff,#4f4fff,#5656ff)"></div>
<div class="m" style="top:267.727px;height:14.091px;background:linear-gradient(90deg,#776588,#8c7673,#a2885d,#b79a48,#ccac33,#e1be1e,#f6cf09,#ffd500,#ffd100,#ffcd00,#ffc900,#ffc600,#ffc200,#ffbf00,#ffbc00,#ffb900,#ffb600,#ffb300,#ffb100,#ffae00,#ffac00,#ffaa00,#ffa800,#ffa700,#ffa500,#ffa100,#ff9d00,#ff9a00,#ff9700,#ff9400,#ff9200,#ff9000,#ff8f00,#ff8e00,#ff8d00,#ff8c00,#ff8c00,#ff8c00,#ff8c00,#ff8c00,#ff8d00,#ff8d00,#ff8d00,#ff8e00,#ff8e00,#ff8f00,#ff8f00,#ff9000,#ff9000,#ff9000,#ff9000,#ff9100,#ff9100,#ff9100,#ff9100,#ff9100,#ff9000,#ff9000,#ff9000,#ff9000,#ff9000,#ff9000,#ff9000,#ff9000,#ff9000,#ff9000,#ff9100,#ff9200,#ff9300,#ff9400,#ff9500,#ff9700,#ff9a00,#ff9c00,#ff9f00,#ffa300,#ffa600,#ffa700,#ffa800,#ffaa00,#ffac00,#ffae00,#ffb000,#ffb200,#ffb500,#ffb700,#ffba00,#ffbd00,#ffc000,#ffc300,#ffc600,#ffc900,#ffcc00,#ffcf00,#ffd300,#ffd600,#f4cd0b,#e3bf1c,#d3b22c,#c2a43d,#b3974c,#a38a5c,#957d6a,#867179,#796686,#6c5b93,#5f50a0,#5447ab,#493eb6,#3f35c0,#352dca,#2d26d2,#251fda,#1e19e1,#1714e8,#110fee,#0c0af3,#0706f8,#0303fc,#0000ff,#0303ff,#0606ff,#0808ff,#0a0aff,#0c0cff,#0d0dff,#0f0fff,#1010ff,#1111ff,#1111ff,#1212ff,#1313ff,#1313ff,#1414ff,#1515ff,#1616ff,#1717ff,#1818ff,#1a1aff,#1c1cff,#1e1eff,#2020ff,#2323ff,#2525ff,#2929ff,#2c2cff,#3030ff,#3434ff,#3939ff,#3e3eff,#4343ff,#4949ff,#4f4fff,#5555ff,#5b5bff,#6262ff)"></div>
<div class="m" style="top:274.773px;height:14.091px;background:linear-gradient(90deg,#6c5b93,#816c7e,#957e6a,#aa9055,#bfa140,#d4b32b,#e9c416,#fdd502,#ffd400,#ffd000,#ffcc00,#ffc800,#ffc500,#ffc200,#ffbe00,#ffbb00,#ffb900,#ffb600,#ffb300,#ffb100,#ffaf00,#ffad00,#ffab00,#ffa900,#ffa800,#ffa600,#ffa500,#ffa100,#ff9e00,#ff9c00,#ff9a00,#ff9800,#ff9600,#ff9500,#ff9500,#ff9400,#ff9400,#ff9400,#ff9400,#ff9400,#ff9400,#ff9400,#ff9500,#ff9500,#ff9500,#ff9600,#ff9600,#ff9700,#ff9700,#ff9700,#ff9700,#ff9700,#ff9700,#ff9700,#ff9700,#ff9600,#ff9600,#ff9600,#ff9600,#ff9500,#ff9500,#ff9500,#ff9500,#ff9500,#ff9500,#ff9500,#ff9600,#ff9700,#ff9800,#ff9900,#ff9b00,#ff9d00,#ff9f00,#ffa200,#ffa500,#ffa600,#ffa800,#ffa900,#ffab00,#ffac00,#ffae00,#ffb000,#ffb300,#ffb500,#ffb700,#ffba00,#ffbd00,#ffc000,#ffc300,#ffc600,#ffc900,#ffcc00,#ffd000,#ffd300,#ffd700,#f0ca0f,#dfbc20,#cdad32,#bd9f42,#ac9153,#9c8363,#8c7673,#7c6983,#6e5c91,#60519f,#5245ad,#453aba,#3930c6,#2e27d1,#231edc,#1a16e5,#110eee,#0807f7,#0101fe,#0606ff,#0c0cff,#1111ff,#1616ff,#1a1aff,#1e1eff,#2121ff,#2424ff,#2626ff,#2828ff,#2929ff,#2a2aff,#2b2bff,#2c2cff,#2c2cff,#2d2dff,#2d2dff,#2d2dff,#2d2dff,#2e2eff,#2e2eff,#2e2eff,#2f2fff,#3030ff,#3131ff,#3232ff,#3333ff,#3535ff,#3737ff,#3939ff,#3c3cff,#3f3fff,#4242ff,#4545ff,#4949ff,#4e4eff,#5252ff,#5757ff,#5d5dff,#6262ff,#6868ff,#6e6eff)"></div>
<div class="m" style="top:281.818px;height:14.091px;background:linear-gradient(90deg,#60519f,#75628a,#897476,#9e8561,#b3974c,#c7a838,#dcb923,#f0ca0f,#ffd600,#ffd200,#ffcf00,#ffcb00,#ffc700,#ffc400,#ffc100,#ffbe00,#ffbb00,#ffb800,#ffb600,#ffb300,#ffb100,#ffaf00,#ffad00,#ffab00,#ffaa00,#ffa800,#ffa700,#ffa600,#ffa500,#ffa200,#ffa000,#ff9e00,#ff9c00,#ff9b00,#ff9a00,#ff9a00,#ff9900,#ff9900,#ff9900,#ff9900,#ff9900,#ff9a00,#ff9a00,#ff9a00,#ff9a00,#ff9b00,#ff9b00,#ff9b00,#ff9b00,#ff9b00,#ff9b00,#ff9b00,#ff9b00,#ff9b00,#ff9b00,#ff9a00,#ff9a00,#ff9a00,#ff9900,#ff9900,#ff9900,#ff9800,#ff9800,#ff9800,#ff9800,#ff9900,#ff9a00,#ff9a00,#ff9c00,#ff9d00,#ff9f00,#ffa100,#ffa400,#ffa600,#ffa700,#ffa800,#ffa900,#ffab00,#ffac00,#ffae00,#ffb000,#ffb200,#ffb500,#ffb700,#ffba00,#ffbd00,#ffc000,#ffc300,#ffc600,#ffc900,#ffcc00,#ffd000,#ffd300,#ffd600,#f0ca0f,#debb21,#cdac32,#bb9e44,#aa8f55,#988167,#887277,#776588,#685797,#584ba7,#4a3eb5,#3c32c3,#2f27d0,#221ddd,#1613e9,#0b0af4,#0101fe,#0808ff,#1111ff,#1919ff,#2020ff,#2626ff,#2c2cff,#3131ff,#3535ff,#3939ff,#3c3cff,#3f3fff,#4141ff,#4343ff,#4444ff,#4545ff,#4646ff,#4646ff,#4747ff,#4747ff,#4747ff,#4747ff,#4646ff,#4646ff,#4646ff,#4646ff,#4646ff,#4646ff,#4747ff,#4747ff,#4848ff,#4949ff,#4b4bff,#4c4cff,#4f4fff,#5151ff,#5454ff,#5757ff,#5a5aff,#5e5eff,#6262ff,#6666ff,#6b6bff,#7070ff,#7575ff,#7b7bff)"></div>
<div class="m" style="top:288.864px;height:14.091px;background:linear-gradient(90deg,#5648a9,#6a5995,#7f6b80,#937c6c,#a88e57,#bc9f43,#d1b02e,#e5c11a,#f9d206,#ffd400,#ffd100,#ffcd00,#ffc900,#ffc600,#ffc300,#ffc000,#ffbd00,#ffba00,#ffb700,#ffb500,#ffb200,#ffb000,#ffae00,#ffac00,#ffab00,#ffa900,#ffa800,#ffa700,#ffa600,#ffa500,#ffa300,#ffa100,#ffa000,#ff9e00,#ff9d00,#ff9d00,#ff9c00,#ff9c00,#ff9c00,#ff9c00,#ff9c00,#ff9c00,#ff9d00,#ff9d00,#ff9d00,#ff9d00,#ff9e00,#ff9e00,#ff9e00,#ff9e00,#ff9e00,#ff9d00,#ff9d00,#ff9d00,#ff9d00,#ff9c00,#ff9c00,#ff9b00,#ff9b00,#ff9b00,#ff9a00,#ff9a00,#ff9a00,#ff9a00,#ff9b00,#ff9b00,#ff9c00,#ff9d00,#ff9e00,#ffa000,#ffa200,#ffa500,#ffa600,#ffa700,#ffa800,#ffa900,#ffab00,#ffac00,#ffae00,#ffb000,#ffb200,#ffb400,#ffb700,#ffb900,#ffbc00,#ffbf00,#ffc200,#ffc500,#ffc800,#ffcb00,#ffcf00,#ffd200,#ffd600,#f4cd0b,#e1be1e,#cfaf30,#bda042,#ab9054,#9a8165,#887377,#776488,#665699,#5649a9,#463bb9,#372fc8,#2923d6,#1b17e4,#0f0cf0,#0202fd,#0909ff,#1414ff,#1d1dff,#2626ff,#2f2fff,#3636ff,#3d3dff,#4343ff,#4848ff,#4d4dff,#5151ff,#5454ff,#5757ff,#5959ff,#5b5bff,#5c5cff,#5d5dff,#5e5eff,#5f5fff,#5f5fff,#5f5fff,#5e5eff,#5e5eff,#5d5dff,#5d5dff,#5d5dff,#5c5cff,#5c5cff,#5c5cff,#5c5cff,#5c5cff,#5c5cff,#5d5dff,#5e5eff,#5f5fff,#6161ff,#6363ff,#6565ff,#6767ff,#6a6aff,#6e6eff,#7171ff,#7575ff,#7979ff,#7e7eff,#8383ff,#8787ff)"></div>
<div class="m" style="top:295.909px;height:14.091px;background:linear-gradient(90deg,#4d41b2,#62529d,#766489,#8b7574,#a0875f,#b4984b,#c9a936,#ddbb22,#f2cc0d,#ffd600,#ffd200,#ffce00,#ffcb00,#ffc700,#ffc400,#ffc100,#ffbe00,#ffbb00,#ffb800,#ffb500,#ffb300,#ffb100,#ffaf00,#ffad00,#ffab00,#ffaa00,#ffa800,#ffa700,#ffa600,#ffa500,#ffa400,#ffa200,#ffa000,#ff9f00,#ff9e00,#ff9d00,#ff9d00,#ff9c00,#ff9c00,#ff9c00,#ff9c00,#ff9d00,#ff9d00,#ff9d00,#ff9d00,#ff9e00,#ff9e00,#ff9e00,#ff9e00,#ff9e00,#ff9e00,#ff9d00,#ff9d00,#ff9d00,#ff9c00,#ff9c00,#ff9c00,#ff9b00,#ff9b00,#ff9b00,#ff9b00,#ff9a00,#ff9b00,#ff9b00,#ff9b00,#ff9c00,#ff9d00,#ff9f00,#ffa000,#ffa200,#ffa500,#ffa600,#ffa700,#ffa800,#ffa900,#ffab00,#ffac00,#ffae00,#ffb000,#ffb200,#ffb400,#ffb600,#ffb900,#ffbb00,#ffbe00,#ffc100,#ffc400,#ffc700,#ffca00,#ffce00,#ffd100,#ffd500,#f9d206,#e7c318,#d5b32a,#c3a43c,#b0954f,#9e8561,#8c7673,#7a6785,#695896,#584aa7,#483cb7,#382fc7,#2822d7,#1a16e5,#0c0af3,#0202ff,#0e0eff,#1a1aff,#2525ff,#2f2fff,#3939ff,#4141ff,#4949ff,#5050ff,#5757ff,#5c5cff,#6161ff,#6565ff,#6969ff,#6c6cff,#6e6eff,#7070ff,#7272ff,#7373ff,#7373ff,#7474ff,#7474ff,#7373ff,#7373ff,#7373ff,#7272ff,#7171ff,#7070ff,#7070ff,#6f6fff,#6f6fff,#6e6eff,#6e6eff,#6e6eff,#6e6eff,#6f6fff,#7070ff,#7171ff,#7373ff,#7474ff,#7777ff,#7979ff,#7c7cff,#7f7fff,#8282ff,#8686ff,#8a8aff,#8f8fff,#9393ff)"></div>
<div class="m" style="top:302.955px;height:14.091px;background:linear-gradient(90deg,#483db7,#5d4ea2,#72608d,#867179,#9b8364,#b0954f,#c5a63a,#dab825,#efc910,#ffd600,#ffd200,#ffcf00,#ffcb00,#ffc700,#ffc400,#ffc100,#ffbd00,#ffba00,#ffb800,#ffb500,#ffb300,#ffb000,#ffae00,#ffac00,#ffab00,#ffa900,#ffa800,#ffa700,#ffa500,#ffa400,#ffa100,#ff9f00,#ff9e00,#ff9c00,#ff9b00,#ff9b00,#ff9a00,#ff9a00,#ff9a00,#ff9a00,#ff9a00,#ff9a00,#ff9b00,#ff9b00,#ff9b00,#ff9b00,#ff9b00,#ff9c00,#ff9c00,#ff9c00,#ff9b00,#ff9b00,#ff9b00,#ff9b00,#ff9a00,#ff9a00,#ff9a00,#ff9a00,#ff9900,#ff9900,#ff9900,#ff9a00,#ff9a00,#ff9a00,#ff9b00,#ff9c00,#ff9e00,#ff9f00,#ffa100,#ffa400,#ffa500,#ffa600,#ffa800,#ffa900,#ffaa00,#ffac00,#ffad00,#ffaf00,#ffb100,#ffb300,#ffb600,#ffb800,#ffba00,#ffbd00,#ffc000,#ffc300,#ffc600,#ffc900,#ffcc00,#ffd000,#ffd300,#ffd700,#eec911,#dcba23,#caaa35,#b79a48,#a58b5a,#937c6c,#806c7f,#6f5d90,#5d4ea2,#4c40b3,#3b32c4,#2b24d4,#1c17e3,#0d0bf2,#0202ff,#0f0fff,#1c1cff,#2828ff,#3333ff,#3e3eff,#4848ff,#5151ff,#5959ff,#6060ff,#6767ff,#6d6dff,#7272ff,#7676ff,#7a7aff,#7d7dff,#8080ff,#8282ff,#8383ff,#8484ff,#8585ff,#8585ff,#8585ff,#8585ff,#8585ff,#8484ff,#8383ff,#8282ff,#8181ff,#8080ff,#8080ff,#7f7fff,#7e7eff,#7e7eff,#7e7eff,#7e7eff,#7e7eff,#7e7eff,#7f7fff,#8080ff,#8282ff,#8484ff,#8686ff,#8888ff,#8b8bff,#8e8eff,#9191ff,#9595ff,#9999ff,#9d9dff)"></div>
<div class="m" style="top:310.000px;height:14.091px;background:linear-gradient(90deg,#483cb7,#5c4ea3,#72608d,#877278,#9c8463,#b2964d,#c7a838,#dcba23,#f1cc0e,#ffd600,#ffd200,#ffce00,#ffca00,#ffc600,#ffc300,#ffbf00,#ffbc00,#ffb900,#ffb600,#ffb300,#ffb100,#ffaf00,#ffac00,#ffab00,#ffa900,#ffa700,#ffa600,#ffa400,#ffa000,#ff9d00,#ff9b00,#ff9900,#ff9700,#ff9600,#ff9500,#ff9500,#ff9500,#ff9500,#ff9500,#ff9500,#ff9500,#ff9500,#ff9600,#ff9600,#ff9700,#ff9700,#ff9700,#ff9700,#ff9700,#ff9800,#ff9800,#ff9800,#ff9700,#ff9700,#ff9700,#ff9700,#ff9700,#ff9700,#ff9700,#ff9700,#ff9700,#ff9800,#ff9800,#ff9900,#ff9a00,#ff9c00,#ff9e00,#ffa000,#ffa200,#ffa500,#ffa600,#ffa700,#ffa800,#ffaa00,#ffab00,#ffad00,#ffaf00,#ffb100,#ffb300,#ffb500,#ffb700,#ffba00,#ffbc00,#ffbf00,#ffc200,#ffc500,#ffc800,#ffcb00,#ffcf00,#ffd200,#ffd500,#f6cf09,#e4c01b,#d1b02e,#bfa140,#ad9252,#9a8265,#887377,#766389,#64549b,#5346ac,#4137be,#3129ce,#211bde,#110eee,#0201fd,#0d0dff,#1a1aff,#2727ff,#3434ff,#3f3fff,#4a4aff,#5454ff,#5d5dff,#6666ff,#6d6dff,#7474ff,#7a7aff,#7f7fff,#8484ff,#8888ff,#8b8bff,#8e8eff,#9090ff,#9292ff,#9393ff,#9494ff,#9494ff,#9494ff,#9393ff,#9393ff,#9292ff,#9191ff,#9090ff,#8f8fff,#8e8eff,#8d8dff,#8c8cff,#8b8bff,#8a8aff,#8a8aff,#8a8aff,#8a8aff,#8a8aff,#8b8bff,#8c8cff,#8d8dff,#8e8eff,#9090ff,#9292ff,#9595ff,#9898ff,#9b9bff,#9e9eff,#a2a2ff,#a5a5ff)"></div>
<div class="m" style="top:317.045px;height:14.091px;background:linear-gradient(90deg,#4c40b3,#61529e,#776488,#8d7772,#a3895c,#b99c46,#cfaf30,#e5c11a,#fbd304,#ffd400,#ffd000,#ffcb00,#ffc800,#ffc400,#ffc000,#ffbd00,#ffb900,#ffb600,#ffb300,#ffb000,#ffae00,#ffab00,#ffa900,#ffa700,#ffa600,#ffa200,#ff9d00,#ff9900,#ff9600,#ff9300,#ff9100,#ff8f00,#ff8e00,#ff8d00,#ff8c00,#ff8c00,#ff8c00,#ff8c00,#ff8d00,#ff8d00,#ff8e00,#ff8e00,#ff8f00,#ff8f00,#ff9000,#ff9000,#ff9100,#ff9100,#ff9200,#ff9200,#ff9200,#ff9200,#ff9300,#ff9300,#ff9300,#ff9300,#ff9300,#ff9300,#ff9400,#ff9400,#ff9500,#ff9600,#ff9700,#ff9800,#ff9a00,#ff9c00,#ff9e00,#ffa000,#ffa300,#ffa600,#ffa700,#ffa800,#ffa900,#ffab00,#ffad00,#ffae00,#ffb000,#ffb200,#ffb400,#ffb700,#ffb900,#ffbc00,#ffbe00,#ffc100,#ffc400,#ffc700,#ffca00,#ffce00,#ffd100,#ffd400,#fcd403,#eac515,#d8b627,#c6a739,#b4984b,#a2885d,#90796f,#7d6a82,#6c5b93,#5a4ca5,#483db7,#372fc8,#2721d8,#1713e8,#0706f8,#0808ff,#1616ff,#2424ff,#3131ff,#3e3eff,#4949ff,#5454ff,#5e5eff,#6767ff,#7070ff,#7878ff,#7f7fff,#8585ff,#8a8aff,#8f8fff,#9393ff,#9696ff,#9999ff,#9b9bff,#9d9dff,#9e9eff,#9f9fff,#9f9fff,#9f9fff,#9e9eff,#9e9eff,#9d9dff,#9c9cff,#9b9bff,#9999ff,#9898ff,#9797ff,#9696ff,#9595ff,#9494ff,#9393ff,#9393ff,#9393ff,#9393ff,#9393ff,#9494ff,#9595ff,#9696ff,#9898ff,#9a9aff,#9c9cff,#9f9fff,#a2a2ff,#a5a5ff,#a8a8ff,#acacff)"></div>
<div class="m" style="top:324.091px;height:14.091px;background:linear-gradient(90deg,#5648a9,#6c5b93,#826e7d,#998166,#b0944f,#c7a738,#ddbb22,#f4ce0b,#ffd500,#ffd000,#ffcc00,#ffc800,#ffc400,#ffc000,#ffbc00,#ffb900,#ffb500,#ffb200,#ffaf00,#ffac00,#ffa900,#ffa700,#ffa500,#ff9e00,#ff9800,#ff9300,#ff8f00,#ff8b00,#ff8800,#ff8600,#ff8400,#ff8200,#ff8100,#ff8100,#ff8000,#ff8000,#ff8100,#ff8100,#ff8200,#ff8300,#ff8400,#ff8500,#ff8600,#ff8700,#ff8800,#ff8900,#ff8900,#ff8a00,#ff8b00,#ff8b00,#ff8c00,#ff8d00,#ff8d00,#ff8e00,#ff8e00,#ff8f00,#ff8f00,#ff9000,#ff9100,#ff9200,#ff9300,#ff9400,#ff9600,#ff9800,#ff9a00,#ff9c00,#ff9f00,#ffa200,#ffa500,#ffa600,#ffa800,#ffa900,#ffab00,#ffac00,#ffae00,#ffb000,#ffb200,#ffb400,#ffb700,#ffb900,#ffbc00,#ffbe00,#ffc100,#ffc400,#ffc700,#ffca00,#ffcd00,#ffd000,#ffd400,#ffd700,#eec911,#ddba22,#cbab34,#b99c46,#a78d58,#957e6a,#846f7b,#72608d,#60519f,#4f43b0,#3e34c1,#2d26d2,#1d18e2,#0d0bf2,#0202ff,#1111ff,#2020ff,#2d2dff,#3a3aff,#4646ff,#5252ff,#5d5dff,#6767ff,#7070ff,#7878ff,#8080ff,#8787ff,#8d8dff,#9393ff,#9797ff,#9b9bff,#9f9fff,#a1a1ff,#a3a3ff,#a5a5ff,#a6a6ff,#a7a7ff,#a7a7ff,#a7a7ff,#a6a6ff,#a5a5ff,#a4a4ff,#a3a3ff,#a2a2ff,#a0a0ff,#9f9fff,#9e9eff,#9c9cff,#9b9bff,#9a9aff,#9999ff,#9999ff,#9999ff,#9999ff,#9999ff,#9999ff,#9a9aff,#9b9bff,#9d9dff,#9f9fff,#a1a1ff,#a3a3ff,#a6a6ff,#a9a9ff,#acacff,#b0b0ff)"></div>
<div class="m" style="top:331.136px;height:14.091px;background:linear-gradient(90deg,#65559a,#7c6883,#937c6c,#ab9054,#c3a43c,#dab825,#f2cc0d,#ffd500,#ffd000,#ffcc00,#ffc700,#ffc300,#ffbf00,#ffbb00,#ffb700,#ffb300,#ffb000,#ffac00,#ffa900,#ffa600,#ffa100,#ff9900,#ff9200,#ff8c00,#ff8600,#ff8100,#ff7d00,#ff7a00,#ff7700,#ff7500,#ff7300,#ff7200,#ff7200,#ff7100,#ff7200,#ff7200,#ff7300,#ff7400,#ff7500,#ff7700,#ff7800,#ff7a00,#ff7b00,#ff7d00,#ff7e00,#ff8000,#ff8100,#ff8200,#ff8300,#ff8400,#ff8600,#ff8700,#ff8800,#ff8900,#ff8a00,#ff8b00,#ff8c00,#ff8d00,#ff8e00,#ff9000,#ff9200,#ff9300,#ff9600,#ff9800,#ff9b00,#ff9e00,#ffa100,#ffa500,#ffa600,#ffa800,#ffa900,#ffab00,#ffad00,#ffae00,#ffb000,#ffb300,#ffb500,#ffb700,#ffba00,#ffbc00,#ffbf00,#ffc100,#ffc400,#ffc700,#ffca00,#ffcd00,#ffd000,#ffd400,#ffd700,#efca10,#debb21,#cdad32,#bc9e43,#aa8f55,#998166,#877278,#766389,#65559a,#5346ac,#4338bc,#322acd,#221cdd,#120fed,#0202fd,#0d0dff,#1b1bff,#2929ff,#3636ff,#4343ff,#4f4fff,#5a5aff,#6565ff,#6f6fff,#7878ff,#8080ff,#8787ff,#8e8eff,#9494ff,#9999ff,#9e9eff,#a2a2ff,#a5a5ff,#a7a7ff,#a9a9ff,#ababff,#acacff,#acacff,#acacff,#acacff,#ababff,#aaaaff,#a9a9ff,#a8a8ff,#a6a6ff,#a5a5ff,#a3a3ff,#a2a2ff,#a0a0ff,#9f9fff,#9e9eff,#9d9dff,#9c9cff,#9c9cff,#9c9cff,#9c9cff,#9c9cff,#9d9dff,#9e9eff,#a0a0ff,#a2a2ff,#a4a4ff,#a6a6ff,#a9a9ff,#acacff,#afafff,#b2b2ff)"></div>
<div class="m" style="top:338.182px;height:14.091px;background:linear-gradient(90deg,#796686,#917a6e,#a98f56,#c2a43d,#dbb924,#f4ce0b,#ffd400,#ffcf00,#ffcb00,#ffc600,#ffc100,#ffbd00,#ffb900,#ffb400,#ffb000,#ffad00,#ffa900,#ffa600,#ff9d00,#ff9400,#ff8b00,#ff8300,#ff7c00,#ff7600,#ff7100,#ff6c00,#ff6800,#ff6500,#ff6300,#ff6100,#ff6000,#ff6000,#ff6000,#ff6000,#ff6100,#ff6200,#ff6400,#ff6600,#ff6800,#ff6a00,#ff6c00,#ff6e00,#ff7000,#ff7200,#ff7400,#ff7600,#ff7800,#ff7a00,#ff7c00,#ff7e00,#ff7f00,#ff8100,#ff8300,#ff8400,#ff8600,#ff8800,#ff8900,#ff8b00,#ff8d00,#ff8f00,#ff9200,#ff9500,#ff9700,#ff9b00,#ff9e00,#ffa200,#ffa500,#ffa700,#ffa800,#ffaa00,#ffab00,#ffad00,#ffaf00,#ffb100,#ffb300,#ffb600,#ffb800,#ffbb00,#ffbd00,#ffc000,#ffc200,#ffc500,#ffc800,#ffcb00,#ffce00,#ffd100,#ffd400,#fcd503,#ecc713,#dcb923,#cbab34,#ba9d45,#a98f56,#988067,#877278,#766489,#665699,#5548aa,#443abb,#342ccb,#241edb,#1411eb,#0504fa,#0a0aff,#1818ff,#2626ff,#3333ff,#4040ff,#4c4cff,#5858ff,#6262ff,#6d6dff,#7676ff,#7f7fff,#8787ff,#8e8eff,#9494ff,#9a9aff,#9f9fff,#a3a3ff,#a7a7ff,#a9a9ff,#acacff,#adadff,#afafff,#afafff,#afafff,#afafff,#afafff,#aeaeff,#acacff,#ababff,#aaaaff,#a8a8ff,#a6a6ff,#a5a5ff,#a3a3ff,#a1a1ff,#a0a0ff,#9f9fff,#9e9eff,#9d9dff,#9d9dff,#9d9dff,#9d9dff,#9d9dff,#9e9eff,#9f9fff,#a1a1ff,#a2a2ff,#a5a5ff,#a7a7ff,#aaaaff,#adadff,#b0b0ff,#b3b3ff)"></div>
<div class="m" style="top:345.227px;height:14.091px;background:linear-gradient(90deg,#917a6e,#aa8f55,#c4a53b,#debb21,#f8d107,#ffd300,#ffce00,#ffc900,#ffc400,#ffbf00,#ffba00,#ffb600,#ffb100,#ffad00,#ffa900,#ffa500,#ff9a00,#ff8f00,#ff8400,#ff7b00,#ff7300,#ff6b00,#ff6400,#ff5e00,#ff5900,#ff5500,#ff5200,#ff5000,#ff4e00,#ff4d00,#ff4c00,#ff4d00,#ff4d00,#ff4f00,#ff5000,#ff5200,#ff5400,#ff5700,#ff5a00,#ff5c00,#ff5f00,#ff6200,#ff6500,#ff6800,#ff6b00,#ff6e00,#ff7000,#ff7300,#ff7600,#ff7800,#ff7b00,#ff7d00,#ff7f00,#ff8200,#ff8400,#ff8700,#ff8900,#ff8c00,#ff8e00,#ff9100,#ff9500,#ff9800,#ff9c00,#ffa000,#ffa400,#ffa600,#ffa800,#ffa900,#ffab00,#ffad00,#ffaf00,#ffb100,#ffb300,#ffb500,#ffb700,#ffba00,#ffbc00,#ffbf00,#ffc100,#ffc400,#ffc700,#ffca00,#ffcd00,#ffd000,#ffd300,#ffd600,#f5ce0a,#e5c11a,#d4b32b,#c4a53b,#b4984b,#a48a5b,#937c6c,#836e7c,#73618c,#62539d,#5245ad,#4238bd,#332bcc,#231edc,#1411eb,#0504fa,#0909ff,#1717ff,#2525ff,#3232ff,#3f3fff,#4b4bff,#5656ff,#6161ff,#6b6bff,#7575ff,#7e7eff,#8686ff,#8d8dff,#9494ff,#9a9aff,#9f9fff,#a3a3ff,#a7a7ff,#aaaaff,#adadff,#afafff,#b0b0ff,#b1b1ff,#b1b1ff,#b1b1ff,#b1b1ff,#b0b0ff,#afafff,#adadff,#acacff,#aaaaff,#a8a8ff,#a6a6ff,#a4a4ff,#a3a3ff,#a1a1ff,#a0a0ff,#9e9eff,#9d9dff,#9c9cff,#9c9cff,#9c9cff,#9c9cff,#9c9cff,#9d9dff,#9f9fff,#a0a0ff,#a2a2ff,#a4a4ff,#a7a7ff,#a9a9ff,#acacff,#b0b0ff,#b3b3ff)"></div>
<div class="m" style="top:352.273px;height:14.091px;background:linear-gradient(90deg,#ac9153,#c6a739,#e2be1d,#fdd502,#ffd200,#ffcd00,#ffc700,#ffc200,#ffbd00,#ffb800,#ffb300,#ffae00,#ffaa00,#ffa500,#ff9900,#ff8c00,#ff8000,#ff7500,#ff6b00,#ff6200,#ff5900,#ff5200,#ff4c00,#ff4600,#ff4200,#ff3e00,#ff3c00,#ff3a00,#ff3900,#ff3800,#ff3900,#ff3a00,#ff3b00,#ff3d00,#ff4000,#ff4200,#ff4600,#ff4900,#ff4c00,#ff5000,#ff5400,#ff5800,#ff5b00,#ff5f00,#ff6300,#ff6700,#ff6a00,#ff6e00,#ff7100,#ff7500,#ff7800,#ff7b00,#ff7e00,#ff8100,#ff8500,#ff8800,#ff8b00,#ff8f00,#ff9200,#ff9600,#ff9a00,#ff9e00,#ffa300,#ffa600,#ffa700,#ffa900,#ffab00,#ffad00,#ffae00,#ffb000,#ffb300,#ffb500,#ffb700,#ffba00,#ffbc00,#ffbf00,#ffc100,#ffc400,#ffc700,#ffca00,#ffcc00,#ffcf00,#ffd200,#ffd500,#f8d107,#e8c417,#d8b727,#c9a936,#b99c46,#a98f56,#998166,#8a7475,#7a6785,#6a5a95,#5b4da4,#4b40b4,#3c33c3,#2d26d2,#1e1ae1,#100def,#0201fd,#0c0cff,#1a1aff,#2727ff,#3434ff,#4040ff,#4c4cff,#5757ff,#6262ff,#6c6cff,#7575ff,#7e7eff,#8686ff,#8d8dff,#9494ff,#9a9aff,#9f9fff,#a4a4ff,#a8a8ff,#ababff,#aeaeff,#b0b0ff,#b1b1ff,#b2b2ff,#b2b2ff,#b2b2ff,#b2b2ff,#b1b1ff,#b0b0ff,#aeaeff,#adadff,#ababff,#a9a9ff,#a7a7ff,#a5a5ff,#a3a3ff,#a1a1ff,#9f9fff,#9e9eff,#9c9cff,#9b9bff,#9b9bff,#9a9aff,#9a9aff,#9a9aff,#9b9bff,#9c9cff,#9d9dff,#9f9fff,#a1a1ff,#a3a3ff,#a5a5ff,#a8a8ff,#ababff,#afafff,#b2b2ff)"></div>
<div class="m" style="top:359.318px;height:14.091px;background:linear-gradient(90deg,#c8a837,#e4c01b,#ffd700,#ffd100,#ffcc00,#ffc600,#ffc100,#ffbb00,#ffb600,#ffb100,#ffac00,#ffa700,#ff9c00,#ff8d00,#ff8000,#ff7300,#ff6700,#ff5c00,#ff5200,#ff4900,#ff4100,#ff3a00,#ff3400,#ff2f00,#ff2b00,#ff2800,#ff2600,#ff2500,#ff2500,#ff2500,#ff2700,#ff2800,#ff2b00,#ff2e00,#ff3100,#ff3500,#ff3900,#ff3d00,#ff4100,#ff4600,#ff4b00,#ff5000,#ff5400,#ff5900,#ff5e00,#ff6200,#ff6700,#ff6b00,#ff7000,#ff7400,#ff7800,#ff7c00,#ff8000,#ff8400,#ff8800,#ff8d00,#ff9100,#ff9500,#ff9a00,#ff9e00,#ffa300,#ffa600,#ffa800,#ffa900,#ffab00,#ffad00,#ffaf00,#ffb100,#ffb300,#ffb500,#ffb800,#ffba00,#ffbd00,#ffbf00,#ffc200,#ffc400,#ffc700,#ffca00,#ffcd00,#ffd000,#ffd300,#ffd600,#f6d009,#e7c318,#d8b627,#c8a937,#b99c46,#a98f56,#9a8265,#8b7574,#7c6883,#6d5c92,#5e4fa1,#4f43b0,#4036bf,#322acd,#231edc,#1512ea,#0806f7,#0606ff,#1313ff,#2020ff,#2c2cff,#3939ff,#4444ff,#4f4fff,#5a5aff,#6464ff,#6e6eff,#7777ff,#7f7fff,#8787ff,#8e8eff,#9595ff,#9b9bff,#a0a0ff,#a5a5ff,#a9a9ff,#acacff,#afafff,#b1b1ff,#b2b2ff,#b3b3ff,#b3b3ff,#b3b3ff,#b3b3ff,#b2b2ff,#b1b1ff,#afafff,#adadff,#ababff,#a9a9ff,#a7a7ff,#a5a5ff,#a3a3ff,#a1a1ff,#9f9fff,#9d9dff,#9b9bff,#9a9aff,#9999ff,#9898ff,#9898ff,#9898ff,#9898ff,#9999ff,#9a9aff,#9b9bff,#9d9dff,#9f9fff,#a1a1ff,#a4a4ff,#a7a7ff,#aaaaff,#aeaeff,#b1b1ff)"></div>
<div class="m" style="top:366.364px;height:14.091px;background:linear-gradient(90deg,#e3c01c,#ffd700,#ffd100,#ffcb00,#ffc500,#ffc000,#ffba00,#ffb400,#ffaf00,#ffaa00,#ffa400,#ff9400,#ff8500,#ff7600,#ff6800,#ff5c00,#ff5000,#ff4500,#ff3b00,#ff3300,#ff2b00,#ff2500,#ff2000,#ff1b00,#ff1800,#ff1600,#ff1500,#ff1400,#ff1500,#ff1600,#ff1800,#ff1b00,#ff1e00,#ff2200,#ff2600,#ff2a00,#ff2f00,#ff3500,#ff3a00,#ff4000,#ff4500,#ff4b00,#ff5100,#ff5600,#ff5c00,#ff6100,#ff6700,#ff6c00,#ff7200,#ff7700,#ff7c00,#ff8100,#ff8600,#ff8b00,#ff9000,#ff9500,#ff9a00,#ff9f00,#ffa500,#ffa700,#ffa800,#ffaa00,#ffac00,#ffae00,#ffb000,#ffb200,#ffb400,#ffb600,#ffb900,#ffbb00,#ffbe00,#ffc000,#ffc300,#ffc600,#ffc800,#ffcb00,#ffce00,#ffd100,#ffd400,#ffd700,#f1cb0e,#e2be1d,#d3b22c,#c3a53c,#b4984b,#a58b5a,#967f69,#877278,#796686,#6a5995,#5b4da4,#4d41b2,#3f35c0,#3129ce,#231edc,#1612e9,#0907f6,#0404ff,#1111ff,#1d1dff,#2929ff,#3535ff,#4141ff,#4b4bff,#5656ff,#6060ff,#6a6aff,#7373ff,#7b7bff,#8383ff,#8b8bff,#9292ff,#9898ff,#9d9dff,#a2a2ff,#a7a7ff,#ababff,#aeaeff,#b0b0ff,#b2b2ff,#b4b4ff,#b5b5ff,#b5b5ff,#b5b5ff,#b4b4ff,#b3b3ff,#b2b2ff,#b0b0ff,#aeaeff,#acacff,#aaaaff,#a8a8ff,#a5a5ff,#a3a3ff,#a1a1ff,#9f9fff,#9c9cff,#9b9bff,#9999ff,#9898ff,#9797ff,#9696ff,#9696ff,#9696ff,#9696ff,#9797ff,#9898ff,#9999ff,#9b9bff,#9d9dff,#a0a0ff,#a3a3ff,#a6a6ff,#a9a9ff,#adadff,#b1b1ff)"></div>
<div class="m" style="top:373.409px;height:14.091px;background:linear-gradient(90deg,#fcd503,#ffd200,#ffcc00,#ffc600,#ffc000,#ffba00,#ffb400,#ffaf00,#ffa900,#ffa100,#ff9000,#ff8000,#ff7100,#ff6200,#ff5500,#ff4900,#ff3d00,#ff3300,#ff2900,#ff2100,#ff1a00,#ff1500,#ff1000,#ff0c00,#ff0a00,#ff0800,#ff0800,#ff0800,#ff0900,#ff0b00,#ff0e00,#ff1200,#ff1600,#ff1a00,#ff2000,#ff2500,#ff2b00,#ff3100,#ff3700,#ff3e00,#ff4400,#ff4b00,#ff5200,#ff5800,#ff5f00,#ff6500,#ff6c00,#ff7200,#ff7800,#ff7e00,#ff8400,#ff8a00,#ff9000,#ff9600,#ff9c00,#ffa200,#ffa600,#ffa800,#ffaa00,#ffab00,#ffad00,#ffaf00,#ffb100,#ffb400,#ffb600,#ffb800,#ffba00,#ffbd00,#ffbf00,#ffc200,#ffc500,#ffc700,#ffca00,#ffcd00,#ffd000,#ffd300,#ffd600,#f8d107,#e9c416,#d9b726,#caab35,#bb9e44,#ac9153,#9d8562,#8f7870,#806c7f,#71608e,#63549c,#5548aa,#473cb8,#3930c6,#2c25d3,#1f1ae0,#120fed,#0504fa,#0707ff,#1313ff,#1f1fff,#2b2bff,#3636ff,#4141ff,#4b4bff,#5656ff,#5f5fff,#6969ff,#7272ff,#7a7aff,#8282ff,#8989ff,#9090ff,#9797ff,#9c9cff,#a2a2ff,#a6a6ff,#aaaaff,#aeaeff,#b1b1ff,#b3b3ff,#b5b5ff,#b6b6ff,#b7b7ff,#b7b7ff,#b7b7ff,#b6b6ff,#b5b5ff,#b4b4ff,#b2b2ff,#b0b0ff,#aeaeff,#acacff,#a9a9ff,#a7a7ff,#a4a4ff,#a2a2ff,#9f9fff,#9d9dff,#9b9bff,#9999ff,#9797ff,#9696ff,#9595ff,#9494ff,#9494ff,#9494ff,#9595ff,#9696ff,#9797ff,#9898ff,#9a9aff,#9d9dff,#a0a0ff,#a3a3ff,#a6a6ff,#a9a9ff,#adadff,#b1b1ff)"></div>
<div class="m" style="top:380.455px;height:14.091px;background:linear-gradient(90deg,#ffd400,#ffce00,#ffc800,#ffc200,#ffbc00,#ffb600,#ffb000,#ffaa00,#ffa400,#ff9300,#ff8200,#ff7200,#ff6300,#ff5400,#ff4700,#ff3b00,#ff3000,#ff2600,#ff1e00,#ff1600,#ff1000,#ff0a00,#ff0600,#ff0300,#ff0200,#ff0100,#ff0100,#ff0200,#ff0400,#ff0700,#ff0b00,#ff0f00,#ff1400,#ff1900,#ff1f00,#ff2600,#ff2c00,#ff3300,#ff3a00,#ff4200,#ff4900,#ff5100,#ff5800,#ff5f00,#ff6700,#ff6e00,#ff7500,#ff7c00,#ff8300,#ff8a00,#ff9100,#ff9800,#ff9f00,#ffa500,#ffa700,#ffa900,#ffab00,#ffad00,#ffaf00,#ffb100,#ffb400,#ffb600,#ffb800,#ffba00,#ffbd00,#ffbf00,#ffc200,#ffc400,#ffc700,#ffca00,#ffcc00,#ffcf00,#ffd200,#ffd500,#fbd404,#edc712,#debb21,#cfae30,#c0a23f,#b1954e,#a2885d,#937c6c,#846f7b,#766389,#675798,#594ba6,#4b40b4,#3e34c1,#3029cf,#231edc,#1713e8,#0a08f5,#0202ff,#0e0eff,#1a1aff,#2525ff,#3030ff,#3b3bff,#4545ff,#4f4fff,#5959ff,#6262ff,#6b6bff,#7474ff,#7c7cff,#8383ff,#8b8bff,#9191ff,#9898ff,#9d9dff,#a3a3ff,#a7a7ff,#acacff,#afafff,#b3b3ff,#b5b5ff,#b7b7ff,#b9b9ff,#babaff,#bbbbff,#bbbbff,#babaff,#babaff,#b9b9ff,#b7b7ff,#b5b5ff,#b3b3ff,#b1b1ff,#aeaeff,#acacff,#a9a9ff,#a6a6ff,#a4a4ff,#a1a1ff,#9f9fff,#9c9cff,#9a9aff,#9898ff,#9797ff,#9696ff,#9595ff,#9494ff,#9494ff,#9494ff,#9595ff,#9696ff,#9797ff,#9999ff,#9b9bff,#9d9dff,#a0a0ff,#a3a3ff,#a7a7ff,#aaaaff,#aeaeff,#b2b2ff)"></div>
<div class="m" style="top:387.500px;height:14.091px;background:linear-gradient(90deg,#ffd100,#ffcb00,#ffc500,#ffbf00,#ffb900,#ffb300,#ffad00,#ffa700,#ff9b00,#ff8a00,#ff7900,#ff6a00,#ff5b00,#ff4d00,#ff4100,#ff3500,#ff2b00,#ff2100,#ff1900,#ff1200,#ff0d00,#ff0800,#ff0500,#ff0200,#ff0100,#ff0100,#ff0200,#ff0400,#ff0700,#ff0a00,#ff0f00,#ff1400,#ff1900,#ff2000,#ff2600,#ff2d00,#ff3500,#ff3c00,#ff4400,#ff4c00,#ff5400,#ff5c00,#ff6400,#ff6c00,#ff7400,#ff7c00,#ff8400,#ff8c00,#ff9400,#ff9b00,#ffa300,#ffa700,#ffa900,#ffab00,#ffad00,#ffb000,#ffb200,#ffb400,#ffb600,#ffb900,#ffbb00,#ffbd00,#ffc000,#ffc200,#ffc500,#ffc700,#ffca00,#ffcc00,#ffcf00,#ffd200,#ffd500,#fcd503,#eec911,#dfbc20,#d0b02f,#c2a33d,#b3974c,#a48a5b,#957e6a,#867179,#786587,#6a5995,#5b4da4,#4e41b1,#4036bf,#322bcd,#251fda,#1815e7,#0c0af3,#0000ff,#0c0cff,#1818ff,#2323ff,#2e2eff,#3838ff,#4343ff,#4c4cff,#5656ff,#5f5fff,#6868ff,#7070ff,#7878ff,#8080ff,#8787ff,#8e8eff,#9595ff,#9b9bff,#a1a1ff,#a6a6ff,#ababff,#afafff,#b3b3ff,#b6b6ff,#b9b9ff,#bbbbff,#bdbdff,#bebeff,#bfbfff,#bfbfff,#bfbfff,#bfbfff,#bebeff,#bdbdff,#bbbbff,#b9b9ff,#b7b7ff,#b5b5ff,#b2b2ff,#b0b0ff,#adadff,#aaaaff,#a7a7ff,#a5a5ff,#a2a2ff,#9f9fff,#9d9dff,#9b9bff,#9999ff,#9898ff,#9797ff,#9696ff,#9595ff,#9595ff,#9595ff,#9696ff,#9797ff,#9999ff,#9b9bff,#9d9dff,#9f9fff,#a2a2ff,#a5a5ff,#a9a9ff,#acacff,#b0b0ff,#b4b4ff)"></div>
<div class="m" style="top:394.545px;height:14.091px;background:linear-gradient(90deg,#ffd000,#ffca00,#ffc400,#ffbe00,#ffb800,#ffb200,#ffac00,#ffa700,#ff9900,#ff8900,#ff7900,#ff6900,#ff5b00,#ff4e00,#ff4200,#ff3700,#ff2d00,#ff2500,#ff1d00,#ff1700,#ff1200,#ff0e00,#ff0b00,#ff0a00,#ff0900,#ff0a00,#ff0c00,#ff0e00,#ff1100,#ff1600,#ff1b00,#ff2000,#ff2600,#ff2d00,#ff3400,#ff3c00,#ff4400,#ff4c00,#ff5400,#ff5d00,#ff6500,#ff6e00,#ff7700,#ff7f00,#ff8800,#ff9000,#ff9900,#ffa100,#ffa600,#ffa900,#ffab00,#ffae00,#ffb000,#ffb200,#ffb500,#ffb700,#ffba00,#ffbc00,#ffbe00,#ffc100,#ffc300,#ffc600,#ffc800,#ffcb00,#ffcd00,#ffd000,#ffd300,#ffd500,#fad305,#ecc713,#debb21,#cfaf30,#c1a33e,#b2964d,#a48a5b,#957e6a,#877278,#786687,#6a5a95,#5c4ea3,#4e42b1,#4036bf,#332bcc,#2620d9,#1915e6,#0c0af3,#0000ff,#0c0cff,#1818ff,#2323ff,#2e2eff,#3838ff,#4242ff,#4c4cff,#5656ff,#5f5fff,#6868ff,#7070ff,#7878ff,#8080ff,#8787ff,#8e8eff,#9494ff,#9b9bff,#a0a0ff,#a6a6ff,#ababff,#afafff,#b3b3ff,#b7b7ff,#bbbbff,#bdbdff,#c0c0ff,#c2c2ff,#c3c3ff,#c4c4ff,#c5c5ff,#c5c5ff,#c5c5ff,#c5c5ff,#c4c4ff,#c2c2ff,#c1c1ff,#bfbfff,#bdbdff,#babaff,#b8b8ff,#b5b5ff,#b2b2ff,#afafff,#acacff,#aaaaff,#a7a7ff,#a4a4ff,#a2a2ff,#9f9fff,#9d9dff,#9c9cff,#9a9aff,#9999ff,#9898ff,#9898ff,#9898ff,#9999ff,#9999ff,#9b9bff,#9c9cff,#9e9eff,#a0a0ff,#a3a3ff,#a6a6ff,#a9a9ff,#acacff,#b0b0ff,#b4b4ff,#b8b8ff)"></div>
<div class="m" style="top:401.591px;height:14.091px;background:linear-gradient(90deg,#ffd000,#ffca00,#ffc400,#ffbf00,#ffb900,#ffb300,#ffae00,#ffa800,#ff9f00,#ff8f00,#ff8000,#ff7100,#ff6400,#ff5700,#ff4c00,#ff4200,#ff3900,#ff3100,#ff2a00,#ff2500,#ff2000,#ff1d00,#ff1b00,#ff1a00,#ff1a00,#ff1b00,#ff1e00,#ff2100,#ff2400,#ff2900,#ff2f00,#ff3500,#ff3b00,#ff4200,#ff4a00,#ff5200,#ff5a00,#ff6300,#ff6b00,#ff7400,#ff7d00,#ff8600,#ff8f00,#ff9800,#ffa100,#ffa600,#ffa900,#ffac00,#ffae00,#ffb100,#ffb300,#ffb600,#ffb800,#ffbb00,#ffbd00,#ffc000,#ffc200,#ffc500,#ffc700,#ffca00,#ffcc00,#ffcf00,#ffd100,#ffd400,#ffd600,#f4ce0b,#e7c318,#d9b726,#cbab34,#bda042,#af9450,#a1885e,#937c6c,#85707a,#776488,#695996,#5b4da4,#4d41b2,#4036bf,#322acd,#251fda,#1814e7,#0b0af4,#0101ff,#0d0dff,#1919ff,#2424ff,#2f2fff,#3a3aff,#4444ff,#4e4eff,#5757ff,#6060ff,#6969ff,#7171ff,#7979ff,#8181ff,#8888ff,#8f8fff,#9696ff,#9c9cff,#a2a2ff,#a7a7ff,#acacff,#b1b1ff,#b5b5ff,#b9b9ff,#bdbdff,#c0c0ff,#c3c3ff,#c6c6ff,#c8c8ff,#c9c9ff,#cbcbff,#ccccff,#ccccff,#ccccff,#ccccff,#cbcbff,#cacaff,#c9c9ff,#c7c7ff,#c5c5ff,#c3c3ff,#c1c1ff,#bebeff,#bbbbff,#b9b9ff,#b6b6ff,#b3b3ff,#b0b0ff,#adadff,#aaaaff,#a8a8ff,#a5a5ff,#a3a3ff,#a1a1ff,#a0a0ff,#9f9fff,#9e9eff,#9d9dff,#9d9dff,#9d9dff,#9d9dff,#9e9eff,#a0a0ff,#a1a1ff,#a3a3ff,#a5a5ff,#a8a8ff,#ababff,#aeaeff,#b1b1ff,#b5b5ff,#b8b8ff,#bcbcff)"></div>
<div class="m" style="top:408.636px;height:14.091px;background:linear-gradient(90deg,#ffd200,#ffcd00,#ffc700,#ffc100,#ffbc00,#ffb600,#ffb100,#ffac00,#ffa700,#ff9d00,#ff8f00,#ff8100,#ff7500,#ff6900,#ff5e00,#ff5500,#ff4d00,#ff4600,#ff4000,#ff3b00,#ff3700,#ff3500,#ff3300,#ff3300,#ff3400,#ff3500,#ff3800,#ff3b00,#ff4000,#ff4500,#ff4a00,#ff5100,#ff5800,#ff5f00,#ff6700,#ff6f00,#ff7700,#ff8000,#ff8900,#ff9200,#ff9b00,#ffa400,#ffa700,#ffaa00,#ffad00,#ffb000,#ffb200,#ffb500,#ffb800,#ffba00,#ffbd00,#ffbf00,#ffc200,#ffc400,#ffc700,#ffc900,#ffcc00,#ffce00,#ffd100,#ffd300,#ffd600,#f8d107,#ebc614,#debb21,#d1b02e,#c4a53b,#b69a49,#a98f56,#9c8363,#8e7871,#816d7e,#73618c,#665699,#584aa7,#4b3fb4,#3e34c1,#3029cf,#231edc,#1713e8,#0a08f5,#0202ff,#0e0eff,#1a1aff,#2525ff,#3030ff,#3b3bff,#4545ff,#4f4fff,#5959ff,#6262ff,#6b6bff,#7373ff,#7b7bff,#8383ff,#8a8aff,#9191ff,#9898ff,#9e9eff,#a4a4ff,#aaaaff,#afafff,#b4b4ff,#b8b8ff,#bcbcff,#c0c0ff,#c4c4ff,#c7c7ff,#cacaff,#ccccff,#ceceff,#d0d0ff,#d1d1ff,#d2d2ff,#d3d3ff,#d3d3ff,#d3d3ff,#d3d3ff,#d2d2ff,#d1d1ff,#d0d0ff,#ceceff,#ccccff,#cacaff,#c8c8ff,#c5c5ff,#c3c3ff,#c0c0ff,#bdbdff,#babaff,#b8b8ff,#b5b5ff,#b2b2ff,#afafff,#adadff,#ababff,#a9a9ff,#a7a7ff,#a6a6ff,#a4a4ff,#a4a4ff,#a3a3ff,#a3a3ff,#a3a3ff,#a4a4ff,#a5a5ff,#a6a6ff,#a8a8ff,#aaaaff,#acacff,#aeaeff,#b1b1ff,#b4b4ff,#b7b7ff,#bbbbff,#bebeff,#c2c2ff)"></div>
<div class="m" style="top:415.682px;height:14.091px;background:linear-gradient(90deg,#ffd600,#ffd100,#ffcb00,#ffc600,#ffc100,#ffbc00,#ffb700,#ffb200,#ffae00,#ffa900,#ffa500,#ff9900,#ff8d00,#ff8300,#ff7900,#ff7000,#ff6900,#ff6300,#ff5d00,#ff5900,#ff5600,#ff5400,#ff5300,#ff5400,#ff5500,#ff5700,#ff5a00,#ff5d00,#ff6200,#ff6700,#ff6d00,#ff7300,#ff7a00,#ff8200,#ff8a00,#ff9200,#ff9a00,#ffa300,#ffa700,#ffaa00,#ffac00,#ffaf00,#ffb200,#ffb500,#ffb700,#ffba00,#ffbd00,#ffbf00,#ffc200,#ffc400,#ffc700,#ffca00,#ffcc00,#ffcf00,#ffd100,#ffd400,#ffd600,#f7d108,#ebc614,#debc21,#d2b12d,#c5a63a,#b99c46,#ac9153,#9f8660,#937c6c,#867179,#796686,#6c5b93,#60519f,#5346ac,#463bb9,#3930c6,#2d26d2,#201bdf,#1411eb,#0706f8,#0505ff,#1010ff,#1c1cff,#2727ff,#3232ff,#3d3dff,#4747ff,#5151ff,#5b5bff,#6464ff,#6d6dff,#7676ff,#7e7eff,#8686ff,#8d8dff,#9494ff,#9b9bff,#a1a1ff,#a7a7ff,#adadff,#b2b2ff,#b7b7ff,#bbbbff,#c0c0ff,#c4c4ff,#c7c7ff,#cbcbff,#ceceff,#d0d0ff,#d3d3ff,#d5d5ff,#d7d7ff,#d8d8ff,#d9d9ff,#dadaff,#dbdbff,#dbdbff,#dbdbff,#dadaff,#d9d9ff,#d8d8ff,#d7d7ff,#d6d6ff,#d4d4ff,#d2d2ff,#d0d0ff,#cdcdff,#cbcbff,#c8c8ff,#c5c5ff,#c3c3ff,#c0c0ff,#bdbdff,#bbbbff,#b8b8ff,#b6b6ff,#b3b3ff,#b1b1ff,#b0b0ff,#aeaeff,#adadff,#acacff,#ababff,#ababff,#ababff,#ababff,#ababff,#acacff,#aeaeff,#afafff,#b1b1ff,#b3b3ff,#b6b6ff,#b8b8ff,#bbbbff,#bebeff,#c1c1ff,#c5c5ff,#c8c8ff)"></div>
<div class="m" style="top:422.727px;height:14.091px;background:linear-gradient(90deg,#e7c318,#ffd700,#ffd200,#ffcd00,#ffc800,#ffc300,#ffbe00,#ffba00,#ffb600,#ffb200,#ffae00,#ffab00,#ffa700,#ffa300,#ff9a00,#ff9300,#ff8c00,#ff8700,#ff8200,#ff7f00,#ff7c00,#ff7b00,#ff7a00,#ff7b00,#ff7c00,#ff7f00,#ff8200,#ff8600,#ff8a00,#ff9000,#ff9500,#ff9c00,#ffa300,#ffa600,#ffa900,#ffab00,#ffae00,#ffb000,#ffb300,#ffb500,#ffb800,#ffbb00,#ffbd00,#ffc000,#ffc300,#ffc500,#ffc800,#ffca00,#ffcd00,#ffcf00,#ffd200,#ffd400,#ffd700,#f3cd0c,#e7c318,#dbb924,#cfae30,#c3a43c,#b79a48,#ab9054,#9f8660,#937c6c,#867179,#7a6785,#6e5d91,#62539d,#5649a9,#4a3fb5,#3e35c1,#322acd,#2620d9,#1b16e4,#0f0cf0,#0303fc,#0808ff,#1414ff,#1f1fff,#2a2aff,#3535ff,#3f3fff,#4949ff,#5353ff,#5d5dff,#6666ff,#6f6fff,#7878ff,#8080ff,#8888ff,#8f8fff,#9696ff,#9d9dff,#a4a4ff,#aaaaff,#afafff,#b5b5ff,#babaff,#bfbfff,#c3c3ff,#c7c7ff,#cbcbff,#ceceff,#d2d2ff,#d4d4ff,#d7d7ff,#d9d9ff,#dcdcff,#ddddff,#dfdfff,#e0e0ff,#e1e1ff,#e2e2ff,#e2e2ff,#e2e2ff,#e2e2ff,#e1e1ff,#e1e1ff,#e0e0ff,#dfdfff,#ddddff,#dbdbff,#dadaff,#d8d8ff,#d5d5ff,#d3d3ff,#d1d1ff,#ceceff,#ccccff,#c9c9ff,#c6c6ff,#c4c4ff,#c2c2ff,#bfbfff,#bdbdff,#bbbbff,#b9b9ff,#b7b7ff,#b6b6ff,#b5b5ff,#b4b4ff,#b3b3ff,#b3b3ff,#b3b3ff,#b4b4ff,#b4b4ff,#b5b5ff,#b6b6ff,#b8b8ff,#babaff,#bcbcff,#bebeff,#c0c0ff,#c3c3ff,#c6c6ff,#c9c9ff,#ccccff,#cfcfff)"></div>
<div class="m" style="top:429.773px;height:14.091px;background:linear-gradient(90deg,#c5a63a,#ddba22,#f5ce0a,#ffd400,#ffd000,#ffcc00,#ffc800,#ffc300,#ffc000,#ffbc00,#ffb900,#ffb600,#ffb300,#ffb000,#ffae00,#ffac00,#ffaa00,#ffa800,#ffa700,#ffa600,#ffa600,#ffa600,#ffa500,#ffa600,#ffa600,#ffa700,#ffa800,#ffa900,#ffab00,#ffac00,#ffae00,#ffb000,#ffb200,#ffb400,#ffb600,#ffb800,#ffbb00,#ffbd00,#ffc000,#ffc200,#ffc500,#ffc700,#ffca00,#ffcc00,#ffcf00,#ffd100,#ffd400,#ffd600,#f8d107,#ecc713,#e0bd1f,#d4b22b,#c8a837,#bc9f43,#b0954f,#a58b5a,#998166,#8e7871,#826e7d,#776488,#6c5b93,#60519f,#5548aa,#4a3eb5,#3f35c0,#342bcb,#2822d7,#1d19e2,#120fed,#0706f8,#0404ff,#0f0fff,#1919ff,#2424ff,#2e2eff,#3838ff,#4343ff,#4c4cff,#5656ff,#5f5fff,#6868ff,#7171ff,#7a7aff,#8282ff,#8a8aff,#9191ff,#9898ff,#9f9fff,#a6a6ff,#acacff,#b2b2ff,#b7b7ff,#bcbcff,#c1c1ff,#c6c6ff,#cacaff,#ceceff,#d1d1ff,#d5d5ff,#d8d8ff,#dbdbff,#ddddff,#e0e0ff,#e2e2ff,#e3e3ff,#e5e5ff,#e6e6ff,#e7e7ff,#e8e8ff,#e9e9ff,#e9e9ff,#e9e9ff,#e9e9ff,#e8e8ff,#e8e8ff,#e7e7ff,#e6e6ff,#e4e4ff,#e3e3ff,#e1e1ff,#dfdfff,#ddddff,#dbdbff,#d9d9ff,#d7d7ff,#d5d5ff,#d2d2ff,#d0d0ff,#cdcdff,#cbcbff,#c9c9ff,#c7c7ff,#c5c5ff,#c3c3ff,#c1c1ff,#c0c0ff,#bfbfff,#bebeff,#bdbdff,#bdbdff,#bcbcff,#bdbdff,#bdbdff,#bebeff,#bebeff,#c0c0ff,#c1c1ff,#c3c3ff,#c5c5ff,#c7c7ff,#c9c9ff,#cbcbff,#ceceff,#d0d0ff,#d3d3ff,#d6d6ff)"></div>
<div class="m" style="top:436.818px;height:14.091px;background:linear-gradient(90deg,#9e8561,#b3974c,#c9a936,#debb21,#f2cc0d,#ffd600,#ffd200,#ffce00,#ffcb00,#ffc800,#ffc400,#ffc200,#ffbf00,#ffbd00,#ffbb00,#ffb900,#ffb700,#ffb600,#ffb500,#ffb500,#ffb400,#ffb400,#ffb400,#ffb400,#ffb500,#ffb600,#ffb700,#ffb800,#ffb900,#ffbb00,#ffbc00,#ffbe00,#ffc000,#ffc200,#ffc400,#ffc600,#ffc800,#ffcb00,#ffcd00,#ffcf00,#ffd100,#ffd400,#ffd600,#f7d108,#ecc713,#e0bd1f,#d4b32b,#c8a937,#bd9f42,#b2964d,#a68c59,#9b8364,#907a6f,#85707a,#7a6785,#705e8f,#65559a,#5a4ca5,#5043af,#453aba,#3b32c4,#3029cf,#2620d9,#1c17e3,#110fee,#0706f8,#0303ff,#0d0dff,#1717ff,#2121ff,#2b2bff,#3535ff,#3e3eff,#4848ff,#5151ff,#5a5aff,#6363ff,#6b6bff,#7474ff,#7c7cff,#8484ff,#8c8cff,#9393ff,#9a9aff,#a1a1ff,#a7a7ff,#adadff,#b3b3ff,#b9b9ff,#bebeff,#c3c3ff,#c8c8ff,#ccccff,#d0d0ff,#d4d4ff,#d7d7ff,#dbdbff,#dedeff,#e0e0ff,#e3e3ff,#e5e5ff,#e7e7ff,#e9e9ff,#eaeaff,#ececff,#ededff,#eeeeff,#eeeeff,#efefff,#efefff,#efefff,#efefff,#eeeeff,#eeeeff,#ededff,#ececff,#ebebff,#eaeaff,#e8e8ff,#e7e7ff,#e5e5ff,#e3e3ff,#e1e1ff,#dfdfff,#ddddff,#dbdbff,#d9d9ff,#d7d7ff,#d5d5ff,#d3d3ff,#d1d1ff,#cfcfff,#cdcdff,#ccccff,#cacaff,#c9c9ff,#c8c8ff,#c7c7ff,#c7c7ff,#c6c6ff,#c6c6ff,#c6c6ff,#c7c7ff,#c7c7ff,#c8c8ff,#c9c9ff,#cacaff,#ccccff,#ceceff,#cfcfff,#d1d1ff,#d4d4ff,#d6d6ff,#d8d8ff,#dbdbff,#ddddff)"></div>
<div class="m" style="top:443.864px;height:14.091px;background:linear-gradient(90deg,#73618c,#867179,#9a8165,#ac9153,#bea141,#d0b02f,#e1be1e,#f2cc0d,#ffd700,#ffd400,#ffd100,#ffcf00,#ffcc00,#ffca00,#ffc900,#ffc700,#ffc600,#ffc500,#ffc400,#ffc300,#ffc300,#ffc300,#ffc300,#ffc300,#ffc400,#ffc500,#ffc600,#ffc700,#ffc800,#ffc900,#ffcb00,#ffcd00,#ffce00,#ffd000,#ffd200,#ffd400,#ffd600,#f9d206,#efc910,#e4c01b,#d9b726,#ceae31,#c3a53c,#b89b47,#ad9252,#a3895c,#988067,#8d7772,#836e7c,#796686,#6e5d91,#64549b,#5a4ca5,#5043af,#463bb9,#3c33c3,#332bcc,#2922d6,#1f1ae0,#1612e9,#0c0af3,#0302fc,#0606ff,#1010ff,#1919ff,#2222ff,#2b2bff,#3434ff,#3d3dff,#4646ff,#4f4fff,#5757ff,#6060ff,#6868ff,#7070ff,#7878ff,#8080ff,#8787ff,#8e8eff,#9595ff,#9c9cff,#a3a3ff,#a9a9ff,#afafff,#b5b5ff,#babaff,#c0c0ff,#c5c5ff,#c9c9ff,#ceceff,#d2d2ff,#d6d6ff,#d9d9ff,#dcdcff,#e0e0ff,#e2e2ff,#e5e5ff,#e7e7ff,#eaeaff,#ececff,#ededff,#efefff,#f0f0ff,#f1f1ff,#f2f2ff,#f3f3ff,#f4f4ff,#f4f4ff,#f4f4ff,#f4f4ff,#f4f4ff,#f4f4ff,#f3f3ff,#f3f3ff,#f2f2ff,#f1f1ff,#f0f0ff,#efefff,#eeeeff,#ececff,#eaeaff,#e9e9ff,#e7e7ff,#e5e5ff,#e3e3ff,#e2e2ff,#e0e0ff,#dedeff,#dcdcff,#dadaff,#d9d9ff,#d7d7ff,#d6d6ff,#d4d4ff,#d3d3ff,#d2d2ff,#d1d1ff,#d0d0ff,#d0d0ff,#d0d0ff,#d0d0ff,#d0d0ff,#d0d0ff,#d1d1ff,#d2d2ff,#d3d3ff,#d4d4ff,#d5d5ff,#d6d6ff,#d8d8ff,#dadaff,#dcdcff,#dedeff,#e0e0ff,#e2e2ff,#e4e4ff)"></div>
<div class="m" style="top:450.909px;height:14.091px;background:linear-gradient(90deg,#473cb8,#584aa7,#695896,#796686,#897376,#988167,#a78d58,#b69949,#c3a43c,#d0af2f,#dcb923,#e6c219,#f0cb0f,#f9d206,#ffd700,#ffd500,#ffd400,#ffd300,#ffd300,#ffd200,#ffd200,#ffd200,#ffd200,#ffd200,#ffd300,#ffd400,#ffd500,#ffd600,#ffd700,#fad205,#f2cc0d,#ebc614,#e3bf1c,#dab825,#d1b12e,#c8a937,#bfa140,#b69949,#ac9153,#a2895d,#988067,#8f7870,#85707a,#7b6884,#71608e,#685797,#5e4fa1,#5547aa,#4b3fb4,#4238bd,#3930c6,#3028cf,#2620d9,#1e19e1,#1511ea,#0c0af3,#0303fc,#0505ff,#0e0eff,#1616ff,#1f1fff,#2727ff,#2f2fff,#3838ff,#4040ff,#4848ff,#5050ff,#5858ff,#5f5fff,#6767ff,#6f6fff,#7676ff,#7d7dff,#8484ff,#8b8bff,#9292ff,#9999ff,#9f9fff,#a5a5ff,#ababff,#b1b1ff,#b7b7ff,#bcbcff,#c1c1ff,#c6c6ff,#cbcbff,#cfcfff,#d3d3ff,#d7d7ff,#dadaff,#dedeff,#e1e1ff,#e4e4ff,#e7e7ff,#e9e9ff,#ebebff,#ededff,#efefff,#f1f1ff,#f3f3ff,#f4f4ff,#f5f5ff,#f6f6ff,#f7f7ff,#f8f8ff,#f8f8ff,#f9f9ff,#f9f9ff,#f9f9ff,#f9f9ff,#f9f9ff,#f8f8ff,#f8f8ff,#f7f7ff,#f6f6ff,#f6f6ff,#f5f5ff,#f3f3ff,#f2f2ff,#f1f1ff,#f0f0ff,#eeeeff,#ededff,#ebebff,#e9e9ff,#e8e8ff,#e6e6ff,#e5e5ff,#e3e3ff,#e2e2ff,#e0e0ff,#dfdfff,#dedeff,#dcdcff,#dbdbff,#dbdbff,#dadaff,#d9d9ff,#d9d9ff,#d9d9ff,#d9d9ff,#d9d9ff,#d9d9ff,#dadaff,#dbdbff,#dbdbff,#dcdcff,#dedeff,#dfdfff,#e0e0ff,#e2e2ff,#e3e3ff,#e5e5ff,#e7e7ff,#e8e8ff,#eaeaff)"></div>
<div class="m" style="top:457.955px;height:14.091px;background:linear-gradient(90deg,#1b16e4,#2923d6,#382fc7,#463bb9,#5446ab,#61529e,#6e5d91,#7a6785,#867179,#917a6e,#9b8264,#a48a5b,#ac9153,#b4984b,#bb9d44,#c0a23f,#c5a63a,#c9a936,#cbab34,#cdad32,#ceae31,#ceae31,#cdad32,#cbab34,#c8a937,#c5a63a,#c1a33e,#bc9f43,#b79a48,#b1954e,#ab9054,#a48a5b,#9d8462,#957e6a,#8d7772,#85707a,#7d6982,#75628a,#6c5b93,#63549c,#5b4da4,#5245ad,#4a3eb5,#4137be,#3830c7,#3028cf,#2821d7,#1f1ae0,#1713e8,#0f0cf0,#0706f8,#0101ff,#0909ff,#1111ff,#1919ff,#2121ff,#2828ff,#3030ff,#3737ff,#3f3fff,#4646ff,#4d4dff,#5555ff,#5c5cff,#6363ff,#6a6aff,#7171ff,#7777ff,#7e7eff,#8585ff,#8b8bff,#9191ff,#9797ff,#9e9eff,#a3a3ff,#a9a9ff,#afafff,#b4b4ff,#b9b9ff,#bebeff,#c3c3ff,#c8c8ff,#ccccff,#d0d0ff,#d4d4ff,#d8d8ff,#dcdcff,#dfdfff,#e2e2ff,#e5e5ff,#e8e8ff,#eaeaff,#ededff,#efefff,#f1f1ff,#f3f3ff,#f4f4ff,#f6f6ff,#f7f7ff,#f8f8ff,#f9f9ff,#fafaff,#fbfbff,#fbfbff,#fcfcff,#fcfcff,#fdfdff,#fdfdff,#fdfdff,#fcfcff,#fcfcff,#fcfcff,#fbfbff,#fbfbff,#fafaff,#f9f9ff,#f8f8ff,#f7f7ff,#f6f6ff,#f5f5ff,#f4f4ff,#f3f3ff,#f2f2ff,#f0f0ff,#efefff,#eeeeff,#ececff,#ebebff,#eaeaff,#e8e8ff,#e7e7ff,#e6e6ff,#e5e5ff,#e4e4ff,#e3e3ff,#e3e3ff,#e2e2ff,#e2e2ff,#e1e1ff,#e1e1ff,#e1e1ff,#e1e1ff,#e2e2ff,#e2e2ff,#e3e3ff,#e4e4ff,#e4e4ff,#e5e5ff,#e6e6ff,#e8e8ff,#e9e9ff,#eaeaff,#ececff,#ededff,#eeeeff,#f0f0ff)"></div>
</div>
<div class="h" style="left:173.5px;top:730px;width:1084.5px;height:465px">
<div style="top:0;height:7.116px;background:linear-gradient(90deg,#f6f6ff,#f6f6ff,#f6f6ff,#f7f7ff,#f7f7ff,#f7f7ff,#f7f7ff,#f7f7ff,#f8f8ff,#f8f8ff,#f8f8ff,#f8f8ff,#f9f9ff,#f9f9ff,#fafaff,#fafaff,#fafaff,#fbfbff,#fbfbff,#fbfbff,#fcfcff,#fcfcff,#fcfcff,#fdfdff,#fdfdff,#fdfdff,#fdfdff,#fefeff,#fefeff,#fefeff,#fefeff,#fefeff,#fefeff,#fefeff,#fefeff,#fefeff,#fefeff,#fefeff,#fefeff,#fefeff,#fefeff,#fefeff,#fefeff,#fefeff,#fefeff,#fefeff,#fdfdff,#fdfdff,#fdfdff,#fcfcff,#fcfcff,#fbfbff,#fbfbff,#fafaff,#fafaff,#f9f9ff,#f8f8ff,#f7f7ff,#f6f6ff,#f4f4ff,#f3f3ff,#f2f2ff,#f0f0ff,#eeeeff,#ececff,#eaeaff,#e8e8ff,#e6e6ff,#e4e4ff,#e1e1ff,#dedeff,#dcdcff,#d9d9ff,#d6d6ff,#d3d3ff,#d0d0ff,#cdcdff,#cacaff,#c7c7ff,#c4c4ff,#c1c1ff,#bebeff,#babaff,#b7b7ff,#b4b4ff,#b1b1ff,#adadff,#aaaaff,#a7a7ff,#a3a3ff,#a0a0ff,#9c9cff,#9999ff,#9696ff,#9292ff,#8f8fff,#8b8bff,#8888ff,#8484ff,#8181ff,#7e7eff,#7a7aff,#7777ff,#7373ff,#7070ff,#6d6dff,#6a6aff,#6666ff,#6363ff,#6060ff,#5c5cff,#5959ff,#5656ff,#5252ff,#4f4fff,#4c4cff,#4848ff,#4545ff,#4242ff,#3f3fff,#3c3cff,#3939ff,#3636ff,#3434ff,#3232ff,#3030ff,#2f2fff,#2e2eff,#2e2eff,#2e2eff,#2f2fff,#3030ff,#3232ff,#3535ff,#3838ff,#3c3cff,#4141ff,#4646ff,#4b4bff,#5151ff,#5757ff,#5e5eff,#6565ff,#6c6cff,#7474ff,#7b7bff,#8383ff,#8a8aff,#9292ff,#9999ff,#a0a0ff,#a7a7ff,#adadff,#b4b4ff,#babaff,#c0c0ff)"></div>
<div class="m" style="top:0.000px;height:14.091px;background:linear-gradient(90deg,#f2f2ff,#f2f2ff,#f2f2ff,#f3f3ff,#f3f3ff,#f3f3ff,#f3f3ff,#f4f4ff,#f4f4ff,#f4f4ff,#f5f5ff,#f5f5ff,#f6f6ff,#f6f6ff,#f7f7ff,#f8f8ff,#f8f8ff,#f9f9ff,#f9f9ff,#fafaff,#fafaff,#fbfbff,#fbfbff,#fbfbff,#fcfcff,#fcfcff,#fcfcff,#fdfdff,#fdfdff,#fdfdff,#fdfdff,#fefeff,#fefeff,#fefeff,#fefeff,#fefeff,#fefeff,#fefeff,#fefeff,#fefeff,#fefeff,#fefeff,#fefeff,#fdfdff,#fdfdff,#fdfdff,#fdfdff,#fcfcff,#fcfcff,#fbfbff,#fbfbff,#fafaff,#fafaff,#f9f9ff,#f8f8ff,#f7f7ff,#f6f6ff,#f4f4ff,#f3f3ff,#f1f1ff,#f0f0ff,#eeeeff,#ececff,#eaeaff,#e8e8ff,#e5e5ff,#e2e2ff,#e0e0ff,#ddddff,#dadaff,#d7d7ff,#d4d4ff,#d0d0ff,#cdcdff,#c9c9ff,#c6c6ff,#c2c2ff,#bfbfff,#bbbbff,#b7b7ff,#b4b4ff,#b0b0ff,#acacff,#a9a9ff,#a5a5ff,#a1a1ff,#9e9eff,#9a9aff,#9797ff,#9393ff,#8f8fff,#8c8cff,#8888ff,#8585ff,#8181ff,#7e7eff,#7a7aff,#7676ff,#7373ff,#6f6fff,#6c6cff,#6868ff,#6565ff,#6161ff,#5e5eff,#5a5aff,#5656ff,#5353ff,#4f4fff,#4b4bff,#4747ff,#4343ff,#3f3fff,#3a3aff,#3636ff,#3232ff,#2d2dff,#2929ff,#2525ff,#2020ff,#1c1cff,#1818ff,#1414ff,#1111ff,#0e0eff,#0b0bff,#0909ff,#0707ff,#0606ff,#0505ff,#0606ff,#0707ff,#0808ff,#0b0bff,#0e0eff,#1212ff,#1717ff,#1d1dff,#2323ff,#2929ff,#3131ff,#3838ff,#4040ff,#4949ff,#5151ff,#5a5aff,#6363ff,#6c6cff,#7575ff,#7e7eff,#8686ff,#8f8fff,#9797ff,#9f9fff,#a6a6ff,#adadff)"></div>
<div class="m" style="top:7.045px;height:14.091px;background:linear-gradient(90deg,#ededff,#ededff,#ededff,#ededff,#eeeeff,#eeeeff,#eeeeff,#efefff,#efefff,#f0f0ff,#f1f1ff,#f1f1ff,#f2f2ff,#f3f3ff,#f4f4ff,#f4f4ff,#f5f5ff,#f6f6ff,#f7f7ff,#f7f7ff,#f8f8ff,#f9f9ff,#f9f9ff,#fafaff,#fafaff,#fbfbff,#fbfbff,#fcfcff,#fcfcff,#fcfcff,#fdfdff,#fdfdff,#fdfdff,#fdfdff,#fdfdff,#fdfdff,#fdfdff,#fdfdff,#fdfdff,#fdfdff,#fdfdff,#fdfdff,#fdfdff,#fdfdff,#fcfcff,#fcfcff,#fcfcff,#fbfbff,#fbfbff,#fafaff,#f9f9ff,#f8f8ff,#f8f8ff,#f7f7ff,#f6f6ff,#f4f4ff,#f3f3ff,#f1f1ff,#f0f0ff,#eeeeff,#ececff,#eaeaff,#e7e7ff,#e5e5ff,#e2e2ff,#dfdfff,#dcdcff,#d9d9ff,#d5d5ff,#d2d2ff,#ceceff,#cbcbff,#c7c7ff,#c3c3ff,#bfbfff,#bbbbff,#b6b6ff,#b2b2ff,#aeaeff,#aaaaff,#a6a6ff,#a2a2ff,#9e9eff,#9a9aff,#9696ff,#9292ff,#8e8eff,#8a8aff,#8686ff,#8282ff,#7f7fff,#7b7bff,#7777ff,#7474ff,#7070ff,#6d6dff,#6969ff,#6666ff,#6262ff,#5e5eff,#5b5bff,#5757ff,#5353ff,#5050ff,#4c4cff,#4848ff,#4444ff,#4040ff,#3b3bff,#3737ff,#3232ff,#2d2dff,#2828ff,#2323ff,#1d1dff,#1818ff,#1212ff,#0c0cff,#0707ff,#0101ff,#0504fa,#0a09f5,#0f0df0,#1411eb,#1915e6,#1d18e2,#201bdf,#231edc,#2520da,#2721d8,#2721d8,#2721d8,#2620d9,#241edb,#201bdf,#1c18e3,#1714e8,#120fed,#0b09f4,#0403fb,#0404ff,#0d0dff,#1616ff,#2020ff,#2a2aff,#3434ff,#3f3fff,#4949ff,#5454ff,#5e5eff,#6868ff,#7373ff,#7c7cff,#8686ff,#8f8fff,#9898ff)"></div>
<div class="m" style="top:14.091px;height:14.091px;background:linear-gradient(90deg,#e7e7ff,#e7e7ff,#e7e7ff,#e7e7ff,#e7e7ff,#e8e8ff,#e8e8ff,#e9e9ff,#eaeaff,#eaeaff,#ebebff,#ececff,#ededff,#eeeeff,#efefff,#f0f0ff,#f1f1ff,#f2f2ff,#f3f3ff,#f4f4ff,#f5f5ff,#f6f6ff,#f7f7ff,#f8f8ff,#f8f8ff,#f9f9ff,#fafaff,#fafaff,#fbfbff,#fbfbff,#fcfcff,#fcfcff,#fcfcff,#fcfcff,#fcfcff,#fcfcff,#fcfcff,#fcfcff,#fcfcff,#fcfcff,#fcfcff,#fcfcff,#fcfcff,#fbfbff,#fbfbff,#fafaff,#fafaff,#f9f9ff,#f9f9ff,#f8f8ff,#f7f7ff,#f6f6ff,#f5f5ff,#f4f4ff,#f2f2ff,#f1f1ff,#efefff,#ededff,#ebebff,#e9e9ff,#e7e7ff,#e4e4ff,#e2e2ff,#dfdfff,#dcdcff,#d8d8ff,#d5d5ff,#d1d1ff,#cdcdff,#c9c9ff,#c5c5ff,#c1c1ff,#bcbcff,#b8b8ff,#b3b3ff,#afafff,#aaaaff,#a5a5ff,#a1a1ff,#9c9cff,#9898ff,#9393ff,#8f8fff,#8a8aff,#8686ff,#8282ff,#7e7eff,#7a7aff,#7676ff,#7272ff,#6e6eff,#6b6bff,#6767ff,#6363ff,#6060ff,#5c5cff,#5959ff,#5555ff,#5151ff,#4e4eff,#4a4aff,#4646ff,#4343ff,#3f3fff,#3a3aff,#3636ff,#3232ff,#2d2dff,#2828ff,#2323ff,#1d1dff,#1717ff,#1111ff,#0b0bff,#0404ff,#0302fc,#0a08f5,#110eee,#1815e7,#201bdf,#2721d8,#2e27d1,#352dca,#3c32c3,#4237bd,#473cb8,#4c40b3,#5144ae,#5447ab,#5649a9,#584aa7,#594ba6,#584aa7,#5649a9,#5446ab,#5043af,#4b3fb4,#453aba,#3e34c1,#362dc9,#2d26d2,#231edc,#1915e6,#0e0cf1,#0302fc,#0909ff,#1515ff,#2121ff,#2e2eff,#3a3aff,#4646ff,#5252ff,#5e5eff,#6969ff,#7474ff,#7f7fff)"></div>
<div class="m" style="top:21.136px;height:14.091px;background:linear-gradient(90deg,#dfdfff,#dfdfff,#dfdfff,#dfdfff,#e0e0ff,#e0e0ff,#e1e1ff,#e2e2ff,#e3e3ff,#e4e4ff,#e5e5ff,#e6e6ff,#e7e7ff,#e9e9ff,#eaeaff,#ebebff,#ededff,#eeeeff,#efefff,#f1f1ff,#f2f2ff,#f3f3ff,#f4f4ff,#f5f5ff,#f6f6ff,#f7f7ff,#f8f8ff,#f8f8ff,#f9f9ff,#fafaff,#fafaff,#fafaff,#fbfbff,#fbfbff,#fbfbff,#fbfbff,#fbfbff,#fbfbff,#fbfbff,#fbfbff,#fafaff,#fafaff,#fafaff,#f9f9ff,#f9f9ff,#f8f8ff,#f7f7ff,#f7f7ff,#f6f6ff,#f5f5ff,#f4f4ff,#f3f3ff,#f1f1ff,#f0f0ff,#eeeeff,#ececff,#eaeaff,#e8e8ff,#e6e6ff,#e4e4ff,#e1e1ff,#dedeff,#dbdbff,#d8d8ff,#d4d4ff,#d0d0ff,#ccccff,#c8c8ff,#c4c4ff,#bfbfff,#bbbbff,#b6b6ff,#b1b1ff,#acacff,#a7a7ff,#a2a2ff,#9d9dff,#9898ff,#9393ff,#8e8eff,#8989ff,#8484ff,#8080ff,#7b7bff,#7676ff,#7272ff,#6e6eff,#6a6aff,#6565ff,#6262ff,#5e5eff,#5a5aff,#5656ff,#5353ff,#4f4fff,#4c4cff,#4848ff,#4444ff,#4141ff,#3d3dff,#3939ff,#3636ff,#3131ff,#2d2dff,#2929ff,#2424ff,#1f1fff,#1a1aff,#1414ff,#0e0eff,#0707ff,#0000ff,#0706f8,#0f0cf0,#1613e9,#1f1ae0,#2721d8,#3029cf,#3930c6,#4238bd,#4b3fb4,#5447ab,#5d4ea2,#65559a,#6d5c92,#74628b,#7b6884,#816d7e,#867179,#8a7475,#8c7673,#8e7871,#8e7871,#8d7772,#8b7574,#887277,#836e7c,#7d6982,#75638a,#6d5c92,#63549c,#594ba6,#4d41b2,#4137be,#342ccb,#2721d8,#1915e6,#0b0af4,#0303ff,#1111ff,#1f1fff,#2d2dff,#3b3bff,#4848ff,#5656ff,#6262ff)"></div>
<div class="m" style="top:28.182px;height:14.091px;background:linear-gradient(90deg,#d7d7ff,#d7d7ff,#d7d7ff,#d7d7ff,#d7d7ff,#d8d8ff,#d9d9ff,#dadaff,#dbdbff,#dcdcff,#dedeff,#dfdfff,#e1e1ff,#e2e2ff,#e4e4ff,#e6e6ff,#e7e7ff,#e9e9ff,#ebebff,#ececff,#eeeeff,#efefff,#f1f1ff,#f2f2ff,#f3f3ff,#f4f4ff,#f5f5ff,#f6f6ff,#f7f7ff,#f7f7ff,#f8f8ff,#f8f8ff,#f9f9ff,#f9f9ff,#f9f9ff,#f9f9ff,#f9f9ff,#f9f9ff,#f9f9ff,#f8f8ff,#f8f8ff,#f7f7ff,#f7f7ff,#f6f6ff,#f6f6ff,#f5f5ff,#f4f4ff,#f3f3ff,#f2f2ff,#f0f0ff,#efefff,#eeeeff,#ececff,#eaeaff,#e8e8ff,#e6e6ff,#e4e4ff,#e2e2ff,#dfdfff,#dcdcff,#d9d9ff,#d6d6ff,#d2d2ff,#cfcfff,#cbcbff,#c7c7ff,#c3c3ff,#bebeff,#b9b9ff,#b5b5ff,#b0b0ff,#aaaaff,#a5a5ff,#a0a0ff,#9a9aff,#9595ff,#9090ff,#8a8aff,#8585ff,#7f7fff,#7a7aff,#7575ff,#7070ff,#6b6bff,#6666ff,#6262ff,#5d5dff,#5959ff,#5555ff,#5151ff,#4d4dff,#4949ff,#4545ff,#4242ff,#3e3eff,#3a3aff,#3737ff,#3333ff,#2f2fff,#2b2bff,#2727ff,#2323ff,#1f1fff,#1a1aff,#1515ff,#1010ff,#0a0aff,#0404ff,#0302fc,#0a08f5,#110eee,#1915e6,#221cdd,#2a24d5,#342ccb,#3e34c1,#483db7,#5245ad,#5d4ea2,#685897,#73618c,#7d6a82,#887377,#927b6d,#9c8363,#a58b5a,#ad9252,#b5984a,#bb9e44,#c0a23f,#c4a63b,#c7a838,#c8a937,#c8a937,#c7a838,#c4a53b,#bfa140,#b99c46,#b1954e,#a88e57,#9e8561,#937c6c,#867179,#796686,#6b5a94,#5c4ea3,#4d41b2,#3d33c2,#2d26d2,#1c18e3,#0c0af3,#0404ff,#1414ff,#2424ff,#3434ff,#4242ff)"></div>
<div class="m" style="top:35.227px;height:14.091px;background:linear-gradient(90deg,#cfcfff,#ceceff,#ceceff,#ceceff,#cfcfff,#cfcfff,#d0d0ff,#d1d1ff,#d3d3ff,#d4d4ff,#d6d6ff,#d8d8ff,#d9d9ff,#dbdbff,#ddddff,#dfdfff,#e2e2ff,#e4e4ff,#e6e6ff,#e7e7ff,#e9e9ff,#ebebff,#ededff,#eeeeff,#f0f0ff,#f1f1ff,#f2f2ff,#f3f3ff,#f4f4ff,#f5f5ff,#f5f5ff,#f6f6ff,#f6f6ff,#f6f6ff,#f6f6ff,#f6f6ff,#f6f6ff,#f6f6ff,#f5f5ff,#f5f5ff,#f4f4ff,#f4f4ff,#f3f3ff,#f2f2ff,#f1f1ff,#f0f0ff,#efefff,#ededff,#ececff,#eaeaff,#e9e9ff,#e7e7ff,#e5e5ff,#e3e3ff,#e0e0ff,#dedeff,#dbdbff,#d9d9ff,#d6d6ff,#d3d3ff,#cfcfff,#ccccff,#c8c8ff,#c4c4ff,#c0c0ff,#bbbbff,#b7b7ff,#b2b2ff,#adadff,#a8a8ff,#a3a3ff,#9d9dff,#9898ff,#9292ff,#8d8dff,#8787ff,#8181ff,#7b7bff,#7676ff,#7070ff,#6b6bff,#6565ff,#6060ff,#5b5bff,#5656ff,#5151ff,#4c4cff,#4848ff,#4444ff,#3f3fff,#3b3bff,#3737ff,#3333ff,#2f2fff,#2b2bff,#2828ff,#2424ff,#2020ff,#1c1cff,#1717ff,#1313ff,#0e0eff,#0909ff,#0404ff,#0101fe,#0806f7,#0e0cf1,#1512ea,#1d18e2,#251fda,#2d26d2,#372ec8,#4036bf,#4b3fb4,#5648a9,#61529e,#6d5c92,#796686,#85707a,#927b6d,#9e8561,#ab9054,#b79a48,#c3a43c,#ceae31,#d9b726,#e3c01c,#ecc713,#f4ce0b,#fbd304,#ffd700,#ffd600,#ffd600,#ffd500,#ffd600,#ffd600,#ffd700,#f9d206,#f1cb0e,#e8c417,#ddba22,#d1b02e,#c4a53b,#b5994a,#a58b5a,#957e6a,#846f7b,#72608d,#60519f,#4d41b2,#3b31c4,#2822d7,#1612e9,#0303fc,#0e0eff,#2020ff)"></div>
<div class="m" style="top:42.273px;height:14.091px;background:linear-gradient(90deg,#c6c6ff,#c6c6ff,#c5c5ff,#c6c6ff,#c6c6ff,#c7c7ff,#c8c8ff,#c9c9ff,#cacaff,#ccccff,#ceceff,#d0d0ff,#d2d2ff,#d4d4ff,#d7d7ff,#d9d9ff,#dbdbff,#dedeff,#e0e0ff,#e2e2ff,#e4e4ff,#e6e6ff,#e8e8ff,#eaeaff,#ececff,#ededff,#eeeeff,#f0f0ff,#f0f0ff,#f1f1ff,#f2f2ff,#f2f2ff,#f3f3ff,#f3f3ff,#f3f3ff,#f2f2ff,#f2f2ff,#f2f2ff,#f1f1ff,#f0f0ff,#efefff,#eeeeff,#ededff,#ececff,#eaeaff,#e9e9ff,#e7e7ff,#e5e5ff,#e4e4ff,#e2e2ff,#e0e0ff,#ddddff,#dbdbff,#d8d8ff,#d6d6ff,#d3d3ff,#d0d0ff,#cdcdff,#cacaff,#c6c6ff,#c3c3ff,#bfbfff,#bbbbff,#b7b7ff,#b2b2ff,#aeaeff,#a9a9ff,#a4a4ff,#9f9fff,#9a9aff,#9494ff,#8f8fff,#8989ff,#8383ff,#7d7dff,#7777ff,#7272ff,#6c6cff,#6666ff,#6060ff,#5a5aff,#5555ff,#4f4fff,#4a4aff,#4444ff,#3f3fff,#3a3aff,#3636ff,#3131ff,#2c2cff,#2828ff,#2323ff,#1f1fff,#1b1bff,#1717ff,#1212ff,#0e0eff,#0909ff,#0505ff,#0000ff,#0504fa,#0b09f4,#100eef,#1613e9,#1d18e2,#241edb,#2b25d4,#342bcb,#3c33c3,#463bb9,#4f43b0,#5a4ca5,#65559a,#715f8e,#7d6982,#8a7475,#977f68,#a58b5a,#b3974c,#c1a23e,#cfae30,#ddba22,#ebc614,#f8d107,#ffd600,#ffd300,#ffd100,#ffcf00,#ffcd00,#ffcc00,#ffca00,#ffc900,#ffc900,#ffc900,#ffc900,#ffc900,#ffca00,#ffcb00,#ffcd00,#ffce00,#ffd100,#ffd300,#ffd600,#f4ce0b,#e3bf1c,#d1b02e,#bea041,#aa8f55,#967e69,#816d7e,#6c5b93,#5749a8,#4238bd,#2d26d2,#1915e6,#0504fa)"></div>
<div class="m" style="top:49.318px;height:14.091px;background:linear-gradient(90deg,#bebeff,#bebeff,#bebeff,#bebeff,#bebeff,#bfbfff,#c0c0ff,#c1c1ff,#c3c3ff,#c4c4ff,#c6c6ff,#c9c9ff,#cbcbff,#cdcdff,#d0d0ff,#d3d3ff,#d5d5ff,#d8d8ff,#dadaff,#ddddff,#dfdfff,#e1e1ff,#e3e3ff,#e5e5ff,#e7e7ff,#e9e9ff,#eaeaff,#ebebff,#ececff,#ededff,#eeeeff,#eeeeff,#eeeeff,#eeeeff,#eeeeff,#ededff,#ededff,#ececff,#ebebff,#eaeaff,#e8e8ff,#e7e7ff,#e5e5ff,#e4e4ff,#e2e2ff,#e0e0ff,#dedeff,#dbdbff,#d9d9ff,#d6d6ff,#d4d4ff,#d1d1ff,#ceceff,#cbcbff,#c8c8ff,#c5c5ff,#c2c2ff,#bebeff,#babaff,#b7b7ff,#b3b3ff,#afafff,#ababff,#a6a6ff,#a2a2ff,#9d9dff,#9898ff,#9393ff,#8e8eff,#8989ff,#8383ff,#7e7eff,#7878ff,#7272ff,#6c6cff,#6666ff,#6060ff,#5a5aff,#5454ff,#4e4eff,#4848ff,#4343ff,#3d3dff,#3737ff,#3232ff,#2c2cff,#2727ff,#2121ff,#1c1cff,#1717ff,#1212ff,#0d0dff,#0808ff,#0303ff,#0201fd,#0706f8,#0c0af3,#110eee,#1713e8,#1c18e3,#221ddd,#2922d6,#2f28d0,#372ec8,#3e35c1,#463bb9,#4f43b0,#584ba7,#62539d,#6d5c92,#786587,#846f7b,#907a6f,#9d8562,#ab9054,#b99c46,#c8a837,#d7b528,#e6c219,#f5cf0a,#ffd600,#ffd300,#ffd000,#ffcd00,#ffca00,#ffc800,#ffc500,#ffc300,#ffc100,#ffbf00,#ffbe00,#ffbc00,#ffbc00,#ffbb00,#ffbb00,#ffbc00,#ffbc00,#ffbe00,#ffbf00,#ffc100,#ffc400,#ffc600,#ffc900,#ffcd00,#ffd000,#ffd400,#f9d206,#e3c01c,#cdad32,#b69a49,#9f8660,#887277,#705f8f,#594ba6,#4238bd,#2c25d3)"></div>
<div class="m" style="top:56.364px;height:14.091px;background:linear-gradient(90deg,#b8b8ff,#b8b8ff,#b7b7ff,#b7b7ff,#b7b7ff,#b8b8ff,#b9b9ff,#babaff,#bcbcff,#bebeff,#c0c0ff,#c2c2ff,#c5c5ff,#c7c7ff,#cacaff,#cdcdff,#cfcfff,#d2d2ff,#d5d5ff,#d7d7ff,#dadaff,#dcdcff,#dedeff,#e0e0ff,#e2e2ff,#e4e4ff,#e5e5ff,#e6e6ff,#e7e7ff,#e8e8ff,#e8e8ff,#e8e8ff,#e8e8ff,#e8e8ff,#e7e7ff,#e7e7ff,#e6e6ff,#e4e4ff,#e3e3ff,#e1e1ff,#e0e0ff,#dedeff,#dbdbff,#d9d9ff,#d7d7ff,#d4d4ff,#d1d1ff,#ceceff,#cbcbff,#c8c8ff,#c5c5ff,#c1c1ff,#bebeff,#babaff,#b7b7ff,#b3b3ff,#afafff,#acacff,#a8a8ff,#a4a4ff,#a0a0ff,#9b9bff,#9797ff,#9393ff,#8e8eff,#8989ff,#8585ff,#8080ff,#7a7aff,#7575ff,#7070ff,#6a6aff,#6565ff,#5f5fff,#5959ff,#5353ff,#4d4dff,#4747ff,#4141ff,#3b3bff,#3535ff,#2f2fff,#2929ff,#2323ff,#1d1dff,#1717ff,#1111ff,#0b0bff,#0505ff,#0000ff,#0605f9,#0c0af3,#120fed,#1714e8,#1d19e2,#231edc,#2a23d5,#3028cf,#372ec8,#3e34c1,#453aba,#4c40b3,#5547aa,#5d4ea2,#665699,#705e8f,#7a6785,#84707b,#90796f,#9b8364,#a88e57,#b5994a,#c3a43c,#d1b02e,#e0bd1f,#efca10,#ffd700,#ffd400,#ffd100,#ffcd00,#ffca00,#ffc700,#ffc400,#ffc100,#ffbe00,#ffbb00,#ffb800,#ffb600,#ffb400,#ffb200,#ffb000,#ffaf00,#ffae00,#ffae00,#ffae00,#ffae00,#ffaf00,#ffb000,#ffb200,#ffb400,#ffb600,#ffb900,#ffbd00,#ffc000,#ffc400,#ffc800,#ffcd00,#ffd100,#ffd600,#ecc713,#d2b12d,#b89c47,#9f8660,#85707a,#6c5b93,#5346ac)"></div>
<div class="m" style="top:63.409px;height:14.091px;background:linear-gradient(90deg,#b4b4ff,#b3b3ff,#b3b3ff,#b3b3ff,#b3b3ff,#b3b3ff,#b4b4ff,#b5b5ff,#b7b7ff,#b9b9ff,#bbbbff,#bdbdff,#c0c0ff,#c2c2ff,#c5c5ff,#c8c8ff,#cacaff,#cdcdff,#d0d0ff,#d2d2ff,#d5d5ff,#d7d7ff,#d9d9ff,#dbdbff,#ddddff,#dfdfff,#e0e0ff,#e1e1ff,#e1e1ff,#e2e2ff,#e2e2ff,#e2e2ff,#e1e1ff,#e1e1ff,#e0e0ff,#dfdfff,#ddddff,#dbdbff,#d9d9ff,#d7d7ff,#d5d5ff,#d2d2ff,#cfcfff,#ccccff,#c9c9ff,#c5c5ff,#c2c2ff,#bebeff,#babaff,#b7b7ff,#b3b3ff,#afafff,#ababff,#a6a6ff,#a2a2ff,#9e9eff,#9a9aff,#9696ff,#9191ff,#8d8dff,#8989ff,#8585ff,#8080ff,#7c7cff,#7777ff,#7272ff,#6e6eff,#6969ff,#6464ff,#5f5fff,#5a5aff,#5454ff,#4f4fff,#4949ff,#4444ff,#3e3eff,#3838ff,#3232ff,#2c2cff,#2626ff,#1f1fff,#1919ff,#1313ff,#0c0cff,#0606ff,#0101fe,#0706f8,#0e0cf1,#1411eb,#1b17e4,#211cde,#2822d7,#2f28d0,#362ec9,#3d33c2,#443abb,#4c40b3,#5446ab,#5c4da3,#64549b,#6d5c92,#766389,#7f6b80,#897476,#947d6b,#9f8660,#aa9055,#b79a48,#c3a53c,#d0b02f,#debb21,#edc812,#fcd403,#ffd500,#ffd200,#ffce00,#ffcb00,#ffc800,#ffc400,#ffc100,#ffbe00,#ffba00,#ffb700,#ffb400,#ffb100,#ffae00,#ffac00,#ffa900,#ffa700,#ffa500,#ffa000,#ff9c00,#ff9900,#ff9800,#ff9700,#ff9900,#ff9b00,#ffa000,#ffa500,#ffa700,#ffaa00,#ffad00,#ffb000,#ffb400,#ffb800,#ffbd00,#ffc100,#ffc600,#ffcb00,#ffd100,#ffd600,#e8c317,#ccac33,#b0944f,#947d6b,#796686)"></div>
<div class="m" style="top:70.455px;height:14.091px;background:linear-gradient(90deg,#b3b3ff,#b2b2ff,#b1b1ff,#b0b0ff,#b0b0ff,#b1b1ff,#b2b2ff,#b3b3ff,#b4b4ff,#b6b6ff,#b8b8ff,#babaff,#bcbcff,#bfbfff,#c1c1ff,#c4c4ff,#c6c6ff,#c9c9ff,#ccccff,#ceceff,#d0d0ff,#d2d2ff,#d4d4ff,#d6d6ff,#d8d8ff,#d9d9ff,#dadaff,#dbdbff,#dbdbff,#dbdbff,#dbdbff,#dadaff,#d9d9ff,#d8d8ff,#d7d7ff,#d5d5ff,#d3d3ff,#d1d1ff,#ceceff,#cbcbff,#c8c8ff,#c5c5ff,#c1c1ff,#bdbdff,#b9b9ff,#b5b5ff,#b0b0ff,#acacff,#a7a7ff,#a3a3ff,#9e9eff,#9999ff,#9494ff,#9090ff,#8b8bff,#8686ff,#8181ff,#7d7dff,#7878ff,#7474ff,#6f6fff,#6b6bff,#6666ff,#6262ff,#5d5dff,#5959ff,#5454ff,#5050ff,#4b4bff,#4646ff,#4141ff,#3c3cff,#3737ff,#3232ff,#2c2cff,#2727ff,#2121ff,#1b1bff,#1515ff,#0e0eff,#0808ff,#0101ff,#0504fa,#0c0af3,#1310ec,#1a16e5,#211cde,#2922d6,#3029cf,#382fc7,#3f36c0,#473cb8,#4f43b0,#584aa7,#60519f,#695896,#72608d,#7b6884,#85707a,#8e7871,#998166,#a38a5c,#af9350,#ba9d45,#c6a739,#d3b22c,#e0bd1f,#eec811,#fcd403,#ffd500,#ffd200,#ffcf00,#ffcc00,#ffc800,#ffc500,#ffc200,#ffbe00,#ffbb00,#ffb800,#ffb400,#ffb100,#ffae00,#ffaa00,#ffa700,#ffa200,#ff9900,#ff9100,#ff8900,#ff8200,#ff7c00,#ff7700,#ff7300,#ff7000,#ff6f00,#ff6f00,#ff7100,#ff7400,#ff7900,#ff7f00,#ff8600,#ff8f00,#ff9a00,#ffa500,#ffa900,#ffae00,#ffb200,#ffb700,#ffbc00,#ffc200,#ffc700,#ffcd00,#ffd300,#f6cf09,#d8b627,#ba9d45,#9d8462)"></div>
<div class="m" style="top:77.500px;height:14.091px;background:linear-gradient(90deg,#b4b4ff,#b2b2ff,#b1b1ff,#b1b1ff,#b1b1ff,#b1b1ff,#b1b1ff,#b2b2ff,#b3b3ff,#b5b5ff,#b7b7ff,#b8b8ff,#bbbbff,#bdbdff,#bfbfff,#c1c1ff,#c4c4ff,#c6c6ff,#c8c8ff,#cacaff,#ccccff,#ceceff,#d0d0ff,#d1d1ff,#d2d2ff,#d3d3ff,#d4d4ff,#d4d4ff,#d4d4ff,#d4d4ff,#d3d3ff,#d2d2ff,#d1d1ff,#cfcfff,#cdcdff,#cbcbff,#c8c8ff,#c5c5ff,#c1c1ff,#bebeff,#babaff,#b6b6ff,#b1b1ff,#acacff,#a7a7ff,#a2a2ff,#9d9dff,#9898ff,#9292ff,#8d8dff,#8787ff,#8282ff,#7c7cff,#7777ff,#7171ff,#6c6cff,#6767ff,#6262ff,#5d5dff,#5858ff,#5454ff,#4f4fff,#4b4bff,#4646ff,#4242ff,#3e3eff,#3939ff,#3535ff,#3131ff,#2c2cff,#2727ff,#2323ff,#1e1eff,#1919ff,#1414ff,#0e0eff,#0808ff,#0202ff,#0403fb,#0a09f5,#110eee,#1814e7,#1f1ae0,#2620d9,#2e26d1,#352dca,#3d34c2,#453bba,#4e42b1,#5649a9,#5f50a0,#685897,#72608d,#7b6884,#85707a,#8f7970,#9a8265,#a58b5a,#b0944f,#bb9e44,#c7a838,#d4b22b,#e0bd1f,#eec811,#fbd404,#ffd500,#ffd200,#ffcf00,#ffcc00,#ffc900,#ffc600,#ffc300,#ffbf00,#ffbc00,#ffb900,#ffb500,#ffb200,#ffae00,#ffab00,#ffa700,#ffa200,#ff9700,#ff8d00,#ff8300,#ff7a00,#ff7100,#ff6900,#ff6100,#ff5b00,#ff5500,#ff5100,#ff4e00,#ff4c00,#ff4b00,#ff4c00,#ff4e00,#ff5100,#ff5700,#ff5d00,#ff6500,#ff6f00,#ff7a00,#ff8600,#ff9400,#ffa300,#ffa900,#ffaf00,#ffb400,#ffba00,#ffbf00,#ffc500,#ffcc00,#ffd200,#fbd304,#dbb924,#bc9f43)"></div>
<div class="m" style="top:84.545px;height:14.091px;background:linear-gradient(90deg,#b7b7ff,#b6b6ff,#b5b5ff,#b4b4ff,#b3b3ff,#b3b3ff,#b4b4ff,#b4b4ff,#b5b5ff,#b6b6ff,#b8b8ff,#b9b9ff,#bbbbff,#bdbdff,#bebeff,#c0c0ff,#c2c2ff,#c4c4ff,#c6c6ff,#c8c8ff,#c9c9ff,#cacaff,#ccccff,#cdcdff,#cdcdff,#ceceff,#ceceff,#ceceff,#cdcdff,#ccccff,#cbcbff,#c9c9ff,#c7c7ff,#c5c5ff,#c3c3ff,#c0c0ff,#bcbcff,#b8b8ff,#b4b4ff,#b0b0ff,#ababff,#a6a6ff,#a1a1ff,#9b9bff,#9595ff,#9090ff,#8989ff,#8383ff,#7d7dff,#7676ff,#7070ff,#6a6aff,#6464ff,#5d5dff,#5757ff,#5252ff,#4c4cff,#4747ff,#4141ff,#3c3cff,#3838ff,#3333ff,#2e2eff,#2a2aff,#2626ff,#2222ff,#1e1eff,#1a1aff,#1515ff,#1111ff,#0d0dff,#0909ff,#0404ff,#0101fe,#0605f9,#0b09f4,#110eee,#1713e8,#1d18e2,#231edc,#2a24d5,#312ace,#3930c6,#4136be,#493db6,#5144ae,#5a4ca5,#63539c,#6c5b93,#766389,#806c7f,#8a7475,#947d6b,#9f8660,#ab9054,#b69a49,#c2a43d,#ceae31,#dbb924,#e8c417,#f6cf09,#ffd600,#ffd300,#ffd000,#ffcd00,#ffca00,#ffc700,#ffc400,#ffc100,#ffbe00,#ffba00,#ffb700,#ffb300,#ffb000,#ffac00,#ffa900,#ffa500,#ff9b00,#ff9000,#ff8500,#ff7b00,#ff7000,#ff6700,#ff5d00,#ff5400,#ff4c00,#ff4500,#ff3e00,#ff3900,#ff3400,#ff3000,#ff2e00,#ff2d00,#ff2d00,#ff2e00,#ff3100,#ff3600,#ff3b00,#ff4300,#ff4c00,#ff5600,#ff6100,#ff6e00,#ff7d00,#ff8c00,#ff9d00,#ffa800,#ffad00,#ffb300,#ffb900,#ffc000,#ffc600,#ffcc00,#ffd300,#f5cf0a,#d5b42a)"></div>
<div class="m" style="top:91.591px;height:14.091px;background:linear-gradient(90deg,#bcbcff,#bbbbff,#babaff,#b9b9ff,#b8b8ff,#b8b8ff,#b8b8ff,#b8b8ff,#b9b9ff,#babaff,#bbbbff,#bcbcff,#bdbdff,#bebeff,#c0c0ff,#c1c1ff,#c2c2ff,#c4c4ff,#c5c5ff,#c6c6ff,#c7c7ff,#c8c8ff,#c8c8ff,#c9c9ff,#c9c9ff,#c9c9ff,#c8c8ff,#c7c7ff,#c6c6ff,#c5c5ff,#c3c3ff,#c1c1ff,#bebeff,#bcbcff,#b8b8ff,#b5b5ff,#b1b1ff,#acacff,#a8a8ff,#a3a3ff,#9d9dff,#9797ff,#9191ff,#8b8bff,#8484ff,#7e7eff,#7777ff,#7070ff,#6969ff,#6161ff,#5a5aff,#5353ff,#4c4cff,#4646ff,#3f3fff,#3939ff,#3333ff,#2d2dff,#2727ff,#2222ff,#1d1dff,#1818ff,#1414ff,#0f0fff,#0b0bff,#0707ff,#0303ff,#0101fe,#0504fa,#0907f6,#0d0bf2,#110eee,#1512ea,#1a16e5,#1f1ae0,#241edb,#2923d6,#2f28d0,#352dca,#3c33c3,#4339bc,#4b3fb4,#5245ad,#5b4ca4,#63549c,#6c5b93,#766389,#7f6b80,#8a7475,#947d6b,#9f8660,#aa9055,#b69949,#c2a43d,#ceae31,#dbb924,#e8c417,#f6cf09,#ffd600,#ffd300,#ffd000,#ffcd00,#ffca00,#ffc700,#ffc400,#ffc100,#ffbd00,#ffba00,#ffb600,#ffb300,#ffaf00,#ffac00,#ffa800,#ffa500,#ff9900,#ff8e00,#ff8200,#ff7700,#ff6d00,#ff6200,#ff5800,#ff4e00,#ff4500,#ff3d00,#ff3500,#ff2e00,#ff2700,#ff2200,#ff1d00,#ff1a00,#ff1700,#ff1600,#ff1600,#ff1700,#ff1900,#ff1d00,#ff2200,#ff2900,#ff3100,#ff3b00,#ff4500,#ff5200,#ff5f00,#ff6e00,#ff7e00,#ff8f00,#ffa100,#ffa900,#ffaf00,#ffb500,#ffbc00,#ffc200,#ffc900,#ffcf00,#ffd500,#e6c219)"></div>
<div class="m" style="top:98.636px;height:14.091px;background:linear-gradient(90deg,#c3c3ff,#c2c2ff,#c1c1ff,#c0c0ff,#bfbfff,#bfbfff,#bebeff,#bebeff,#bebeff,#bfbfff,#bfbfff,#c0c0ff,#c0c0ff,#c1c1ff,#c2c2ff,#c3c3ff,#c4c4ff,#c4c4ff,#c5c5ff,#c5c5ff,#c6c6ff,#c6c6ff,#c6c6ff,#c6c6ff,#c5c5ff,#c4c4ff,#c3c3ff,#c2c2ff,#c0c0ff,#bebeff,#bcbcff,#b9b9ff,#b6b6ff,#b3b3ff,#afafff,#ababff,#a7a7ff,#a2a2ff,#9c9cff,#9797ff,#9191ff,#8a8aff,#8484ff,#7d7dff,#7676ff,#6e6eff,#6767ff,#5f5fff,#5757ff,#4f4fff,#4848ff,#4040ff,#3939ff,#3131ff,#2a2aff,#2323ff,#1d1dff,#1717ff,#1111ff,#0b0bff,#0606ff,#0101ff,#0403fb,#0807f7,#0c0bf3,#100eef,#1411eb,#1814e7,#1c18e3,#201bdf,#241edb,#2822d7,#2c25d3,#3129ce,#362dc9,#3b31c4,#4036bf,#463bb9,#4c40b3,#5346ac,#5b4ca4,#62539d,#6a5a95,#73618c,#7c6983,#867179,#90796f,#9a8265,#a58b5a,#b0944f,#bc9e43,#c8a837,#d4b32b,#e1be1e,#efc910,#fcd503,#ffd500,#ffd200,#ffcf00,#ffcc00,#ffc900,#ffc600,#ffc200,#ffbf00,#ffbc00,#ffb800,#ffb500,#ffb100,#ffae00,#ffaa00,#ffa600,#ff9e00,#ff9200,#ff8600,#ff7b00,#ff7000,#ff6500,#ff5a00,#ff5000,#ff4600,#ff3c00,#ff3400,#ff2b00,#ff2400,#ff1d00,#ff1700,#ff1200,#ff0e00,#ff0a00,#ff0800,#ff0700,#ff0700,#ff0800,#ff0a00,#ff0e00,#ff1300,#ff1900,#ff2100,#ff2a00,#ff3400,#ff3f00,#ff4c00,#ff5a00,#ff6900,#ff7900,#ff8a00,#ff9d00,#ffa800,#ffae00,#ffb400,#ffba00,#ffc100,#ffc700,#ffce00,#ffd400,#edc812)"></div>
<div class="m" style="top:105.682px;height:14.091px;background:linear-gradient(90deg,#cbcbff,#cacaff,#c9c9ff,#c8c8ff,#c7c7ff,#c6c6ff,#c6c6ff,#c5c5ff,#c5c5ff,#c5c5ff,#c5c5ff,#c5c5ff,#c5c5ff,#c5c5ff,#c6c6ff,#c6c6ff,#c6c6ff,#c6c6ff,#c6c6ff,#c6c6ff,#c6c6ff,#c5c5ff,#c5c5ff,#c4c4ff,#c3c3ff,#c1c1ff,#c0c0ff,#bebeff,#bcbcff,#b9b9ff,#b7b7ff,#b4b4ff,#b0b0ff,#acacff,#a8a8ff,#a4a4ff,#9f9fff,#9a9aff,#9494ff,#8e8eff,#8787ff,#8181ff,#7a7aff,#7272ff,#6a6aff,#6363ff,#5b5bff,#5252ff,#4a4aff,#4242ff,#3a3aff,#3232ff,#2a2aff,#2222ff,#1b1bff,#1313ff,#0c0cff,#0606ff,#0100fe,#0605f9,#0c0af3,#110fee,#1613e9,#1b17e4,#1f1ae0,#231edc,#2721d8,#2b24d4,#2f28d0,#332bcc,#372ec8,#3b32c4,#4036bf,#443abb,#493eb6,#4e42b1,#5447ab,#5a4ca5,#61529e,#685797,#6f5e90,#776488,#806c7f,#897376,#927b6d,#9c8363,#a68c59,#b1954e,#bd9f42,#c8a937,#d5b32a,#e1be1e,#eec911,#fcd403,#ffd500,#ffd200,#ffcf00,#ffcc00,#ffc900,#ffc600,#ffc300,#ffc000,#ffbc00,#ffb900,#ffb500,#ffb200,#ffae00,#ffab00,#ffa700,#ff9f00,#ff9300,#ff8700,#ff7c00,#ff7000,#ff6500,#ff5a00,#ff4f00,#ff4500,#ff3b00,#ff3200,#ff2a00,#ff2200,#ff1b00,#ff1400,#ff0f00,#ff0a00,#ff0600,#ff0300,#ff0100,#ff0000,#ff0100,#ff0200,#ff0400,#ff0800,#ff0d00,#ff1300,#ff1a00,#ff2300,#ff2d00,#ff3800,#ff4400,#ff5100,#ff5f00,#ff6f00,#ff7f00,#ff9000,#ffa200,#ffaa00,#ffb000,#ffb600,#ffbc00,#ffc200,#ffc900,#ffcf00,#ffd500,#e9c416)"></div>
<div class="m" style="top:112.727px;height:14.091px;background:linear-gradient(90deg,#d4d4ff,#d2d2ff,#d1d1ff,#d0d0ff,#cfcfff,#ceceff,#cdcdff,#cdcdff,#ccccff,#ccccff,#ccccff,#cbcbff,#cbcbff,#cbcbff,#cacaff,#cacaff,#cacaff,#c9c9ff,#c8c8ff,#c8c8ff,#c7c7ff,#c6c6ff,#c5c5ff,#c3c3ff,#c2c2ff,#c0c0ff,#bebeff,#bcbcff,#b9b9ff,#b7b7ff,#b3b3ff,#b0b0ff,#acacff,#a8a8ff,#a4a4ff,#9f9fff,#9a9aff,#9595ff,#8f8fff,#8989ff,#8282ff,#7b7bff,#7474ff,#6c6cff,#6464ff,#5c5cff,#5454ff,#4c4cff,#4343ff,#3b3bff,#3232ff,#2a2aff,#2222ff,#1919ff,#1212ff,#0a0aff,#0303ff,#0404fb,#0b09f4,#110eee,#1713e8,#1d18e2,#221cdd,#2721d8,#2b25d4,#3028cf,#342ccb,#3930c6,#3d33c2,#4137be,#453aba,#4a3eb5,#4e42b1,#5346ac,#584ba7,#5e4fa1,#64549b,#6a5a95,#715f8e,#786587,#806c7f,#887377,#917a6e,#9a8265,#a48a5b,#ae9351,#b99c46,#c4a53b,#d0af2f,#dcb923,#e8c417,#f5cf0a,#ffd600,#ffd400,#ffd100,#ffce00,#ffcb00,#ffc800,#ffc500,#ffc200,#ffbf00,#ffbb00,#ffb800,#ffb400,#ffb100,#ffad00,#ffaa00,#ffa600,#ff9d00,#ff9100,#ff8500,#ff7900,#ff6e00,#ff6300,#ff5800,#ff4d00,#ff4300,#ff3a00,#ff3100,#ff2800,#ff2100,#ff1a00,#ff1400,#ff0e00,#ff0a00,#ff0700,#ff0400,#ff0300,#ff0200,#ff0300,#ff0500,#ff0700,#ff0b00,#ff1000,#ff1700,#ff1e00,#ff2600,#ff3000,#ff3b00,#ff4600,#ff5300,#ff6100,#ff6f00,#ff7f00,#ff8f00,#ffa000,#ffa900,#ffaf00,#ffb400,#ffba00,#ffc000,#ffc600,#ffcc00,#ffd200,#f8d107,#d9b726)"></div>
<div class="m" style="top:119.773px;height:14.091px;background:linear-gradient(90deg,#dcdcff,#dadaff,#d9d9ff,#d8d8ff,#d7d7ff,#d6d6ff,#d5d5ff,#d5d5ff,#d4d4ff,#d3d3ff,#d2d2ff,#d2d2ff,#d1d1ff,#d0d0ff,#d0d0ff,#cfcfff,#ceceff,#cdcdff,#ccccff,#cbcbff,#c9c9ff,#c8c8ff,#c6c6ff,#c5c5ff,#c3c3ff,#c1c1ff,#bebeff,#bcbcff,#b9b9ff,#b6b6ff,#b3b3ff,#afafff,#ababff,#a7a7ff,#a3a3ff,#9e9eff,#9999ff,#9494ff,#8e8eff,#8888ff,#8181ff,#7a7aff,#7373ff,#6b6bff,#6464ff,#5c5cff,#5353ff,#4b4bff,#4343ff,#3a3aff,#3131ff,#2929ff,#2121ff,#1818ff,#1010ff,#0808ff,#0101ff,#0605f9,#0d0bf2,#1411eb,#1a16e5,#201bdf,#2620d9,#2b25d4,#3129ce,#362dc9,#3a31c5,#3f35c0,#4439bb,#493db6,#4d41b2,#5245ad,#584aa7,#5d4ea2,#63539c,#695896,#6f5e90,#766389,#7d6982,#85707a,#8d7772,#957e6a,#9f8660,#a88e57,#b2964d,#bd9f42,#c7a838,#d3b22c,#debb21,#eac615,#f7d008,#ffd600,#ffd300,#ffd100,#ffce00,#ffcb00,#ffc800,#ffc500,#ffc200,#ffbf00,#ffbc00,#ffb900,#ffb500,#ffb200,#ffaf00,#ffab00,#ffa800,#ffa200,#ff9600,#ff8b00,#ff7f00,#ff7400,#ff6900,#ff5e00,#ff5400,#ff4a00,#ff4000,#ff3800,#ff2f00,#ff2800,#ff2100,#ff1b00,#ff1600,#ff1200,#ff0f00,#ff0d00,#ff0c00,#ff0c00,#ff0d00,#ff0f00,#ff1300,#ff1700,#ff1c00,#ff2300,#ff2a00,#ff3300,#ff3c00,#ff4700,#ff5200,#ff5f00,#ff6c00,#ff7a00,#ff8900,#ff9900,#ffa600,#ffab00,#ffb100,#ffb600,#ffbc00,#ffc100,#ffc700,#ffcd00,#ffd200,#f9d206,#dcb923,#bfa140)"></div>
<div class="m" style="top:126.818px;height:14.091px;background:linear-gradient(90deg,#e3e3ff,#e2e2ff,#e1e1ff,#e0e0ff,#dfdfff,#dedeff,#ddddff,#dcdcff,#dbdbff,#dadaff,#d9d9ff,#d8d8ff,#d7d7ff,#d6d6ff,#d5d5ff,#d4d4ff,#d3d3ff,#d2d2ff,#d0d0ff,#cfcfff,#cdcdff,#cbcbff,#c9c9ff,#c7c7ff,#c5c5ff,#c3c3ff,#c0c0ff,#bebeff,#bbbbff,#b8b8ff,#b5b5ff,#b1b1ff,#adadff,#a9a9ff,#a5a5ff,#a1a1ff,#9c9cff,#9696ff,#9191ff,#8b8bff,#8585ff,#7e7eff,#7777ff,#7070ff,#6868ff,#6161ff,#5959ff,#5151ff,#4848ff,#4040ff,#3838ff,#2f2fff,#2727ff,#1e1eff,#1616ff,#0e0eff,#0707ff,#0101fe,#0807f7,#0f0df0,#1613e9,#1d18e2,#231ddc,#2922d6,#2f27d0,#342ccb,#3a31c5,#3f35c0,#453aba,#4a3eb5,#5043af,#5548aa,#5b4da4,#61529e,#675798,#6e5d91,#75638a,#7d6982,#84707b,#8c7673,#957e6a,#9e8561,#a88d57,#b1964e,#bc9e43,#c6a739,#d1b02e,#dcba23,#e8c417,#f4ce0b,#ffd700,#ffd400,#ffd200,#ffcf00,#ffcc00,#ffca00,#ffc700,#ffc400,#ffc100,#ffbe00,#ffbb00,#ffb800,#ffb500,#ffb200,#ffae00,#ffab00,#ffa800,#ffa300,#ff9700,#ff8c00,#ff8200,#ff7700,#ff6c00,#ff6200,#ff5900,#ff4f00,#ff4700,#ff3f00,#ff3700,#ff3100,#ff2b00,#ff2600,#ff2300,#ff2000,#ff1e00,#ff1d00,#ff1e00,#ff1f00,#ff2100,#ff2500,#ff2a00,#ff2f00,#ff3600,#ff3e00,#ff4700,#ff5000,#ff5b00,#ff6600,#ff7300,#ff8000,#ff8d00,#ff9c00,#ffa700,#ffab00,#ffb000,#ffb500,#ffbb00,#ffc000,#ffc500,#ffca00,#ffd000,#ffd500,#edc812,#d2b12d,#b69a49,#9c8363)"></div>
<div class="m" style="top:133.864px;height:14.091px;background:linear-gradient(90deg,#eaeaff,#e9e9ff,#e8e8ff,#e7e7ff,#e6e6ff,#e5e5ff,#e4e4ff,#e3e3ff,#e2e2ff,#e1e1ff,#e0e0ff,#dfdfff,#dedeff,#dcdcff,#dbdbff,#dadaff,#d8d8ff,#d7d7ff,#d5d5ff,#d3d3ff,#d2d2ff,#d0d0ff,#ceceff,#ccccff,#c9c9ff,#c7c7ff,#c5c5ff,#c2c2ff,#bfbfff,#bcbcff,#b9b9ff,#b6b6ff,#b2b2ff,#aeaeff,#aaaaff,#a6a6ff,#a2a2ff,#9d9dff,#9898ff,#9292ff,#8c8cff,#8686ff,#8080ff,#7979ff,#7272ff,#6b6bff,#6363ff,#5c5cff,#5454ff,#4c4cff,#4444ff,#3b3bff,#3333ff,#2b2bff,#2323ff,#1b1bff,#1313ff,#0b0bff,#0404ff,#0403fb,#0b09f4,#120fed,#1915e6,#1f1ae0,#2620d9,#2c25d3,#332bcc,#3930c6,#3f35c0,#453bba,#4c40b3,#5245ad,#594ba6,#60519f,#675798,#6f5d90,#766489,#7f6b80,#877278,#90796f,#998166,#a2895d,#ac9153,#b69a49,#c1a33e,#ccac33,#d7b528,#e2be1d,#edc812,#f9d206,#ffd600,#ffd300,#ffd100,#ffce00,#ffcc00,#ffc900,#ffc700,#ffc400,#ffc100,#ffbe00,#ffbb00,#ffb900,#ffb600,#ffb300,#ffaf00,#ffac00,#ffa900,#ffa600,#ff9e00,#ff9400,#ff8a00,#ff8000,#ff7600,#ff6d00,#ff6400,#ff5c00,#ff5400,#ff4d00,#ff4700,#ff4200,#ff3d00,#ff3900,#ff3700,#ff3500,#ff3400,#ff3500,#ff3700,#ff3900,#ff3d00,#ff4200,#ff4800,#ff4f00,#ff5700,#ff6000,#ff6a00,#ff7500,#ff8000,#ff8c00,#ff9900,#ffa600,#ffaa00,#ffae00,#ffb300,#ffb700,#ffbc00,#ffc100,#ffc600,#ffcb00,#ffd000,#ffd500,#efca10,#d6b429,#bc9f43,#a38a5c,#8b7574,#72608d)"></div>
<div class="m" style="top:140.909px;height:14.091px;background:linear-gradient(90deg,#efefff,#eeeeff,#ededff,#ececff,#ececff,#ebebff,#eaeaff,#e9e9ff,#e8e8ff,#e7e7ff,#e6e6ff,#e5e5ff,#e3e3ff,#e2e2ff,#e1e1ff,#dfdfff,#dedeff,#dcdcff,#dbdbff,#d9d9ff,#d7d7ff,#d5d5ff,#d3d3ff,#d1d1ff,#cfcfff,#cdcdff,#cacaff,#c8c8ff,#c5c5ff,#c2c2ff,#c0c0ff,#bdbdff,#b9b9ff,#b6b6ff,#b2b2ff,#afafff,#ababff,#a6a6ff,#a2a2ff,#9d9dff,#9898ff,#9292ff,#8c8cff,#8686ff,#8080ff,#7979ff,#7272ff,#6b6bff,#6464ff,#5c5cff,#5454ff,#4c4cff,#4444ff,#3c3cff,#3535ff,#2d2dff,#2525ff,#1d1dff,#1515ff,#0d0dff,#0606ff,#0202fd,#0908f6,#100eef,#1814e7,#1f1ae0,#2620d9,#2d26d2,#342ccb,#3c32c3,#4338bc,#4b3fb4,#5245ad,#5a4ca5,#62539d,#6b5a94,#73618c,#7c6983,#85707a,#8f7870,#998166,#a3895c,#ad9252,#b79b48,#c2a43d,#cdad32,#d8b627,#e4c01b,#efc910,#fbd304,#ffd600,#ffd300,#ffd100,#ffcf00,#ffcc00,#ffca00,#ffc700,#ffc500,#ffc200,#ffc000,#ffbd00,#ffba00,#ffb700,#ffb500,#ffb200,#ffaf00,#ffac00,#ffa900,#ffa600,#ffa000,#ff9700,#ff8e00,#ff8600,#ff7d00,#ff7500,#ff6e00,#ff6700,#ff6100,#ff5c00,#ff5800,#ff5400,#ff5200,#ff5000,#ff5000,#ff5100,#ff5300,#ff5500,#ff5900,#ff5e00,#ff6500,#ff6c00,#ff7400,#ff7d00,#ff8700,#ff9200,#ff9d00,#ffa600,#ffaa00,#ffae00,#ffb300,#ffb700,#ffbb00,#ffc000,#ffc400,#ffc900,#ffce00,#ffd300,#fed601,#e6c219,#ceae31,#b69a49,#9f8660,#887377,#715f8e,#5b4da4,#453aba)"></div>
<div class="m" style="top:147.955px;height:14.091px;background:linear-gradient(90deg,#f3f3ff,#f3f3ff,#f2f2ff,#f1f1ff,#f0f0ff,#f0f0ff,#efefff,#eeeeff,#ededff,#ececff,#ebebff,#eaeaff,#e9e9ff,#e7e7ff,#e6e6ff,#e5e5ff,#e3e3ff,#e2e2ff,#e0e0ff,#dfdfff,#ddddff,#dbdbff,#d9d9ff,#d7d7ff,#d5d5ff,#d3d3ff,#d1d1ff,#cfcfff,#ccccff,#cacaff,#c8c8ff,#c5c5ff,#c2c2ff,#bfbfff,#bcbcff,#b9b9ff,#b5b5ff,#b2b2ff,#aeaeff,#a9a9ff,#a5a5ff,#a0a0ff,#9b9bff,#9595ff,#9090ff,#8a8aff,#8383ff,#7d7dff,#7676ff,#6f6fff,#6868ff,#6060ff,#5959ff,#5151ff,#4a4aff,#4242ff,#3a3aff,#3232ff,#2a2aff,#2222ff,#1a1aff,#1212ff,#0a0aff,#0202ff,#0505fa,#0d0bf2,#1512ea,#1d19e2,#2520da,#2e27d1,#362ec9,#3f35c0,#473cb8,#5044af,#594ba6,#63539c,#6c5b93,#766389,#806c7f,#8a7475,#957d6a,#9f8660,#aa8f55,#b5984a,#c0a23f,#cbab34,#d6b529,#e2be1d,#edc812,#f8d107,#ffd600,#ffd400,#ffd200,#ffcf00,#ffcd00,#ffcb00,#ffc800,#ffc600,#ffc400,#ffc100,#ffbf00,#ffbc00,#ffba00,#ffb700,#ffb500,#ffb200,#ffb000,#ffad00,#ffab00,#ffa800,#ffa600,#ff9f00,#ff9800,#ff9000,#ff8a00,#ff8300,#ff7e00,#ff7900,#ff7500,#ff7200,#ff6f00,#ff6e00,#ff6e00,#ff6f00,#ff7100,#ff7400,#ff7800,#ff7d00,#ff8300,#ff8a00,#ff9200,#ff9c00,#ffa500,#ffa800,#ffac00,#ffb000,#ffb400,#ffb800,#ffbc00,#ffc000,#ffc400,#ffc900,#ffcd00,#ffd200,#ffd600,#ecc713,#d5b42a,#bfa140,#a98e56,#937c6c,#7d6982,#685797,#5346ac,#3f35c0,#2b24d4,#1814e7)"></div>
<div class="m" style="top:155.000px;height:14.091px;background:linear-gradient(90deg,#f7f7ff,#f6f6ff,#f6f6ff,#f5f5ff,#f4f4ff,#f4f4ff,#f3f3ff,#f2f2ff,#f1f1ff,#f0f0ff,#efefff,#eeeeff,#ededff,#ececff,#ebebff,#eaeaff,#e8e8ff,#e7e7ff,#e6e6ff,#e4e4ff,#e3e3ff,#e1e1ff,#dfdfff,#dedeff,#dcdcff,#dadaff,#d8d8ff,#d6d6ff,#d4d4ff,#d2d2ff,#d0d0ff,#ceceff,#ccccff,#c9c9ff,#c7c7ff,#c4c4ff,#c1c1ff,#bebeff,#babaff,#b7b7ff,#b3b3ff,#afafff,#aaaaff,#a6a6ff,#a1a1ff,#9b9bff,#9696ff,#9090ff,#8a8aff,#8383ff,#7d7dff,#7676ff,#6f6fff,#6767ff,#6060ff,#5858ff,#5151ff,#4949ff,#4141ff,#3939ff,#3131ff,#2929ff,#2020ff,#1818ff,#0f0fff,#0707ff,#0202fd,#0b09f4,#1410eb,#1d18e2,#2620d9,#2f28d0,#3930c6,#4338bc,#4d41b2,#5749a8,#61529e,#6c5b93,#776488,#826d7d,#8d7772,#988067,#a38a5c,#ae9351,#ba9d45,#c5a63a,#d1b02e,#dcba23,#e7c318,#f3cd0c,#fed601,#ffd500,#ffd300,#ffd100,#ffcf00,#ffcc00,#ffca00,#ffc800,#ffc600,#ffc400,#ffc100,#ffbf00,#ffbd00,#ffbb00,#ffb800,#ffb600,#ffb400,#ffb200,#ffaf00,#ffad00,#ffab00,#ffa900,#ffa700,#ffa500,#ff9f00,#ff9a00,#ff9600,#ff9200,#ff8f00,#ff8d00,#ff8c00,#ff8c00,#ff8d00,#ff8f00,#ff9200,#ff9600,#ff9b00,#ffa100,#ffa600,#ffa900,#ffab00,#ffae00,#ffb200,#ffb500,#ffb900,#ffbd00,#ffc100,#ffc500,#ffc900,#ffcd00,#ffd200,#ffd600,#efc910,#d8b727,#c3a43c,#ad9252,#988067,#836e7c,#6e5d91,#5a4ca5,#463bb9,#332bcc,#201bdf,#0e0cf1,#0303ff,#1414ff)"></div>
<div class="m" style="top:162.045px;height:14.091px;background:linear-gradient(90deg,#f9f9ff,#f9f9ff,#f8f8ff,#f8f8ff,#f7f7ff,#f7f7ff,#f6f6ff,#f6f6ff,#f5f5ff,#f4f4ff,#f3f3ff,#f2f2ff,#f1f1ff,#f0f0ff,#efefff,#eeeeff,#ededff,#ececff,#ebebff,#e9e9ff,#e8e8ff,#e7e7ff,#e5e5ff,#e4e4ff,#e2e2ff,#e1e1ff,#dfdfff,#dedeff,#dcdcff,#dadaff,#d9d9ff,#d7d7ff,#d5d5ff,#d3d3ff,#d1d1ff,#cfcfff,#ccccff,#cacaff,#c7c7ff,#c4c4ff,#c1c1ff,#bdbdff,#b9b9ff,#b5b5ff,#b1b1ff,#acacff,#a8a8ff,#a2a2ff,#9d9dff,#9797ff,#9191ff,#8b8bff,#8484ff,#7d7dff,#7676ff,#6f6fff,#6868ff,#6060ff,#5858ff,#5050ff,#4848ff,#4040ff,#3737ff,#2e2eff,#2626ff,#1d1dff,#1313ff,#0a0aff,#0000ff,#0908f6,#1310ec,#1d19e2,#2821d7,#322acd,#3d33c2,#483db7,#5346ac,#5e50a1,#6a5995,#75638a,#816d7e,#8d7772,#988067,#a48a5b,#b0944f,#bb9e44,#c7a838,#d3b22c,#debb21,#e9c516,#f4ce0b,#ffd700,#ffd500,#ffd300,#ffd100,#ffcf00,#ffcc00,#ffca00,#ffc800,#ffc600,#ffc400,#ffc200,#ffc000,#ffbe00,#ffbc00,#ffba00,#ffb800,#ffb600,#ffb400,#ffb200,#ffb000,#ffae00,#ffad00,#ffab00,#ffaa00,#ffa900,#ffa800,#ffa700,#ffa600,#ffa600,#ffa600,#ffa600,#ffa700,#ffa800,#ffa900,#ffab00,#ffad00,#ffaf00,#ffb100,#ffb400,#ffb700,#ffba00,#ffbe00,#ffc100,#ffc500,#ffc900,#ffcd00,#ffd100,#ffd500,#f2cc0d,#dcba23,#c7a838,#b1964e,#9c8463,#877278,#73618c,#5f50a0,#4c40b3,#3930c6,#2620d9,#1511ea,#0403fb,#0d0dff,#1d1dff,#2c2cff,#3b3bff)"></div>
<div class="m" style="top:169.091px;height:14.091px;background:linear-gradient(90deg,#fbfbff,#fbfbff,#fafaff,#fafaff,#fafaff,#f9f9ff,#f9f9ff,#f8f8ff,#f7f7ff,#f7f7ff,#f6f6ff,#f5f5ff,#f5f5ff,#f4f4ff,#f3f3ff,#f2f2ff,#f1f1ff,#f0f0ff,#efefff,#eeeeff,#ededff,#ececff,#ebebff,#e9e9ff,#e8e8ff,#e7e7ff,#e6e6ff,#e4e4ff,#e3e3ff,#e2e2ff,#e0e0ff,#dfdfff,#ddddff,#dcdcff,#dadaff,#d8d8ff,#d6d6ff,#d4d4ff,#d2d2ff,#d0d0ff,#cdcdff,#cacaff,#c7c7ff,#c4c4ff,#c0c0ff,#bcbcff,#b8b8ff,#b3b3ff,#afafff,#a9a9ff,#a4a4ff,#9e9eff,#9898ff,#9292ff,#8c8cff,#8585ff,#7e7eff,#7676ff,#6f6fff,#6767ff,#5f5fff,#5656ff,#4e4eff,#4545ff,#3c3cff,#3333ff,#2929ff,#2020ff,#1616ff,#0c0cff,#0101ff,#0908f6,#1411eb,#1f1ae0,#2b24d4,#362dc9,#4237bd,#4d41b2,#594ba6,#65559a,#715f8e,#7d6a82,#897476,#957e6a,#a1885e,#ad9252,#b99c46,#c5a63a,#d0af2f,#dbb924,#e7c218,#f2cc0d,#fcd503,#ffd500,#ffd300,#ffd100,#ffcf00,#ffcd00,#ffcb00,#ffc900,#ffc700,#ffc600,#ffc400,#ffc200,#ffc000,#ffbe00,#ffbc00,#ffba00,#ffb900,#ffb700,#ffb500,#ffb400,#ffb200,#ffb100,#ffb000,#ffaf00,#ffaf00,#ffae00,#ffae00,#ffae00,#ffae00,#ffaf00,#ffb000,#ffb100,#ffb300,#ffb500,#ffb700,#ffb900,#ffbc00,#ffbf00,#ffc200,#ffc500,#ffc900,#ffcc00,#ffd000,#ffd400,#f8d107,#e4c01b,#cfae30,#b99c46,#a58b5a,#90796f,#7b6884,#675798,#5447ab,#4137be,#2e27d1,#1c18e3,#0b09f4,#0606ff,#1616ff,#2525ff,#3434ff,#4242ff,#4f4fff,#5c5cff)"></div>
<div class="m" style="top:176.136px;height:14.091px;background:linear-gradient(90deg,#fcfcff,#fcfcff,#fcfcff,#fcfcff,#fbfbff,#fbfbff,#fafaff,#fafaff,#f9f9ff,#f9f9ff,#f8f8ff,#f8f8ff,#f7f7ff,#f6f6ff,#f6f6ff,#f5f5ff,#f4f4ff,#f3f3ff,#f2f2ff,#f2f2ff,#f1f1ff,#f0f0ff,#efefff,#eeeeff,#ededff,#ececff,#ebebff,#eaeaff,#e9e9ff,#e8e8ff,#e7e7ff,#e6e6ff,#e5e5ff,#e3e3ff,#e2e2ff,#e1e1ff,#dfdfff,#ddddff,#dcdcff,#dadaff,#d8d8ff,#d5d5ff,#d3d3ff,#d0d0ff,#cdcdff,#cacaff,#c6c6ff,#c2c2ff,#bebeff,#b9b9ff,#b5b5ff,#b0b0ff,#aaaaff,#a4a4ff,#9e9eff,#9898ff,#9191ff,#8a8aff,#8383ff,#7c7cff,#7474ff,#6c6cff,#6363ff,#5b5bff,#5252ff,#4949ff,#3f3fff,#3636ff,#2c2cff,#2121ff,#1717ff,#0c0cff,#0101ff,#0a09f5,#1612e9,#211cde,#2d26d2,#3930c6,#453aba,#5144ae,#5d4fa2,#695996,#766389,#826e7d,#8e7871,#9a8265,#a68c59,#b2964d,#bda042,#c9a936,#d4b32b,#dfbc20,#eac515,#f5cf0a,#ffd700,#ffd500,#ffd300,#ffd100,#ffcf00,#ffcd00,#ffcb00,#ffc900,#ffc700,#ffc600,#ffc400,#ffc200,#ffc000,#ffbf00,#ffbd00,#ffbc00,#ffba00,#ffb900,#ffb800,#ffb700,#ffb600,#ffb500,#ffb500,#ffb500,#ffb500,#ffb500,#ffb600,#ffb700,#ffb800,#ffba00,#ffbb00,#ffbe00,#ffc000,#ffc200,#ffc500,#ffc800,#ffcc00,#ffcf00,#ffd300,#ffd600,#efc910,#dbb824,#c6a739,#b2964d,#9e8561,#897476,#75638a,#61529e,#4e42b1,#3b32c4,#2922d6,#1713e8,#0605f9,#0b0bff,#1a1aff,#2929ff,#3838ff,#4545ff,#5252ff,#5f5fff,#6a6aff,#7676ff)"></div>
<div class="m" style="top:183.182px;height:14.091px;background:linear-gradient(90deg,#fdfdff,#fdfdff,#fdfdff,#fdfdff,#fcfcff,#fcfcff,#fcfcff,#fbfbff,#fbfbff,#fafaff,#fafaff,#f9f9ff,#f9f9ff,#f8f8ff,#f8f8ff,#f7f7ff,#f6f6ff,#f6f6ff,#f5f5ff,#f4f4ff,#f3f3ff,#f3f3ff,#f2f2ff,#f1f1ff,#f0f0ff,#efefff,#efefff,#eeeeff,#ededff,#ececff,#ebebff,#ebebff,#eaeaff,#e9e9ff,#e8e8ff,#e7e7ff,#e5e5ff,#e4e4ff,#e3e3ff,#e1e1ff,#e0e0ff,#dedeff,#dcdcff,#dadaff,#d7d7ff,#d4d4ff,#d1d1ff,#ceceff,#cacaff,#c7c7ff,#c2c2ff,#bebeff,#b9b9ff,#b4b4ff,#afafff,#a9a9ff,#a3a3ff,#9c9cff,#9696ff,#8f8fff,#8787ff,#8080ff,#7878ff,#6f6fff,#6767ff,#5e5eff,#5555ff,#4b4bff,#4141ff,#3737ff,#2d2dff,#2323ff,#1818ff,#0d0dff,#0101ff,#0a08f5,#1612e9,#221cdd,#2d26d2,#3a30c5,#463bb9,#5245ad,#5e4fa1,#6a5a95,#766489,#826e7d,#8e7871,#9a8265,#a68c59,#b2964d,#bd9f42,#c8a937,#d3b22c,#debb21,#e9c516,#f4cd0b,#fed601,#ffd500,#ffd300,#ffd100,#ffcf00,#ffcd00,#ffcc00,#ffca00,#ffc800,#ffc600,#ffc500,#ffc300,#ffc200,#ffc000,#ffbf00,#ffbe00,#ffbd00,#ffbc00,#ffbc00,#ffbb00,#ffbb00,#ffbb00,#ffbc00,#ffbc00,#ffbd00,#ffbe00,#ffc000,#ffc100,#ffc300,#ffc600,#ffc800,#ffcb00,#ffce00,#ffd100,#ffd400,#fcd503,#eac515,#d7b528,#c4a53b,#b0954f,#9c8463,#897376,#75638a,#62529d,#4f42b0,#3c33c3,#2a23d5,#1814e7,#0706f8,#0909ff,#1919ff,#2828ff,#3737ff,#4444ff,#5151ff,#5e5eff,#6969ff,#7474ff,#7f7fff,#8888ff)"></div>
<div class="m" style="top:190.227px;height:14.091px;background:linear-gradient(90deg,#fefeff,#fdfdff,#fdfdff,#fdfdff,#fdfdff,#fdfdff,#fcfcff,#fcfcff,#fcfcff,#fbfbff,#fbfbff,#fafaff,#fafaff,#f9f9ff,#f9f9ff,#f8f8ff,#f7f7ff,#f7f7ff,#f6f6ff,#f5f5ff,#f5f5ff,#f4f4ff,#f3f3ff,#f3f3ff,#f2f2ff,#f1f1ff,#f1f1ff,#f0f0ff,#efefff,#efefff,#eeeeff,#ededff,#ededff,#ececff,#ebebff,#eaeaff,#eaeaff,#e9e9ff,#e8e8ff,#e6e6ff,#e5e5ff,#e4e4ff,#e2e2ff,#e0e0ff,#dedeff,#dcdcff,#dadaff,#d7d7ff,#d4d4ff,#d1d1ff,#cdcdff,#cacaff,#c5c5ff,#c1c1ff,#bcbcff,#b7b7ff,#b2b2ff,#acacff,#a6a6ff,#9f9fff,#9898ff,#9191ff,#8a8aff,#8282ff,#7a7aff,#7272ff,#6969ff,#6060ff,#5757ff,#4d4dff,#4343ff,#3939ff,#2f2fff,#2424ff,#1a1aff,#0f0fff,#0303ff,#0807f7,#1411eb,#1f1ae0,#2b24d4,#372ec8,#4338bc,#4f43b0,#5b4da4,#675798,#73618c,#7f6b80,#8a7575,#967e69,#a2885d,#ad9252,#b89b47,#c3a53c,#cfae30,#d9b726,#e4c01b,#efc910,#f9d206,#ffd600,#ffd400,#ffd200,#ffd000,#ffce00,#ffcd00,#ffcb00,#ffc900,#ffc800,#ffc600,#ffc500,#ffc400,#ffc300,#ffc200,#ffc100,#ffc100,#ffc100,#ffc100,#ffc100,#ffc200,#ffc200,#ffc300,#ffc500,#ffc600,#ffc800,#ffca00,#ffcd00,#ffcf00,#ffd200,#ffd500,#fad305,#e9c416,#d7b628,#c5a73a,#b3974c,#a0875f,#8e7771,#7b6784,#685897,#5548aa,#4338bc,#3129ce,#1f1ae0,#0e0cf1,#0202ff,#1212ff,#2121ff,#3030ff,#3e3eff,#4b4bff,#5757ff,#6363ff,#6e6eff,#7979ff,#8282ff,#8c8cff,#9494ff)"></div>
<div class="m" style="top:197.273px;height:14.091px;background:linear-gradient(90deg,#fefeff,#fefeff,#fdfdff,#fdfdff,#fdfdff,#fdfdff,#fcfcff,#fcfcff,#fcfcff,#fbfbff,#fbfbff,#fafaff,#fafaff,#f9f9ff,#f9f9ff,#f8f8ff,#f7f7ff,#f7f7ff,#f6f6ff,#f5f5ff,#f5f5ff,#f4f4ff,#f3f3ff,#f3f3ff,#f2f2ff,#f1f1ff,#f1f1ff,#f0f0ff,#f0f0ff,#efefff,#eeeeff,#eeeeff,#ededff,#ededff,#ececff,#ececff,#ebebff,#eaeaff,#eaeaff,#e9e9ff,#e8e8ff,#e7e7ff,#e6e6ff,#e4e4ff,#e3e3ff,#e1e1ff,#dfdfff,#ddddff,#dbdbff,#d8d8ff,#d5d5ff,#d2d2ff,#cfcfff,#cbcbff,#c7c7ff,#c2c2ff,#bdbdff,#b8b8ff,#b3b3ff,#adadff,#a7a7ff,#a1a1ff,#9a9aff,#9393ff,#8b8bff,#8484ff,#7c7cff,#7373ff,#6b6bff,#6262ff,#5959ff,#4f4fff,#4646ff,#3c3cff,#3232ff,#2727ff,#1d1dff,#1212ff,#0707ff,#0403fb,#0f0df0,#1b16e4,#2620d9,#322acd,#3d34c2,#493db6,#5447ab,#60519f,#6c5b93,#776588,#836e7c,#8f7870,#9a8265,#a58b5a,#b1954e,#bc9e43,#c7a838,#d2b12d,#ddba22,#e8c317,#f2cc0d,#fdd502,#ffd600,#ffd400,#ffd200,#ffd000,#ffce00,#ffcd00,#ffcb00,#ffca00,#ffc900,#ffc800,#ffc700,#ffc700,#ffc600,#ffc600,#ffc600,#ffc700,#ffc700,#ffc800,#ffc900,#ffcb00,#ffcd00,#ffce00,#ffd100,#ffd300,#ffd500,#f9d206,#eac515,#dab825,#caaa35,#b99c46,#a88d57,#967e69,#846f7b,#72608d,#60519f,#4e42b1,#3d33c2,#2c25d3,#1b17e4,#0b09f4,#0505ff,#1414ff,#2323ff,#3131ff,#3e3eff,#4b4bff,#5757ff,#6363ff,#6d6dff,#7878ff,#8181ff,#8a8aff,#9393ff,#9b9bff)"></div>
<div class="m" style="top:204.318px;height:14.091px;background:linear-gradient(90deg,#fefeff,#fefeff,#fdfdff,#fdfdff,#fdfdff,#fdfdff,#fcfcff,#fcfcff,#fbfbff,#fbfbff,#fafaff,#fafaff,#f9f9ff,#f9f9ff,#f8f8ff,#f7f7ff,#f6f6ff,#f6f6ff,#f5f5ff,#f4f4ff,#f3f3ff,#f3f3ff,#f2f2ff,#f1f1ff,#f0f0ff,#f0f0ff,#efefff,#eeeeff,#eeeeff,#ededff,#ededff,#ececff,#ececff,#ebebff,#ebebff,#eaeaff,#eaeaff,#eaeaff,#e9e9ff,#e9e9ff,#e8e8ff,#e7e7ff,#e7e7ff,#e6e6ff,#e5e5ff,#e4e4ff,#e2e2ff,#e1e1ff,#dfdfff,#ddddff,#dadaff,#d8d8ff,#d5d5ff,#d2d2ff,#ceceff,#cacaff,#c6c6ff,#c2c2ff,#bdbdff,#b8b8ff,#b3b3ff,#adadff,#a7a7ff,#a1a1ff,#9a9aff,#9393ff,#8c8cff,#8484ff,#7d7dff,#7575ff,#6c6cff,#6464ff,#5b5bff,#5252ff,#4848ff,#3f3fff,#3535ff,#2b2bff,#2121ff,#1717ff,#0c0cff,#0101ff,#0908f6,#1411eb,#1f1ae0,#2b24d4,#362dc9,#4137be,#4c40b3,#584aa7,#63549c,#6f5d90,#7a6785,#867179,#917a6e,#9d8462,#a88e57,#b3974c,#bea141,#c9aa36,#d4b32b,#dfbc20,#e9c516,#f3cd0c,#fdd502,#ffd600,#ffd400,#ffd200,#ffd100,#ffd000,#ffcf00,#ffce00,#ffcd00,#ffcc00,#ffcc00,#ffcc00,#ffcc00,#ffcd00,#ffcd00,#ffce00,#ffcf00,#ffd100,#ffd200,#ffd400,#ffd600,#f7d008,#eac515,#ddba22,#ceae31,#bfa140,#b0944f,#a0875f,#8f7970,#7e6b81,#6e5c91,#5d4ea2,#4c40b3,#3c32c3,#2b25d4,#1b17e4,#0c0af3,#0303ff,#1212ff,#2020ff,#2e2eff,#3b3bff,#4747ff,#5353ff,#5e5eff,#6868ff,#7272ff,#7c7cff,#8585ff,#8d8dff,#9595ff,#9d9dff)"></div>
<div class="m" style="top:211.364px;height:14.091px;background:linear-gradient(90deg,#fefeff,#fdfdff,#fdfdff,#fdfdff,#fcfcff,#fcfcff,#fcfcff,#fbfbff,#fbfbff,#fafaff,#f9f9ff,#f9f9ff,#f8f8ff,#f7f7ff,#f6f6ff,#f5f5ff,#f4f4ff,#f4f4ff,#f3f3ff,#f2f2ff,#f1f1ff,#f0f0ff,#efefff,#eeeeff,#ededff,#ececff,#ebebff,#eaeaff,#eaeaff,#e9e9ff,#e9e9ff,#e8e8ff,#e8e8ff,#e7e7ff,#e7e7ff,#e7e7ff,#e6e6ff,#e6e6ff,#e6e6ff,#e6e6ff,#e6e6ff,#e5e5ff,#e5e5ff,#e4e4ff,#e4e4ff,#e3e3ff,#e2e2ff,#e1e1ff,#e0e0ff,#dedeff,#ddddff,#dbdbff,#d8d8ff,#d6d6ff,#d3d3ff,#d0d0ff,#ccccff,#c9c9ff,#c4c4ff,#c0c0ff,#bbbbff,#b6b6ff,#b1b1ff,#ababff,#a5a5ff,#9f9fff,#9999ff,#9292ff,#8b8bff,#8484ff,#7c7cff,#7474ff,#6c6cff,#6464ff,#5c5cff,#5353ff,#4a4aff,#4141ff,#3838ff,#2e2eff,#2525ff,#1b1bff,#1111ff,#0707ff,#0403fb,#0e0cf1,#1915e6,#231edc,#2e27d1,#3930c6,#443abb,#5043af,#5b4da4,#665699,#72608d,#7d6982,#887377,#947d6b,#9f8660,#aa8f55,#b5994a,#c0a23f,#caab35,#d5b32a,#debb21,#e7c318,#f0ca0f,#f8d107,#ffd700,#ffd600,#ffd500,#ffd400,#ffd300,#ffd200,#ffd200,#ffd200,#ffd200,#ffd200,#ffd300,#ffd400,#ffd500,#ffd600,#fad305,#f1cb0e,#e7c318,#dcb923,#d0af2f,#c3a43c,#b69949,#a88d57,#998166,#8a7475,#7b6884,#6b5b94,#5c4ea3,#4c40b3,#3d33c2,#2e27d1,#1f1ae0,#100def,#0201fd,#0c0cff,#1a1aff,#2727ff,#3333ff,#3f3fff,#4b4bff,#5555ff,#6060ff,#6a6aff,#7373ff,#7c7cff,#8585ff,#8d8dff,#9494ff,#9c9cff)"></div>
<div class="m" style="top:218.409px;height:14.091px;background:linear-gradient(90deg,#fdfdff,#fdfdff,#fdfdff,#fcfcff,#fcfcff,#fbfbff,#fbfbff,#fafaff,#f9f9ff,#f9f9ff,#f8f8ff,#f7f7ff,#f6f6ff,#f5f5ff,#f4f4ff,#f3f3ff,#f2f2ff,#f0f0ff,#efefff,#eeeeff,#ededff,#ebebff,#eaeaff,#e9e9ff,#e8e8ff,#e7e7ff,#e6e6ff,#e5e5ff,#e4e4ff,#e3e3ff,#e2e2ff,#e2e2ff,#e1e1ff,#e1e1ff,#e1e1ff,#e1e1ff,#e1e1ff,#e1e1ff,#e1e1ff,#e1e1ff,#e1e1ff,#e1e1ff,#e1e1ff,#e1e1ff,#e0e0ff,#e0e0ff,#e0e0ff,#dfdfff,#dedeff,#ddddff,#dcdcff,#dbdbff,#d9d9ff,#d7d7ff,#d5d5ff,#d2d2ff,#cfcfff,#ccccff,#c8c8ff,#c4c4ff,#c0c0ff,#bcbcff,#b7b7ff,#b2b2ff,#adadff,#a7a7ff,#a1a1ff,#9b9bff,#9595ff,#8e8eff,#8787ff,#8080ff,#7979ff,#7272ff,#6a6aff,#6262ff,#5a5aff,#5252ff,#4a4aff,#4141ff,#3838ff,#2f2fff,#2626ff,#1d1dff,#1414ff,#0a0aff,#0000ff,#0a08f5,#1411eb,#1e1ae1,#2922d6,#332bcc,#3e34c1,#493eb6,#5447ab,#5f50a0,#6a5995,#75638a,#806c7f,#8b7574,#967e69,#a1875e,#ab9054,#b5984a,#bea141,#c8a837,#d0b02f,#d8b627,#dfbc20,#e6c219,#ecc713,#f0cb0f,#f4ce0b,#f7d008,#f8d107,#f9d206,#f8d107,#f7d008,#f4ce0b,#f0ca0f,#ebc614,#e5c11a,#ddbb22,#d5b42a,#ccac33,#c2a33d,#b79a48,#ab9054,#9f8660,#927b6d,#85707a,#776588,#695996,#5b4da4,#4d41b2,#3f35c0,#3129ce,#231edc,#1512ea,#0807f7,#0505ff,#1212ff,#1e1eff,#2a2aff,#3636ff,#4141ff,#4b4bff,#5656ff,#5f5fff,#6969ff,#7272ff,#7a7aff,#8282ff,#8a8aff,#9292ff,#9999ff)"></div>
<div class="m" style="top:225.455px;height:14.091px;background:linear-gradient(90deg,#fdfdff,#fdfdff,#fcfcff,#fcfcff,#fbfbff,#fafaff,#fafaff,#f9f9ff,#f8f8ff,#f7f7ff,#f6f6ff,#f5f5ff,#f4f4ff,#f2f2ff,#f1f1ff,#efefff,#eeeeff,#ececff,#ebebff,#e9e9ff,#e8e8ff,#e6e6ff,#e4e4ff,#e3e3ff,#e1e1ff,#e0e0ff,#dfdfff,#ddddff,#dcdcff,#dbdbff,#dbdbff,#dadaff,#d9d9ff,#d9d9ff,#d9d9ff,#d9d9ff,#d9d9ff,#d9d9ff,#d9d9ff,#d9d9ff,#dadaff,#dadaff,#dadaff,#dadaff,#dbdbff,#dbdbff,#dbdbff,#dbdbff,#dadaff,#dadaff,#d9d9ff,#d8d8ff,#d7d7ff,#d5d5ff,#d3d3ff,#d1d1ff,#ceceff,#cbcbff,#c8c8ff,#c5c5ff,#c1c1ff,#bdbdff,#b9b9ff,#b4b4ff,#afafff,#aaaaff,#a5a5ff,#9f9fff,#9999ff,#9393ff,#8d8dff,#8787ff,#8080ff,#7979ff,#7272ff,#6b6bff,#6464ff,#5d5dff,#5555ff,#4e4eff,#4646ff,#3e3eff,#3636ff,#2d2dff,#2525ff,#1c1cff,#1313ff,#0a0aff,#0101ff,#0807f7,#120fed,#1c17e3,#2620d9,#3028cf,#3a31c5,#443abb,#4f42b0,#594ba6,#63549c,#6e5d91,#786587,#826e7d,#8c7673,#957e6a,#9f8660,#a78d58,#b0944f,#b79a48,#bea041,#c4a63b,#caaa35,#ceae31,#d2b12d,#d5b42a,#d7b528,#d8b627,#d7b628,#d6b429,#d4b22b,#d0b02f,#ccac33,#c6a739,#c0a23f,#b99c46,#b1954e,#a88d57,#9e8561,#947d6b,#897376,#7d6a82,#72608d,#665699,#594ba6,#4d41b2,#4036bf,#332bcc,#2721d8,#1a16e5,#0e0cf1,#0201fd,#0a0aff,#1616ff,#2121ff,#2c2cff,#3737ff,#4141ff,#4b4bff,#5555ff,#5e5eff,#6767ff,#6f6fff,#7777ff,#7f7fff,#8787ff,#8e8eff,#9595ff)"></div>
<div class="m" style="top:232.500px;height:14.091px;background:linear-gradient(90deg,#fcfcff,#fcfcff,#fbfbff,#fbfbff,#fafaff,#f9f9ff,#f8f8ff,#f7f7ff,#f6f6ff,#f5f5ff,#f4f4ff,#f2f2ff,#f1f1ff,#efefff,#ededff,#ececff,#eaeaff,#e8e8ff,#e6e6ff,#e4e4ff,#e2e2ff,#e0e0ff,#dedeff,#dcdcff,#dadaff,#d8d8ff,#d7d7ff,#d5d5ff,#d4d4ff,#d3d3ff,#d2d2ff,#d1d1ff,#d0d0ff,#d0d0ff,#cfcfff,#cfcfff,#cfcfff,#cfcfff,#d0d0ff,#d0d0ff,#d1d1ff,#d1d1ff,#d2d2ff,#d2d2ff,#d3d3ff,#d3d3ff,#d4d4ff,#d4d4ff,#d4d4ff,#d4d4ff,#d3d3ff,#d2d2ff,#d1d1ff,#d0d0ff,#ceceff,#ccccff,#cacaff,#c8c8ff,#c5c5ff,#c1c1ff,#bebeff,#babaff,#b6b6ff,#b1b1ff,#adadff,#a8a8ff,#a3a3ff,#9d9dff,#9898ff,#9292ff,#8c8cff,#8686ff,#8080ff,#7a7aff,#7474ff,#6d6dff,#6767ff,#6060ff,#5959ff,#5252ff,#4b4bff,#4444ff,#3d3dff,#3636ff,#2f2fff,#2727ff,#1f1fff,#1717ff,#0f0fff,#0707ff,#0101fe,#0a08f5,#1310ec,#1c17e3,#251fda,#2e27d1,#372fc8,#4136be,#4a3eb5,#5346ac,#5d4ea2,#665699,#6f5d90,#776588,#806c7f,#887277,#8f7970,#967f69,#9d8462,#a2895d,#a78d58,#ac9153,#af9450,#b2964d,#b4984b,#b5984a,#b5984a,#b4984b,#b2964d,#af9450,#ac9153,#a78d58,#a2885d,#9c8363,#957d6a,#8d7772,#85707a,#7c6883,#73618c,#695896,#5e50a1,#5447ab,#493eb6,#3e34c1,#332bcc,#2821d7,#1c18e3,#110fee,#0605f9,#0505ff,#0f0fff,#1a1aff,#2424ff,#2e2eff,#3838ff,#4242ff,#4b4bff,#5454ff,#5d5dff,#6565ff,#6d6dff,#7575ff,#7d7dff,#8585ff,#8c8cff,#9393ff)"></div>
<div class="m" style="top:239.545px;height:14.091px;background:linear-gradient(90deg,#fcfcff,#fbfbff,#fbfbff,#fafaff,#f9f9ff,#f8f8ff,#f7f7ff,#f6f6ff,#f5f5ff,#f3f3ff,#f1f1ff,#f0f0ff,#eeeeff,#ececff,#eaeaff,#e8e8ff,#e5e5ff,#e3e3ff,#e1e1ff,#dedeff,#dcdcff,#d9d9ff,#d7d7ff,#d5d5ff,#d2d2ff,#d0d0ff,#ceceff,#ccccff,#cbcbff,#c9c9ff,#c8c8ff,#c7c7ff,#c6c6ff,#c5c5ff,#c5c5ff,#c5c5ff,#c5c5ff,#c5c5ff,#c6c6ff,#c6c6ff,#c7c7ff,#c8c8ff,#c8c8ff,#c9c9ff,#cacaff,#cacaff,#cbcbff,#cbcbff,#cbcbff,#cbcbff,#cbcbff,#cacaff,#cacaff,#c8c8ff,#c7c7ff,#c5c5ff,#c3c3ff,#c0c0ff,#bdbdff,#babaff,#b6b6ff,#b2b2ff,#aeaeff,#a9a9ff,#a5a5ff,#a0a0ff,#9b9bff,#9595ff,#9090ff,#8a8aff,#8585ff,#7f7fff,#7979ff,#7373ff,#6d6dff,#6868ff,#6262ff,#5c5cff,#5656ff,#5050ff,#4a4aff,#4343ff,#3d3dff,#3737ff,#3131ff,#2a2aff,#2424ff,#1d1dff,#1717ff,#1010ff,#0909ff,#0101ff,#0605f9,#0d0bf2,#1512ea,#1d18e2,#251fda,#2d26d2,#342ccb,#3c33c3,#443abb,#4c40b3,#5447ab,#5b4da4,#62539d,#695996,#705e8f,#766389,#7c6883,#816c7e,#85707a,#897376,#8c7673,#8f7870,#907a6f,#917b6e,#927b6d,#917a6e,#90796f,#8e7771,#8b7574,#877278,#836e7c,#7e6a81,#786587,#71608e,#6b5a94,#63549c,#5b4da4,#5346ac,#4a3eb5,#4137be,#382fc7,#2e27d1,#241fdb,#1b16e4,#110eee,#0706f8,#0303ff,#0d0dff,#1616ff,#2020ff,#2929ff,#3232ff,#3b3bff,#4444ff,#4d4dff,#5555ff,#5d5dff,#6666ff,#6d6dff,#7575ff,#7c7cff,#8484ff,#8b8bff,#9292ff)"></div>
<div class="m" style="top:246.591px;height:14.091px;background:linear-gradient(90deg,#fbfbff,#fbfbff,#fafaff,#f9f9ff,#f8f8ff,#f7f7ff,#f6f6ff,#f4f4ff,#f3f3ff,#f1f1ff,#efefff,#ededff,#ebebff,#e9e9ff,#e7e7ff,#e4e4ff,#e1e1ff,#dfdfff,#dcdcff,#d9d9ff,#d6d6ff,#d3d3ff,#d0d0ff,#ceceff,#cbcbff,#c8c8ff,#c6c6ff,#c4c4ff,#c2c2ff,#c0c0ff,#bfbfff,#bdbdff,#bcbcff,#bbbbff,#bbbbff,#bbbbff,#bbbbff,#bbbbff,#bbbbff,#bcbcff,#bdbdff,#bdbdff,#bebeff,#bfbfff,#c0c0ff,#c1c1ff,#c1c1ff,#c1c1ff,#c2c2ff,#c2c2ff,#c1c1ff,#c1c1ff,#c0c0ff,#bebeff,#bcbcff,#babaff,#b8b8ff,#b5b5ff,#b2b2ff,#aeaeff,#aaaaff,#a6a6ff,#a2a2ff,#9d9dff,#9898ff,#9393ff,#8d8dff,#8888ff,#8383ff,#7d7dff,#7777ff,#7272ff,#6c6cff,#6666ff,#6161ff,#5b5bff,#5656ff,#5050ff,#4b4bff,#4646ff,#4141ff,#3b3bff,#3636ff,#3131ff,#2c2cff,#2727ff,#2222ff,#1d1dff,#1717ff,#1212ff,#0c0cff,#0707ff,#0101ff,#0504fa,#0b09f4,#110eee,#1713e8,#1d18e2,#231edc,#2a23d5,#3028cf,#362ec9,#3c33c3,#4238bd,#483db7,#4d41b2,#5346ac,#574aa8,#5c4ea3,#60519f,#64549b,#675798,#6a5995,#6c5b93,#6d5c92,#6e5d91,#6e5d91,#6e5d91,#6d5c92,#6b5a94,#695996,#665699,#63539c,#5f50a0,#5a4ca5,#5547aa,#4f43b0,#493db6,#4238bd,#3b32c4,#342ccb,#2c25d3,#241fdb,#1c18e3,#1411eb,#0b0af4,#0302fc,#0606ff,#0e0eff,#1717ff,#1f1fff,#2828ff,#3030ff,#3939ff,#4141ff,#4949ff,#5151ff,#5959ff,#6161ff,#6868ff,#7070ff,#7777ff,#7e7eff,#8585ff,#8c8cff,#9393ff)"></div>
<div class="m" style="top:253.636px;height:14.091px;background:linear-gradient(90deg,#fbfbff,#fafaff,#f9f9ff,#f9f9ff,#f7f7ff,#f6f6ff,#f5f5ff,#f3f3ff,#f2f2ff,#f0f0ff,#eeeeff,#ebebff,#e9e9ff,#e7e7ff,#e4e4ff,#e1e1ff,#dedeff,#dbdbff,#d8d8ff,#d5d5ff,#d1d1ff,#ceceff,#cbcbff,#c8c8ff,#c5c5ff,#c2c2ff,#bfbfff,#bdbdff,#babaff,#b8b8ff,#b6b6ff,#b5b5ff,#b4b4ff,#b3b3ff,#b2b2ff,#b2b2ff,#b1b1ff,#b1b1ff,#b2b2ff,#b2b2ff,#b3b3ff,#b4b4ff,#b4b4ff,#b5b5ff,#b6b6ff,#b6b6ff,#b7b7ff,#b7b7ff,#b7b7ff,#b7b7ff,#b6b6ff,#b5b5ff,#b4b4ff,#b2b2ff,#b0b0ff,#aeaeff,#ababff,#a7a7ff,#a4a4ff,#a0a0ff,#9b9bff,#9797ff,#9292ff,#8c8cff,#8787ff,#8181ff,#7c7cff,#7676ff,#7070ff,#6a6aff,#6565ff,#5f5fff,#5959ff,#5454ff,#4e4eff,#4949ff,#4444ff,#3f3fff,#3b3bff,#3636ff,#3232ff,#2d2dff,#2929ff,#2525ff,#2222ff,#1e1eff,#1a1aff,#1616ff,#1212ff,#0f0fff,#0b0bff,#0707ff,#0303ff,#0101fe,#0504fa,#0908f6,#0e0bf1,#120fed,#1613e9,#1b16e4,#1f1ae0,#231edc,#2822d7,#2c25d3,#3029cf,#342ccb,#382fc7,#3b32c4,#3f35c0,#4237bd,#443abb,#473cb8,#493db6,#4a3eb5,#4b3fb4,#4c40b3,#4c40b3,#4b40b4,#4b3fb4,#493eb6,#473cb8,#453aba,#4238bd,#3f35c0,#3b32c4,#372ec8,#322acd,#2d26d2,#2821d7,#221cdd,#1c17e3,#1512ea,#0f0cf0,#0807f7,#0101fe,#0606ff,#0e0eff,#1515ff,#1d1dff,#2424ff,#2c2cff,#3333ff,#3b3bff,#4242ff,#4a4aff,#5151ff,#5858ff,#6060ff,#6767ff,#6e6eff,#7575ff,#7c7cff,#8282ff,#8989ff,#9090ff,#9696ff)"></div>
<div class="m" style="top:260.682px;height:14.091px;background:linear-gradient(90deg,#fbfbff,#fafaff,#f9f9ff,#f8f8ff,#f7f7ff,#f6f6ff,#f4f4ff,#f2f2ff,#f1f1ff,#efefff,#ececff,#eaeaff,#e8e8ff,#e5e5ff,#e2e2ff,#dfdfff,#dcdcff,#d8d8ff,#d5d5ff,#d1d1ff,#ceceff,#cacaff,#c7c7ff,#c4c4ff,#c0c0ff,#bdbdff,#babaff,#b7b7ff,#b5b5ff,#b2b2ff,#b0b0ff,#aeaeff,#adadff,#acacff,#ababff,#aaaaff,#aaaaff,#aaaaff,#aaaaff,#aaaaff,#aaaaff,#ababff,#ababff,#acacff,#acacff,#adadff,#adadff,#adadff,#acacff,#acacff,#ababff,#a9a9ff,#a7a7ff,#a5a5ff,#a2a2ff,#9f9fff,#9c9cff,#9898ff,#9393ff,#8f8fff,#8a8aff,#8484ff,#7f7fff,#7979ff,#7373ff,#6d6dff,#6767ff,#6161ff,#5b5bff,#5555ff,#4f4fff,#4949ff,#4343ff,#3e3eff,#3838ff,#3434ff,#2f2fff,#2a2aff,#2626ff,#2323ff,#1f1fff,#1c1cff,#1919ff,#1616ff,#1313ff,#1111ff,#0e0eff,#0c0cff,#0a0aff,#0808ff,#0505ff,#0303ff,#0101ff,#0101fe,#0303fc,#0605f9,#0807f7,#0a09f5,#0d0bf2,#0f0df0,#120fed,#1411eb,#1713e8,#1915e6,#1c17e3,#1e19e1,#201bdf,#221ddd,#241fdb,#2620d9,#2821d7,#2922d6,#2a23d5,#2a24d5,#2b24d4,#2b24d4,#2b24d4,#2a23d5,#2923d6,#2821d7,#2620d9,#241edb,#221cdd,#1f1ae0,#1c17e3,#1814e7,#1411eb,#100def,#0b0af4,#0706f8,#0201fd,#0404ff,#0909ff,#0f0fff,#1515ff,#1b1bff,#2121ff,#2828ff,#2e2eff,#3535ff,#3b3bff,#4242ff,#4949ff,#4f4fff,#5656ff,#5c5cff,#6363ff,#6a6aff,#7070ff,#7676ff,#7d7dff,#8383ff,#8989ff,#9090ff,#9696ff,#9c9cff)"></div>
<div class="m" style="top:267.727px;height:14.091px;background:linear-gradient(90deg,#fbfbff,#fafaff,#f9f9ff,#f8f8ff,#f7f7ff,#f5f5ff,#f4f4ff,#f2f2ff,#f0f0ff,#eeeeff,#ececff,#eaeaff,#e7e7ff,#e4e4ff,#e1e1ff,#dedeff,#dbdbff,#d7d7ff,#d4d4ff,#d0d0ff,#ccccff,#c9c9ff,#c5c5ff,#c1c1ff,#bebeff,#babaff,#b7b7ff,#b4b4ff,#b1b1ff,#afafff,#adadff,#ababff,#a9a9ff,#a7a7ff,#a6a6ff,#a5a5ff,#a5a5ff,#a4a4ff,#a4a4ff,#a4a4ff,#a4a4ff,#a4a4ff,#a4a4ff,#a4a4ff,#a4a4ff,#a4a4ff,#a4a4ff,#a3a3ff,#a2a2ff,#a1a1ff,#9f9fff,#9d9dff,#9b9bff,#9898ff,#9494ff,#9090ff,#8c8cff,#8787ff,#8282ff,#7d7dff,#7777ff,#7171ff,#6b6bff,#6565ff,#5e5eff,#5757ff,#5151ff,#4a4aff,#4444ff,#3d3dff,#3737ff,#3131ff,#2b2bff,#2626ff,#2121ff,#1c1cff,#1818ff,#1414ff,#1010ff,#0d0dff,#0b0bff,#0808ff,#0606ff,#0404ff,#0303ff,#0101ff,#0000ff,#0100fe,#0101fe,#0202fd,#0202fd,#0302fc,#0303fc,#0403fb,#0404fb,#0504fa,#0504fa,#0605f9,#0605f9,#0706f8,#0807f7,#0807f7,#0908f6,#0a08f5,#0b09f4,#0b0af4,#0c0af3,#0d0bf2,#0d0bf2,#0d0bf2,#0e0cf1,#0e0cf1,#0e0cf1,#0d0bf2,#0d0bf2,#0c0bf3,#0c0af3,#0b09f4,#0908f6,#0807f7,#0605f9,#0403fb,#0201fd,#0101ff,#0404ff,#0707ff,#0a0aff,#0e0eff,#1212ff,#1616ff,#1a1aff,#1e1eff,#2323ff,#2828ff,#2d2dff,#3232ff,#3838ff,#3d3dff,#4242ff,#4848ff,#4e4eff,#5353ff,#5959ff,#5f5fff,#6565ff,#6b6bff,#7070ff,#7676ff,#7c7cff,#8282ff,#8888ff,#8d8dff,#9393ff,#9999ff,#9e9eff,#a4a4ff)"></div>
<div class="m" style="top:274.773px;height:14.091px;background:linear-gradient(90deg,#fbfbff,#fafaff,#f9f9ff,#f8f8ff,#f7f7ff,#f6f6ff,#f4f4ff,#f2f2ff,#f1f1ff,#eeeeff,#ececff,#eaeaff,#e7e7ff,#e4e4ff,#e1e1ff,#dedeff,#dbdbff,#d8d8ff,#d4d4ff,#d0d0ff,#cdcdff,#c9c9ff,#c5c5ff,#c2c2ff,#bebeff,#babaff,#b7b7ff,#b4b4ff,#b1b1ff,#aeaeff,#acacff,#aaaaff,#a8a8ff,#a6a6ff,#a5a5ff,#a3a3ff,#a3a3ff,#a2a2ff,#a1a1ff,#a1a1ff,#a0a0ff,#a0a0ff,#a0a0ff,#9f9fff,#9e9eff,#9e9eff,#9d9dff,#9b9bff,#9a9aff,#9898ff,#9595ff,#9292ff,#8f8fff,#8b8bff,#8787ff,#8282ff,#7d7dff,#7878ff,#7272ff,#6c6cff,#6565ff,#5e5eff,#5757ff,#5050ff,#4949ff,#4242ff,#3b3bff,#3434ff,#2d2dff,#2626ff,#2020ff,#1a1aff,#1414ff,#0f0fff,#0a0aff,#0606ff,#0202ff,#0201fd,#0504fa,#0706f8,#0908f6,#0b09f4,#0c0af3,#0d0bf2,#0d0bf2,#0e0bf1,#0d0bf2,#0d0bf2,#0c0bf3,#0c0af3,#0b09f4,#0a08f5,#0907f6,#0806f7,#0605f9,#0504fa,#0404fb,#0303fc,#0202fd,#0101fe,#0000ff,#0101ff,#0202ff,#0303ff,#0404ff,#0404ff,#0505ff,#0606ff,#0707ff,#0808ff,#0909ff,#0a0aff,#0b0bff,#0c0cff,#0e0eff,#0f0fff,#1111ff,#1212ff,#1414ff,#1616ff,#1818ff,#1b1bff,#1d1dff,#1f1fff,#2222ff,#2525ff,#2828ff,#2b2bff,#2f2fff,#3232ff,#3636ff,#3a3aff,#3e3eff,#4242ff,#4747ff,#4b4bff,#4f4fff,#5454ff,#5959ff,#5e5eff,#6262ff,#6767ff,#6c6cff,#7171ff,#7676ff,#7b7bff,#8080ff,#8585ff,#8a8aff,#8f8fff,#9494ff,#9999ff,#9e9eff,#a3a3ff,#a8a8ff,#adadff)"></div>
<div class="m" style="top:281.818px;height:14.091px;background:linear-gradient(90deg,#fbfbff,#fafaff,#f9f9ff,#f8f8ff,#f7f7ff,#f6f6ff,#f5f5ff,#f3f3ff,#f1f1ff,#efefff,#ededff,#ebebff,#e8e8ff,#e6e6ff,#e3e3ff,#e0e0ff,#ddddff,#d9d9ff,#d6d6ff,#d2d2ff,#cfcfff,#cbcbff,#c8c8ff,#c4c4ff,#c0c0ff,#bdbdff,#babaff,#b6b6ff,#b3b3ff,#b1b1ff,#aeaeff,#acacff,#aaaaff,#a8a8ff,#a6a6ff,#a5a5ff,#a3a3ff,#a2a2ff,#a1a1ff,#a0a0ff,#9f9fff,#9e9eff,#9d9dff,#9c9cff,#9b9bff,#9999ff,#9898ff,#9595ff,#9393ff,#9090ff,#8d8dff,#8989ff,#8585ff,#8080ff,#7b7bff,#7676ff,#7070ff,#6a6aff,#6363ff,#5c5cff,#5555ff,#4d4dff,#4646ff,#3e3eff,#3737ff,#2f2fff,#2727ff,#2020ff,#1919ff,#1212ff,#0c0cff,#0606ff,#0000ff,#0504fa,#0a08f5,#0e0cf1,#110fee,#1411eb,#1713e8,#1915e6,#1a16e5,#1b17e4,#1c17e3,#1c17e3,#1b17e4,#1a16e5,#1915e6,#1814e7,#1613e9,#1411eb,#120fed,#100def,#0d0bf2,#0b09f4,#0907f6,#0605f9,#0403fb,#0101fe,#0101ff,#0404ff,#0606ff,#0909ff,#0b0bff,#0d0dff,#1010ff,#1212ff,#1414ff,#1616ff,#1818ff,#1b1bff,#1d1dff,#1f1fff,#2121ff,#2323ff,#2626ff,#2828ff,#2a2aff,#2d2dff,#2f2fff,#3232ff,#3434ff,#3737ff,#3a3aff,#3c3cff,#3f3fff,#4242ff,#4545ff,#4848ff,#4b4bff,#4f4fff,#5252ff,#5656ff,#5959ff,#5d5dff,#6060ff,#6464ff,#6868ff,#6c6cff,#7070ff,#7474ff,#7878ff,#7c7cff,#8080ff,#8585ff,#8989ff,#8d8dff,#9191ff,#9696ff,#9a9aff,#9e9eff,#a2a2ff,#a7a7ff,#ababff,#afafff,#b3b3ff,#b8b8ff)"></div>
<div class="m" style="top:288.864px;height:14.091px;background:linear-gradient(90deg,#fbfbff,#fbfbff,#fafaff,#f9f9ff,#f8f8ff,#f7f7ff,#f6f6ff,#f4f4ff,#f2f2ff,#f1f1ff,#efefff,#ededff,#eaeaff,#e8e8ff,#e5e5ff,#e2e2ff,#dfdfff,#dcdcff,#d9d9ff,#d6d6ff,#d2d2ff,#cfcfff,#ccccff,#c8c8ff,#c5c5ff,#c1c1ff,#bebeff,#bbbbff,#b8b8ff,#b5b5ff,#b3b3ff,#b0b0ff,#aeaeff,#acacff,#aaaaff,#a8a8ff,#a6a6ff,#a5a5ff,#a3a3ff,#a2a2ff,#a0a0ff,#9f9fff,#9d9dff,#9c9cff,#9a9aff,#9797ff,#9595ff,#9292ff,#8f8fff,#8b8bff,#8787ff,#8282ff,#7d7dff,#7878ff,#7272ff,#6c6cff,#6565ff,#5e5eff,#5757ff,#4f4fff,#4848ff,#4040ff,#3838ff,#3030ff,#2828ff,#2020ff,#1818ff,#1111ff,#0909ff,#0303ff,#0403fb,#0a08f5,#0f0df0,#1411eb,#1915e6,#1c18e3,#201bdf,#221ddd,#241fdb,#2620d9,#2721d8,#2721d8,#2721d8,#2620d9,#251fda,#231edc,#221cdd,#1f1ae0,#1d18e2,#1a16e5,#1713e8,#1411eb,#100eef,#0d0bf2,#0908f6,#0605f9,#0202fd,#0101ff,#0505ff,#0909ff,#0c0cff,#1010ff,#1313ff,#1717ff,#1a1aff,#1d1dff,#2121ff,#2424ff,#2727ff,#2b2bff,#2e2eff,#3131ff,#3434ff,#3838ff,#3b3bff,#3e3eff,#4141ff,#4444ff,#4747ff,#4b4bff,#4e4eff,#5151ff,#5454ff,#5757ff,#5a5aff,#5d5dff,#6060ff,#6363ff,#6767ff,#6a6aff,#6d6dff,#7070ff,#7373ff,#7777ff,#7a7aff,#7d7dff,#8080ff,#8484ff,#8787ff,#8b8bff,#8e8eff,#9191ff,#9595ff,#9898ff,#9c9cff,#9f9fff,#a3a3ff,#a6a6ff,#aaaaff,#adadff,#b1b1ff,#b5b5ff,#b8b8ff,#bcbcff,#bfbfff,#c3c3ff)"></div>
<div class="m" style="top:295.909px;height:14.091px;background:linear-gradient(90deg,#fcfcff,#fbfbff,#fbfbff,#fafaff,#f9f9ff,#f8f8ff,#f7f7ff,#f5f5ff,#f4f4ff,#f2f2ff,#f1f1ff,#efefff,#ededff,#eaeaff,#e8e8ff,#e5e5ff,#e3e3ff,#e0e0ff,#ddddff,#dadaff,#d7d7ff,#d4d4ff,#d1d1ff,#cdcdff,#cacaff,#c7c7ff,#c4c4ff,#c1c1ff,#bebeff,#bbbbff,#b9b9ff,#b6b6ff,#b4b4ff,#b2b2ff,#afafff,#adadff,#ababff,#a9a9ff,#a8a8ff,#a6a6ff,#a4a4ff,#a2a2ff,#9f9fff,#9d9dff,#9a9aff,#9797ff,#9494ff,#9191ff,#8d8dff,#8888ff,#8383ff,#7e7eff,#7979ff,#7373ff,#6c6cff,#6565ff,#5e5eff,#5757ff,#4f4fff,#4747ff,#3f3fff,#3737ff,#2e2eff,#2626ff,#1e1eff,#1616ff,#0e0eff,#0707ff,#0000ff,#0706f8,#0d0bf2,#1310ec,#1915e6,#1d19e2,#211cde,#251fda,#2822d7,#2a24d5,#2c25d3,#2d26d2,#2d26d2,#2d26d2,#2d26d2,#2b25d4,#2a23d5,#2821d7,#251fda,#221ddd,#1f1ae0,#1c17e3,#1814e7,#1411eb,#100eef,#0c0af3,#0806f7,#0303fc,#0101ff,#0505ff,#0a0aff,#0e0eff,#1313ff,#1717ff,#1b1bff,#2020ff,#2424ff,#2828ff,#2c2cff,#3131ff,#3535ff,#3939ff,#3d3dff,#4141ff,#4646ff,#4a4aff,#4e4eff,#5252ff,#5555ff,#5959ff,#5d5dff,#6161ff,#6565ff,#6868ff,#6c6cff,#6f6fff,#7373ff,#7676ff,#7979ff,#7c7cff,#8080ff,#8383ff,#8686ff,#8989ff,#8c8cff,#8f8fff,#9292ff,#9595ff,#9898ff,#9a9aff,#9d9dff,#a0a0ff,#a3a3ff,#a6a6ff,#a9a9ff,#ababff,#aeaeff,#b1b1ff,#b4b4ff,#b7b7ff,#babaff,#bcbcff,#bfbfff,#c2c2ff,#c5c5ff,#c8c8ff,#cbcbff,#ceceff)"></div>
<div class="m" style="top:302.955px;height:14.091px;background:linear-gradient(90deg,#fcfcff,#fcfcff,#fbfbff,#fbfbff,#fafaff,#f9f9ff,#f8f8ff,#f7f7ff,#f6f6ff,#f4f4ff,#f3f3ff,#f1f1ff,#efefff,#ededff,#ebebff,#e9e9ff,#e6e6ff,#e4e4ff,#e1e1ff,#dfdfff,#dcdcff,#d9d9ff,#d6d6ff,#d3d3ff,#d0d0ff,#cdcdff,#cbcbff,#c8c8ff,#c5c5ff,#c2c2ff,#c0c0ff,#bdbdff,#bbbbff,#b8b8ff,#b6b6ff,#b4b4ff,#b1b1ff,#afafff,#adadff,#ababff,#a8a8ff,#a6a6ff,#a3a3ff,#a0a0ff,#9d9dff,#9999ff,#9595ff,#9191ff,#8d8dff,#8888ff,#8383ff,#7d7dff,#7777ff,#7070ff,#6969ff,#6262ff,#5b5bff,#5353ff,#4b4bff,#4343ff,#3b3bff,#3232ff,#2a2aff,#2222ff,#1a1aff,#1212ff,#0a0aff,#0303ff,#0403fb,#0b09f4,#110eee,#1613e9,#1b17e4,#201bdf,#231edc,#2721d8,#2923d6,#2b24d4,#2d26d2,#2d26d2,#2e26d1,#2d26d2,#2c25d3,#2b24d4,#2922d6,#2620d9,#231edc,#201bdf,#1d18e2,#1915e6,#1512ea,#110eee,#0c0af3,#0806f7,#0302fc,#0202ff,#0707ff,#0c0cff,#1111ff,#1515ff,#1a1aff,#1f1fff,#2424ff,#2929ff,#2e2eff,#3333ff,#3838ff,#3d3dff,#4242ff,#4747ff,#4c4cff,#5050ff,#5555ff,#5a5aff,#5f5fff,#6363ff,#6868ff,#6c6cff,#7171ff,#7575ff,#7979ff,#7d7dff,#8181ff,#8585ff,#8888ff,#8c8cff,#9090ff,#9393ff,#9696ff,#9999ff,#9c9cff,#9f9fff,#a2a2ff,#a5a5ff,#a7a7ff,#aaaaff,#acacff,#afafff,#b1b1ff,#b4b4ff,#b6b6ff,#b8b8ff,#bbbbff,#bdbdff,#bfbfff,#c1c1ff,#c4c4ff,#c6c6ff,#c8c8ff,#cacaff,#cdcdff,#cfcfff,#d1d1ff,#d3d3ff,#d6d6ff,#d8d8ff)"></div>
<div class="m" style="top:310.000px;height:14.091px;background:linear-gradient(90deg,#fdfdff,#fcfcff,#fcfcff,#fbfbff,#fbfbff,#fafaff,#f9f9ff,#f8f8ff,#f7f7ff,#f6f6ff,#f5f5ff,#f3f3ff,#f2f2ff,#f0f0ff,#eeeeff,#ececff,#eaeaff,#e8e8ff,#e6e6ff,#e3e3ff,#e1e1ff,#dedeff,#dcdcff,#d9d9ff,#d6d6ff,#d4d4ff,#d1d1ff,#ceceff,#cbcbff,#c9c9ff,#c6c6ff,#c4c4ff,#c1c1ff,#bfbfff,#bcbcff,#babaff,#b7b7ff,#b5b5ff,#b2b2ff,#b0b0ff,#adadff,#aaaaff,#a7a7ff,#a4a4ff,#a0a0ff,#9c9cff,#9898ff,#9494ff,#8f8fff,#8a8aff,#8484ff,#7e7eff,#7878ff,#7171ff,#6a6aff,#6363ff,#5b5bff,#5353ff,#4b4bff,#4343ff,#3b3bff,#3333ff,#2b2bff,#2323ff,#1b1bff,#1414ff,#0c0cff,#0505ff,#0101fe,#0806f7,#0d0bf2,#1310ec,#1714e8,#1b17e4,#1f1ae0,#221cdd,#241edb,#2620d9,#2721d8,#2721d8,#2721d8,#2721d8,#2620d9,#241edb,#221ddd,#1f1ae0,#1c18e3,#1915e6,#1512ea,#110fee,#0d0bf2,#0907f6,#0404fb,#0101ff,#0505ff,#0a0aff,#1010ff,#1515ff,#1a1aff,#1f1fff,#2424ff,#2a2aff,#2f2fff,#3434ff,#3a3aff,#3f3fff,#4444ff,#4a4aff,#4f4fff,#5454ff,#5a5aff,#5f5fff,#6464ff,#6969ff,#6f6fff,#7474ff,#7979ff,#7d7dff,#8282ff,#8787ff,#8b8bff,#9090ff,#9494ff,#9898ff,#9c9cff,#a0a0ff,#a3a3ff,#a6a6ff,#aaaaff,#adadff,#b0b0ff,#b3b3ff,#b5b5ff,#b8b8ff,#babaff,#bdbdff,#bfbfff,#c1c1ff,#c3c3ff,#c5c5ff,#c7c7ff,#c9c9ff,#cbcbff,#ccccff,#ceceff,#d0d0ff,#d2d2ff,#d3d3ff,#d5d5ff,#d7d7ff,#d9d9ff,#dadaff,#dcdcff,#dedeff,#dfdfff,#e1e1ff)"></div>
<div class="m" style="top:317.045px;height:14.091px;background:linear-gradient(90deg,#fdfdff,#fdfdff,#fcfcff,#fcfcff,#fbfbff,#fbfbff,#fafaff,#f9f9ff,#f8f8ff,#f7f7ff,#f6f6ff,#f5f5ff,#f4f4ff,#f2f2ff,#f1f1ff,#efefff,#ededff,#ebebff,#e9e9ff,#e7e7ff,#e5e5ff,#e3e3ff,#e0e0ff,#dedeff,#dbdbff,#d9d9ff,#d6d6ff,#d4d4ff,#d1d1ff,#cfcfff,#ccccff,#c9c9ff,#c7c7ff,#c4c4ff,#c2c2ff,#bfbfff,#bdbdff,#babaff,#b7b7ff,#b5b5ff,#b2b2ff,#afafff,#ababff,#a8a8ff,#a4a4ff,#a0a0ff,#9c9cff,#9797ff,#9292ff,#8d8dff,#8787ff,#8181ff,#7b7bff,#7474ff,#6d6dff,#6666ff,#5f5fff,#5757ff,#5050ff,#4848ff,#4040ff,#3838ff,#3131ff,#2929ff,#2222ff,#1b1bff,#1414ff,#0d0dff,#0707ff,#0101ff,#0403fb,#0907f6,#0d0bf2,#110eee,#1411eb,#1713e8,#1915e6,#1a16e5,#1b17e4,#1c17e3,#1c17e3,#1b17e4,#1a16e5,#1814e7,#1612e9,#1310ec,#100eef,#0d0bf2,#0908f6,#0505fa,#0101fe,#0303ff,#0808ff,#0c0cff,#1111ff,#1616ff,#1c1cff,#2121ff,#2626ff,#2b2bff,#3131ff,#3636ff,#3c3cff,#4141ff,#4747ff,#4c4cff,#5252ff,#5757ff,#5d5dff,#6363ff,#6868ff,#6e6eff,#7373ff,#7979ff,#7e7eff,#8383ff,#8888ff,#8d8dff,#9292ff,#9797ff,#9c9cff,#a0a0ff,#a5a5ff,#a9a9ff,#adadff,#b0b0ff,#b4b4ff,#b7b7ff,#bbbbff,#bebeff,#c0c0ff,#c3c3ff,#c6c6ff,#c8c8ff,#cacaff,#ccccff,#ceceff,#d0d0ff,#d2d2ff,#d3d3ff,#d5d5ff,#d7d7ff,#d8d8ff,#d9d9ff,#dbdbff,#dcdcff,#ddddff,#dfdfff,#e0e0ff,#e1e1ff,#e3e3ff,#e4e4ff,#e5e5ff,#e6e6ff,#e8e8ff,#e9e9ff)"></div>
<div class="m" style="top:324.091px;height:14.091px;background:linear-gradient(90deg,#fefeff,#fdfdff,#fdfdff,#fdfdff,#fcfcff,#fcfcff,#fbfbff,#fafaff,#f9f9ff,#f9f9ff,#f8f8ff,#f7f7ff,#f5f5ff,#f4f4ff,#f3f3ff,#f1f1ff,#f0f0ff,#eeeeff,#ececff,#eaeaff,#e8e8ff,#e6e6ff,#e4e4ff,#e2e2ff,#dfdfff,#ddddff,#dadaff,#d8d8ff,#d5d5ff,#d3d3ff,#d0d0ff,#ceceff,#cbcbff,#c9c9ff,#c6c6ff,#c4c4ff,#c1c1ff,#bebeff,#bbbbff,#b8b8ff,#b5b5ff,#b2b2ff,#afafff,#ababff,#a8a8ff,#a4a4ff,#9f9fff,#9b9bff,#9696ff,#9191ff,#8b8bff,#8686ff,#8080ff,#7979ff,#7373ff,#6c6cff,#6565ff,#5e5eff,#5757ff,#5050ff,#4949ff,#4141ff,#3a3aff,#3333ff,#2c2cff,#2626ff,#2020ff,#1a1aff,#1414ff,#0f0fff,#0a0aff,#0505ff,#0202ff,#0202fd,#0504fa,#0706f8,#0908f6,#0a09f5,#0b09f4,#0b0af4,#0b09f4,#0a09f5,#0908f6,#0806f7,#0605f9,#0303fc,#0000ff,#0303ff,#0606ff,#0a0aff,#0e0eff,#1212ff,#1717ff,#1c1cff,#2020ff,#2525ff,#2a2aff,#3030ff,#3535ff,#3a3aff,#3f3fff,#4545ff,#4a4aff,#5050ff,#5555ff,#5b5bff,#6161ff,#6666ff,#6c6cff,#7171ff,#7777ff,#7d7dff,#8282ff,#8888ff,#8d8dff,#9292ff,#9797ff,#9c9cff,#a1a1ff,#a6a6ff,#ababff,#afafff,#b3b3ff,#b7b7ff,#bbbbff,#bfbfff,#c2c2ff,#c6c6ff,#c9c9ff,#ccccff,#ceceff,#d1d1ff,#d3d3ff,#d5d5ff,#d7d7ff,#d9d9ff,#dbdbff,#dcdcff,#dedeff,#dfdfff,#e0e0ff,#e2e2ff,#e3e3ff,#e4e4ff,#e5e5ff,#e6e6ff,#e7e7ff,#e8e8ff,#e9e9ff,#eaeaff,#ebebff,#ececff,#ececff,#ededff,#eeeeff,#efefff)"></div>
<div class="m" style="top:331.136px;height:14.091px;background:linear-gradient(90deg,#fefeff,#fefeff,#fdfdff,#fdfdff,#fdfdff,#fcfcff,#fcfcff,#fbfbff,#fafaff,#fafaff,#f9f9ff,#f8f8ff,#f7f7ff,#f6f6ff,#f4f4ff,#f3f3ff,#f1f1ff,#f0f0ff,#eeeeff,#ececff,#eaeaff,#e8e8ff,#e6e6ff,#e4e4ff,#e2e2ff,#dfdfff,#ddddff,#dbdbff,#d8d8ff,#d6d6ff,#d3d3ff,#d1d1ff,#ceceff,#cbcbff,#c9c9ff,#c6c6ff,#c4c4ff,#c1c1ff,#bebeff,#bbbbff,#b8b8ff,#b5b5ff,#b2b2ff,#aeaeff,#ababff,#a7a7ff,#a3a3ff,#9f9fff,#9a9aff,#9595ff,#9090ff,#8b8bff,#8585ff,#8080ff,#7a7aff,#7474ff,#6d6dff,#6767ff,#6060ff,#5a5aff,#5353ff,#4d4dff,#4646ff,#4040ff,#3a3aff,#3434ff,#2e2eff,#2929ff,#2424ff,#1f1fff,#1b1bff,#1717ff,#1414ff,#1111ff,#0e0eff,#0c0cff,#0a0aff,#0909ff,#0909ff,#0808ff,#0909ff,#0909ff,#0b0bff,#0c0cff,#0e0eff,#1010ff,#1313ff,#1616ff,#1919ff,#1d1dff,#2121ff,#2525ff,#2929ff,#2d2dff,#3232ff,#3737ff,#3b3bff,#4040ff,#4646ff,#4b4bff,#5050ff,#5555ff,#5b5bff,#6060ff,#6666ff,#6b6bff,#7171ff,#7676ff,#7b7bff,#8181ff,#8686ff,#8c8cff,#9191ff,#9696ff,#9c9cff,#a1a1ff,#a6a6ff,#ababff,#afafff,#b4b4ff,#b8b8ff,#bdbdff,#c1c1ff,#c4c4ff,#c8c8ff,#cbcbff,#cfcfff,#d2d2ff,#d5d5ff,#d7d7ff,#dadaff,#dcdcff,#dedeff,#e0e0ff,#e2e2ff,#e3e3ff,#e5e5ff,#e6e6ff,#e7e7ff,#e8e8ff,#e9e9ff,#eaeaff,#ebebff,#ececff,#ededff,#eeeeff,#eeeeff,#efefff,#f0f0ff,#f0f0ff,#f1f1ff,#f2f2ff,#f2f2ff,#f3f3ff,#f3f3ff,#f4f4ff)"></div>
<div class="m" style="top:338.182px;height:14.091px;background:linear-gradient(90deg,#fefeff,#fefeff,#fdfdff,#fdfdff,#fdfdff,#fcfcff,#fcfcff,#fbfbff,#fbfbff,#fafaff,#f9f9ff,#f8f8ff,#f7f7ff,#f6f6ff,#f5f5ff,#f4f4ff,#f2f2ff,#f1f1ff,#efefff,#eeeeff,#ececff,#eaeaff,#e8e8ff,#e5e5ff,#e3e3ff,#e1e1ff,#dedeff,#dcdcff,#dadaff,#d7d7ff,#d4d4ff,#d2d2ff,#cfcfff,#cdcdff,#cacaff,#c7c7ff,#c5c5ff,#c2c2ff,#bfbfff,#bcbcff,#babaff,#b7b7ff,#b4b4ff,#b0b0ff,#adadff,#a9a9ff,#a6a6ff,#a2a2ff,#9e9eff,#9999ff,#9595ff,#9090ff,#8b8bff,#8686ff,#8181ff,#7c7cff,#7676ff,#7070ff,#6b6bff,#6565ff,#5f5fff,#5a5aff,#5454ff,#4e4eff,#4949ff,#4444ff,#3f3fff,#3a3aff,#3636ff,#3232ff,#2e2eff,#2b2bff,#2828ff,#2525ff,#2323ff,#2121ff,#2020ff,#1f1fff,#1e1eff,#1e1eff,#1f1fff,#1f1fff,#2020ff,#2222ff,#2424ff,#2626ff,#2828ff,#2b2bff,#2e2eff,#3131ff,#3535ff,#3939ff,#3d3dff,#4141ff,#4545ff,#4a4aff,#4e4eff,#5353ff,#5858ff,#5d5dff,#6262ff,#6767ff,#6c6cff,#7171ff,#7777ff,#7c7cff,#8181ff,#8686ff,#8c8cff,#9191ff,#9696ff,#9b9bff,#a0a0ff,#a5a5ff,#aaaaff,#afafff,#b3b3ff,#b8b8ff,#bcbcff,#c1c1ff,#c5c5ff,#c8c8ff,#ccccff,#d0d0ff,#d3d3ff,#d6d6ff,#d9d9ff,#dcdcff,#dedeff,#e0e0ff,#e3e3ff,#e5e5ff,#e6e6ff,#e8e8ff,#eaeaff,#ebebff,#ececff,#ededff,#eeeeff,#efefff,#f0f0ff,#f1f1ff,#f2f2ff,#f2f2ff,#f3f3ff,#f3f3ff,#f4f4ff,#f4f4ff,#f5f5ff,#f5f5ff,#f6f6ff,#f6f6ff,#f7f7ff,#f7f7ff,#f7f7ff,#f8f8ff)"></div>
<div class="m" style="top:345.227px;height:14.091px;background:linear-gradient(90deg,#fefeff,#fefeff,#fefeff,#fdfdff,#fdfdff,#fdfdff,#fcfcff,#fcfcff,#fbfbff,#fafaff,#fafaff,#f9f9ff,#f8f8ff,#f7f7ff,#f6f6ff,#f4f4ff,#f3f3ff,#f1f1ff,#f0f0ff,#eeeeff,#ececff,#eaeaff,#e8e8ff,#e6e6ff,#e4e4ff,#e1e1ff,#dfdfff,#dcdcff,#dadaff,#d7d7ff,#d5d5ff,#d2d2ff,#cfcfff,#cdcdff,#cacaff,#c7c7ff,#c5c5ff,#c2c2ff,#bfbfff,#bdbdff,#babaff,#b7b7ff,#b4b4ff,#b1b1ff,#aeaeff,#ababff,#a8a8ff,#a4a4ff,#a1a1ff,#9d9dff,#9999ff,#9595ff,#9191ff,#8c8cff,#8888ff,#8383ff,#7f7fff,#7a7aff,#7575ff,#7070ff,#6b6bff,#6666ff,#6161ff,#5d5dff,#5858ff,#5454ff,#5050ff,#4c4cff,#4848ff,#4545ff,#4242ff,#3f3fff,#3d3dff,#3a3aff,#3939ff,#3737ff,#3636ff,#3535ff,#3535ff,#3535ff,#3535ff,#3636ff,#3737ff,#3838ff,#3a3aff,#3c3cff,#3e3eff,#4141ff,#4444ff,#4747ff,#4a4aff,#4e4eff,#5151ff,#5555ff,#5959ff,#5d5dff,#6262ff,#6666ff,#6b6bff,#7070ff,#7474ff,#7979ff,#7e7eff,#8383ff,#8888ff,#8d8dff,#9292ff,#9797ff,#9c9cff,#a0a0ff,#a5a5ff,#aaaaff,#afafff,#b3b3ff,#b8b8ff,#bcbcff,#c0c0ff,#c4c4ff,#c8c8ff,#ccccff,#d0d0ff,#d3d3ff,#d6d6ff,#d9d9ff,#dcdcff,#dfdfff,#e1e1ff,#e4e4ff,#e6e6ff,#e8e8ff,#eaeaff,#ebebff,#ededff,#eeeeff,#f0f0ff,#f1f1ff,#f2f2ff,#f3f3ff,#f4f4ff,#f4f4ff,#f5f5ff,#f6f6ff,#f6f6ff,#f7f7ff,#f7f7ff,#f7f7ff,#f8f8ff,#f8f8ff,#f8f8ff,#f9f9ff,#f9f9ff,#f9f9ff,#fafaff,#fafaff,#fafaff,#fafaff)"></div>
<div class="m" style="top:352.273px;height:14.091px;background:linear-gradient(90deg,#fefeff,#fefeff,#fefeff,#fdfdff,#fdfdff,#fdfdff,#fcfcff,#fcfcff,#fbfbff,#fbfbff,#fafaff,#f9f9ff,#f8f8ff,#f7f7ff,#f6f6ff,#f5f5ff,#f3f3ff,#f2f2ff,#f0f0ff,#eeeeff,#ececff,#eaeaff,#e8e8ff,#e6e6ff,#e3e3ff,#e1e1ff,#dfdfff,#dcdcff,#d9d9ff,#d7d7ff,#d4d4ff,#d1d1ff,#cfcfff,#ccccff,#c9c9ff,#c7c7ff,#c4c4ff,#c1c1ff,#bfbfff,#bcbcff,#babaff,#b7b7ff,#b4b4ff,#b2b2ff,#afafff,#acacff,#a9a9ff,#a6a6ff,#a3a3ff,#a0a0ff,#9d9dff,#9999ff,#9696ff,#9292ff,#8e8eff,#8a8aff,#8686ff,#8282ff,#7e7eff,#7a7aff,#7676ff,#7272ff,#6e6eff,#6b6bff,#6767ff,#6363ff,#6060ff,#5d5dff,#5a5aff,#5757ff,#5555ff,#5353ff,#5151ff,#4f4fff,#4e4eff,#4d4dff,#4c4cff,#4c4cff,#4c4cff,#4c4cff,#4c4cff,#4d4dff,#4e4eff,#4f4fff,#5151ff,#5353ff,#5555ff,#5757ff,#5a5aff,#5c5cff,#5f5fff,#6363ff,#6666ff,#6a6aff,#6d6dff,#7171ff,#7575ff,#7a7aff,#7e7eff,#8282ff,#8787ff,#8b8bff,#9090ff,#9494ff,#9999ff,#9d9dff,#a2a2ff,#a6a6ff,#ababff,#afafff,#b4b4ff,#b8b8ff,#bcbcff,#c0c0ff,#c4c4ff,#c8c8ff,#ccccff,#cfcfff,#d3d3ff,#d6d6ff,#d9d9ff,#dcdcff,#dfdfff,#e2e2ff,#e4e4ff,#e6e6ff,#e8e8ff,#eaeaff,#ececff,#eeeeff,#efefff,#f1f1ff,#f2f2ff,#f3f3ff,#f4f4ff,#f5f5ff,#f6f6ff,#f7f7ff,#f7f7ff,#f8f8ff,#f8f8ff,#f9f9ff,#f9f9ff,#fafaff,#fafaff,#fafaff,#fafaff,#fbfbff,#fbfbff,#fbfbff,#fbfbff,#fbfbff,#fcfcff,#fcfcff,#fcfcff,#fcfcff)"></div>
<div class="m" style="top:359.318px;height:14.091px;background:linear-gradient(90deg,#fefeff,#fefeff,#fefeff,#fdfdff,#fdfdff,#fdfdff,#fcfcff,#fcfcff,#fbfbff,#fbfbff,#fafaff,#f9f9ff,#f8f8ff,#f7f7ff,#f6f6ff,#f4f4ff,#f3f3ff,#f1f1ff,#f0f0ff,#eeeeff,#ececff,#eaeaff,#e8e8ff,#e5e5ff,#e3e3ff,#e1e1ff,#dedeff,#dbdbff,#d9d9ff,#d6d6ff,#d3d3ff,#d1d1ff,#ceceff,#cbcbff,#c8c8ff,#c6c6ff,#c3c3ff,#c1c1ff,#bebeff,#bbbbff,#b9b9ff,#b6b6ff,#b4b4ff,#b1b1ff,#afafff,#acacff,#aaaaff,#a7a7ff,#a5a5ff,#a2a2ff,#9f9fff,#9c9cff,#9999ff,#9696ff,#9393ff,#9090ff,#8d8dff,#8a8aff,#8686ff,#8383ff,#8080ff,#7d7dff,#7a7aff,#7777ff,#7474ff,#7171ff,#6f6fff,#6c6cff,#6a6aff,#6868ff,#6767ff,#6565ff,#6464ff,#6363ff,#6262ff,#6161ff,#6161ff,#6161ff,#6161ff,#6262ff,#6262ff,#6363ff,#6464ff,#6565ff,#6767ff,#6969ff,#6b6bff,#6d6dff,#6f6fff,#7272ff,#7575ff,#7878ff,#7b7bff,#7e7eff,#8181ff,#8585ff,#8989ff,#8c8cff,#9090ff,#9494ff,#9898ff,#9c9cff,#a1a1ff,#a5a5ff,#a9a9ff,#adadff,#b1b1ff,#b5b5ff,#b9b9ff,#bdbdff,#c1c1ff,#c5c5ff,#c9c9ff,#ccccff,#d0d0ff,#d3d3ff,#d6d6ff,#d9d9ff,#dcdcff,#dfdfff,#e2e2ff,#e4e4ff,#e6e6ff,#e8e8ff,#eaeaff,#ececff,#eeeeff,#f0f0ff,#f1f1ff,#f3f3ff,#f4f4ff,#f5f5ff,#f6f6ff,#f7f7ff,#f7f7ff,#f8f8ff,#f9f9ff,#f9f9ff,#fafaff,#fafaff,#fbfbff,#fbfbff,#fbfbff,#fcfcff,#fcfcff,#fcfcff,#fcfcff,#fcfcff,#fdfdff,#fdfdff,#fdfdff,#fdfdff,#fdfdff,#fdfdff,#fdfdff,#fdfdff)"></div>
<div class="m" style="top:366.364px;height:14.091px;background:linear-gradient(90deg,#fefeff,#fefeff,#fefeff,#fdfdff,#fdfdff,#fdfdff,#fcfcff,#fcfcff,#fbfbff,#fafaff,#fafaff,#f9f9ff,#f8f8ff,#f7f7ff,#f6f6ff,#f4f4ff,#f3f3ff,#f1f1ff,#f0f0ff,#eeeeff,#ececff,#eaeaff,#e7e7ff,#e5e5ff,#e3e3ff,#e0e0ff,#dedeff,#dbdbff,#d8d8ff,#d5d5ff,#d3d3ff,#d0d0ff,#cdcdff,#cacaff,#c8c8ff,#c5c5ff,#c2c2ff,#c0c0ff,#bdbdff,#bbbbff,#b8b8ff,#b6b6ff,#b3b3ff,#b1b1ff,#afafff,#adadff,#aaaaff,#a8a8ff,#a6a6ff,#a3a3ff,#a1a1ff,#9e9eff,#9c9cff,#9a9aff,#9797ff,#9595ff,#9292ff,#9090ff,#8d8dff,#8b8bff,#8888ff,#8686ff,#8484ff,#8282ff,#8080ff,#7e7eff,#7c7cff,#7a7aff,#7979ff,#7878ff,#7777ff,#7676ff,#7575ff,#7575ff,#7575ff,#7575ff,#7575ff,#7575ff,#7676ff,#7676ff,#7777ff,#7878ff,#7979ff,#7b7bff,#7c7cff,#7e7eff,#8080ff,#8282ff,#8484ff,#8686ff,#8989ff,#8b8bff,#8e8eff,#9191ff,#9494ff,#9898ff,#9b9bff,#9e9eff,#a2a2ff,#a5a5ff,#a9a9ff,#adadff,#b0b0ff,#b4b4ff,#b8b8ff,#bbbbff,#bfbfff,#c3c3ff,#c6c6ff,#cacaff,#cdcdff,#d0d0ff,#d4d4ff,#d7d7ff,#dadaff,#dcdcff,#dfdfff,#e2e2ff,#e4e4ff,#e6e6ff,#e8e8ff,#eaeaff,#ececff,#eeeeff,#f0f0ff,#f1f1ff,#f3f3ff,#f4f4ff,#f5f5ff,#f6f6ff,#f7f7ff,#f8f8ff,#f9f9ff,#f9f9ff,#fafaff,#fafaff,#fbfbff,#fbfbff,#fcfcff,#fcfcff,#fcfcff,#fdfdff,#fdfdff,#fdfdff,#fdfdff,#fdfdff,#fdfdff,#fdfdff,#fefeff,#fefeff,#fefeff,#fefeff,#fefeff,#fefeff,#fefeff,#fefeff)"></div>
<div class="m" style="top:373.409px;height:14.091px;background:linear-gradient(90deg,#fefeff,#fefeff,#fdfdff,#fdfdff,#fdfdff,#fcfcff,#fcfcff,#fbfbff,#fbfbff,#fafaff,#f9f9ff,#f9f9ff,#f8f8ff,#f6f6ff,#f5f5ff,#f4f4ff,#f2f2ff,#f1f1ff,#efefff,#ededff,#ebebff,#e9e9ff,#e7e7ff,#e5e5ff,#e2e2ff,#e0e0ff,#ddddff,#dbdbff,#d8d8ff,#d5d5ff,#d2d2ff,#cfcfff,#cdcdff,#cacaff,#c7c7ff,#c4c4ff,#c2c2ff,#bfbfff,#bdbdff,#babaff,#b8b8ff,#b5b5ff,#b3b3ff,#b1b1ff,#afafff,#acacff,#aaaaff,#a8a8ff,#a6a6ff,#a4a4ff,#a2a2ff,#a0a0ff,#9e9eff,#9c9cff,#9a9aff,#9898ff,#9696ff,#9494ff,#9393ff,#9191ff,#8f8fff,#8e8eff,#8c8cff,#8b8bff,#8989ff,#8888ff,#8787ff,#8787ff,#8686ff,#8686ff,#8585ff,#8585ff,#8585ff,#8585ff,#8686ff,#8686ff,#8787ff,#8787ff,#8888ff,#8989ff,#8a8aff,#8c8cff,#8d8dff,#8e8eff,#9090ff,#9292ff,#9393ff,#9595ff,#9797ff,#9999ff,#9c9cff,#9e9eff,#a1a1ff,#a3a3ff,#a6a6ff,#a9a9ff,#acacff,#afafff,#b2b2ff,#b5b5ff,#b8b8ff,#bbbbff,#bfbfff,#c2c2ff,#c5c5ff,#c8c8ff,#ccccff,#cfcfff,#d2d2ff,#d5d5ff,#d7d7ff,#dadaff,#ddddff,#dfdfff,#e2e2ff,#e4e4ff,#e6e6ff,#e9e9ff,#ebebff,#ececff,#eeeeff,#f0f0ff,#f1f1ff,#f3f3ff,#f4f4ff,#f5f5ff,#f6f6ff,#f7f7ff,#f8f8ff,#f9f9ff,#f9f9ff,#fafaff,#fbfbff,#fbfbff,#fcfcff,#fcfcff,#fcfcff,#fdfdff,#fdfdff,#fdfdff,#fdfdff,#fdfdff,#fefeff,#fefeff,#fefeff,#fefeff,#fefeff,#fefeff,#fefeff,#fefeff,#fefeff,#fefeff,#fefeff,#fefeff,#fefeff,#fefeff)"></div>
<div class="m" style="top:380.455px;height:14.091px;background:linear-gradient(90deg,#fefeff,#fefeff,#fdfdff,#fdfdff,#fdfdff,#fcfcff,#fcfcff,#fbfbff,#fbfbff,#fafaff,#f9f9ff,#f8f8ff,#f7f7ff,#f6f6ff,#f5f5ff,#f3f3ff,#f2f2ff,#f0f0ff,#efefff,#ededff,#ebebff,#e9e9ff,#e7e7ff,#e4e4ff,#e2e2ff,#e0e0ff,#ddddff,#dadaff,#d8d8ff,#d5d5ff,#d2d2ff,#cfcfff,#cdcdff,#cacaff,#c7c7ff,#c4c4ff,#c2c2ff,#bfbfff,#bcbcff,#babaff,#b8b8ff,#b5b5ff,#b3b3ff,#b1b1ff,#afafff,#adadff,#ababff,#a9a9ff,#a7a7ff,#a5a5ff,#a3a3ff,#a1a1ff,#a0a0ff,#9e9eff,#9c9cff,#9b9bff,#9a9aff,#9898ff,#9797ff,#9696ff,#9595ff,#9494ff,#9393ff,#9393ff,#9292ff,#9292ff,#9292ff,#9191ff,#9292ff,#9292ff,#9292ff,#9393ff,#9393ff,#9494ff,#9595ff,#9696ff,#9797ff,#9898ff,#9999ff,#9b9bff,#9c9cff,#9d9dff,#9f9fff,#a0a0ff,#a2a2ff,#a4a4ff,#a5a5ff,#a7a7ff,#a9a9ff,#ababff,#adadff,#afafff,#b2b2ff,#b4b4ff,#b6b6ff,#b9b9ff,#bbbbff,#bebeff,#c1c1ff,#c3c3ff,#c6c6ff,#c9c9ff,#cbcbff,#ceceff,#d1d1ff,#d4d4ff,#d6d6ff,#d9d9ff,#dbdbff,#dedeff,#e0e0ff,#e3e3ff,#e5e5ff,#e7e7ff,#e9e9ff,#ebebff,#ededff,#eeeeff,#f0f0ff,#f1f1ff,#f3f3ff,#f4f4ff,#f5f5ff,#f6f6ff,#f7f7ff,#f8f8ff,#f9f9ff,#f9f9ff,#fafaff,#fbfbff,#fbfbff,#fcfcff,#fcfcff,#fcfcff,#fdfdff,#fdfdff,#fdfdff,#fdfdff,#fefeff,#fefeff,#fefeff,#fefeff,#fefeff,#fefeff,#fefeff,#fefeff,#fefeff,#fefeff,#ffffff,#ffffff,#ffffff,#ffffff,#ffffff,#ffffff,#ffffff,#ffffff)"></div>
<div class="m" style="top:387.500px;height:14.091px;background:linear-gradient(90deg,#fefeff,#fdfdff,#fdfdff,#fdfdff,#fcfcff,#fcfcff,#fbfbff,#fbfbff,#fafaff,#f9f9ff,#f8f8ff,#f7f7ff,#f6f6ff,#f5f5ff,#f4f4ff,#f3f3ff,#f1f1ff,#f0f0ff,#eeeeff,#ececff,#eaeaff,#e8e8ff,#e6e6ff,#e4e4ff,#e2e2ff,#dfdfff,#ddddff,#dadaff,#d8d8ff,#d5d5ff,#d2d2ff,#cfcfff,#cdcdff,#cacaff,#c7c7ff,#c5c5ff,#c2c2ff,#bfbfff,#bdbdff,#babaff,#b8b8ff,#b5b5ff,#b3b3ff,#b1b1ff,#afafff,#adadff,#ababff,#a9a9ff,#a7a7ff,#a6a6ff,#a4a4ff,#a3a3ff,#a1a1ff,#a0a0ff,#9f9fff,#9e9eff,#9d9dff,#9c9cff,#9b9bff,#9b9bff,#9a9aff,#9a9aff,#9a9aff,#9a9aff,#9a9aff,#9a9aff,#9b9bff,#9b9bff,#9c9cff,#9d9dff,#9e9eff,#9f9fff,#a0a0ff,#a1a1ff,#a3a3ff,#a4a4ff,#a6a6ff,#a7a7ff,#a9a9ff,#aaaaff,#acacff,#adadff,#afafff,#b1b1ff,#b2b2ff,#b4b4ff,#b6b6ff,#b7b7ff,#b9b9ff,#bbbbff,#bdbdff,#bfbfff,#c1c1ff,#c3c3ff,#c5c5ff,#c7c7ff,#c9c9ff,#cbcbff,#cdcdff,#d0d0ff,#d2d2ff,#d4d4ff,#d7d7ff,#d9d9ff,#dbdbff,#ddddff,#dfdfff,#e2e2ff,#e4e4ff,#e6e6ff,#e8e8ff,#e9e9ff,#ebebff,#ededff,#eeeeff,#f0f0ff,#f1f1ff,#f3f3ff,#f4f4ff,#f5f5ff,#f6f6ff,#f7f7ff,#f8f8ff,#f9f9ff,#f9f9ff,#fafaff,#fbfbff,#fbfbff,#fcfcff,#fcfcff,#fcfcff,#fdfdff,#fdfdff,#fdfdff,#fefeff,#fefeff,#fefeff,#fefeff,#fefeff,#fefeff,#fefeff,#fefeff,#ffffff,#ffffff,#ffffff,#ffffff,#ffffff,#ffffff,#ffffff,#ffffff,#ffffff,#ffffff,#ffffff,#ffffff,#ffffff,#ffffff)"></div>
<div class="m" style="top:394.545px;height:14.091px;background:linear-gradient(90deg,#fdfdff,#fdfdff,#fdfdff,#fcfcff,#fcfcff,#fbfbff,#fbfbff,#fafaff,#f9f9ff,#f8f8ff,#f8f8ff,#f7f7ff,#f5f5ff,#f4f4ff,#f3f3ff,#f2f2ff,#f0f0ff,#efefff,#ededff,#ebebff,#e9e9ff,#e7e7ff,#e5e5ff,#e3e3ff,#e1e1ff,#dfdfff,#dcdcff,#dadaff,#d7d7ff,#d5d5ff,#d2d2ff,#cfcfff,#cdcdff,#cacaff,#c8c8ff,#c5c5ff,#c2c2ff,#c0c0ff,#bdbdff,#bbbbff,#b8b8ff,#b6b6ff,#b4b4ff,#b2b2ff,#b0b0ff,#aeaeff,#acacff,#aaaaff,#a8a8ff,#a7a7ff,#a5a5ff,#a4a4ff,#a3a3ff,#a2a2ff,#a1a1ff,#a0a0ff,#a0a0ff,#9f9fff,#9f9fff,#9f9fff,#9f9fff,#9f9fff,#a0a0ff,#a0a0ff,#a1a1ff,#a2a2ff,#a3a3ff,#a4a4ff,#a6a6ff,#a7a7ff,#a8a8ff,#aaaaff,#acacff,#adadff,#afafff,#b1b1ff,#b3b3ff,#b4b4ff,#b6b6ff,#b8b8ff,#babaff,#bcbcff,#bdbdff,#bfbfff,#c1c1ff,#c2c2ff,#c4c4ff,#c6c6ff,#c7c7ff,#c9c9ff,#cbcbff,#ccccff,#ceceff,#d0d0ff,#d1d1ff,#d3d3ff,#d5d5ff,#d7d7ff,#d9d9ff,#dadaff,#dcdcff,#dedeff,#e0e0ff,#e2e2ff,#e4e4ff,#e5e5ff,#e7e7ff,#e9e9ff,#eaeaff,#ececff,#eeeeff,#efefff,#f0f0ff,#f2f2ff,#f3f3ff,#f4f4ff,#f5f5ff,#f6f6ff,#f7f7ff,#f8f8ff,#f9f9ff,#f9f9ff,#fafaff,#fbfbff,#fbfbff,#fcfcff,#fcfcff,#fcfcff,#fdfdff,#fdfdff,#fdfdff,#fefeff,#fefeff,#fefeff,#fefeff,#fefeff,#fefeff,#fefeff,#fefeff,#ffffff,#ffffff,#ffffff,#ffffff,#ffffff,#ffffff,#ffffff,#ffffff,#ffffff,#ffffff,#ffffff,#ffffff,#ffffff,#ffffff,#ffffff,#ffffff,#ffffff)"></div>
<div class="m" style="top:401.591px;height:14.091px;background:linear-gradient(90deg,#fdfdff,#fcfcff,#fcfcff,#fbfbff,#fbfbff,#fafaff,#fafaff,#f9f9ff,#f8f8ff,#f7f7ff,#f6f6ff,#f5f5ff,#f4f4ff,#f3f3ff,#f2f2ff,#f0f0ff,#efefff,#ededff,#ebebff,#eaeaff,#e8e8ff,#e6e6ff,#e4e4ff,#e2e2ff,#e0e0ff,#dedeff,#dbdbff,#d9d9ff,#d7d7ff,#d4d4ff,#d2d2ff,#cfcfff,#cdcdff,#cacaff,#c8c8ff,#c5c5ff,#c3c3ff,#c0c0ff,#bebeff,#bcbcff,#b9b9ff,#b7b7ff,#b5b5ff,#b3b3ff,#b1b1ff,#afafff,#adadff,#acacff,#aaaaff,#a9a9ff,#a8a8ff,#a6a6ff,#a6a6ff,#a5a5ff,#a4a4ff,#a4a4ff,#a4a4ff,#a4a4ff,#a4a4ff,#a4a4ff,#a5a5ff,#a5a5ff,#a6a6ff,#a7a7ff,#a8a8ff,#aaaaff,#ababff,#adadff,#afafff,#b0b0ff,#b2b2ff,#b4b4ff,#b6b6ff,#b8b8ff,#babaff,#bcbcff,#bebeff,#c0c0ff,#c2c2ff,#c4c4ff,#c6c6ff,#c8c8ff,#cacaff,#ccccff,#cdcdff,#cfcfff,#d0d0ff,#d2d2ff,#d3d3ff,#d5d5ff,#d6d6ff,#d8d8ff,#d9d9ff,#dbdbff,#dcdcff,#dedeff,#dfdfff,#e0e0ff,#e2e2ff,#e3e3ff,#e5e5ff,#e6e6ff,#e8e8ff,#e9e9ff,#ebebff,#ececff,#ededff,#efefff,#f0f0ff,#f1f1ff,#f2f2ff,#f3f3ff,#f4f4ff,#f5f5ff,#f6f6ff,#f7f7ff,#f8f8ff,#f9f9ff,#f9f9ff,#fafaff,#fbfbff,#fbfbff,#fcfcff,#fcfcff,#fcfcff,#fdfdff,#fdfdff,#fdfdff,#fefeff,#fefeff,#fefeff,#fefeff,#fefeff,#fefeff,#fefeff,#fefeff,#ffffff,#ffffff,#ffffff,#ffffff,#ffffff,#ffffff,#ffffff,#ffffff,#ffffff,#ffffff,#ffffff,#ffffff,#ffffff,#ffffff,#ffffff,#ffffff,#ffffff,#ffffff,#ffffff,#ffffff)"></div>
<div class="m" style="top:408.636px;height:14.091px;background:linear-gradient(90deg,#fcfcff,#fcfcff,#fbfbff,#fbfbff,#fafaff,#f9f9ff,#f8f8ff,#f8f8ff,#f7f7ff,#f6f6ff,#f5f5ff,#f3f3ff,#f2f2ff,#f1f1ff,#f0f0ff,#eeeeff,#ededff,#ebebff,#e9e9ff,#e7e7ff,#e6e6ff,#e4e4ff,#e2e2ff,#e0e0ff,#dedeff,#dcdcff,#dadaff,#d7d7ff,#d5d5ff,#d3d3ff,#d1d1ff,#cfcfff,#ccccff,#cacaff,#c8c8ff,#c5c5ff,#c3c3ff,#c1c1ff,#bfbfff,#bdbdff,#babaff,#b8b8ff,#b6b6ff,#b5b5ff,#b3b3ff,#b1b1ff,#afafff,#aeaeff,#adadff,#acacff,#ababff,#aaaaff,#a9a9ff,#a9a9ff,#a8a8ff,#a8a8ff,#a8a8ff,#a9a9ff,#a9a9ff,#aaaaff,#ababff,#acacff,#adadff,#aeaeff,#b0b0ff,#b2b2ff,#b4b4ff,#b5b5ff,#b8b8ff,#babaff,#bcbcff,#bebeff,#c0c0ff,#c2c2ff,#c5c5ff,#c7c7ff,#c9c9ff,#cbcbff,#cdcdff,#cfcfff,#d1d1ff,#d3d3ff,#d5d5ff,#d6d6ff,#d8d8ff,#d9d9ff,#dbdbff,#dcdcff,#dedeff,#dfdfff,#e0e0ff,#e1e1ff,#e3e3ff,#e4e4ff,#e5e5ff,#e6e6ff,#e7e7ff,#e8e8ff,#eaeaff,#ebebff,#ececff,#ededff,#eeeeff,#efefff,#f0f0ff,#f1f1ff,#f2f2ff,#f3f3ff,#f4f4ff,#f5f5ff,#f6f6ff,#f7f7ff,#f8f8ff,#f8f8ff,#f9f9ff,#fafaff,#fafaff,#fbfbff,#fbfbff,#fcfcff,#fcfcff,#fcfcff,#fdfdff,#fdfdff,#fdfdff,#fdfdff,#fefeff,#fefeff,#fefeff,#fefeff,#fefeff,#fefeff,#fefeff,#ffffff,#ffffff,#ffffff,#ffffff,#ffffff,#ffffff,#ffffff,#ffffff,#ffffff,#ffffff,#ffffff,#ffffff,#ffffff,#ffffff,#ffffff,#ffffff,#ffffff,#ffffff,#ffffff,#ffffff,#ffffff,#ffffff,#ffffff)"></div>
<div class="m" style="top:415.682px;height:14.091px;background:linear-gradient(90deg,#fbfbff,#fbfbff,#fafaff,#fafaff,#f9f9ff,#f8f8ff,#f7f7ff,#f6f6ff,#f5f5ff,#f4f4ff,#f3f3ff,#f1f1ff,#f0f0ff,#efefff,#ededff,#ebebff,#eaeaff,#e8e8ff,#e6e6ff,#e5e5ff,#e3e3ff,#e1e1ff,#dfdfff,#ddddff,#dbdbff,#d9d9ff,#d7d7ff,#d5d5ff,#d3d3ff,#d1d1ff,#cfcfff,#cdcdff,#cbcbff,#c9c9ff,#c7c7ff,#c5c5ff,#c4c4ff,#c2c2ff,#c0c0ff,#bebeff,#bcbcff,#babaff,#b8b8ff,#b7b7ff,#b5b5ff,#b4b4ff,#b3b3ff,#b1b1ff,#b0b0ff,#afafff,#afafff,#aeaeff,#aeaeff,#aeaeff,#aeaeff,#aeaeff,#aeaeff,#afafff,#b0b0ff,#b1b1ff,#b2b2ff,#b3b3ff,#b5b5ff,#b6b6ff,#b8b8ff,#babaff,#bcbcff,#bebeff,#c0c0ff,#c3c3ff,#c5c5ff,#c7c7ff,#c9c9ff,#ccccff,#ceceff,#d0d0ff,#d2d2ff,#d4d4ff,#d7d7ff,#d8d8ff,#dadaff,#dcdcff,#dedeff,#dfdfff,#e1e1ff,#e2e2ff,#e3e3ff,#e5e5ff,#e6e6ff,#e7e7ff,#e8e8ff,#e9e9ff,#eaeaff,#ebebff,#ececff,#ededff,#eeeeff,#efefff,#f0f0ff,#f1f1ff,#f1f1ff,#f2f2ff,#f3f3ff,#f4f4ff,#f5f5ff,#f5f5ff,#f6f6ff,#f7f7ff,#f7f7ff,#f8f8ff,#f9f9ff,#f9f9ff,#fafaff,#fafaff,#fbfbff,#fbfbff,#fcfcff,#fcfcff,#fcfcff,#fdfdff,#fdfdff,#fdfdff,#fdfdff,#fefeff,#fefeff,#fefeff,#fefeff,#fefeff,#fefeff,#fefeff,#ffffff,#ffffff,#ffffff,#ffffff,#ffffff,#ffffff,#ffffff,#ffffff,#ffffff,#ffffff,#ffffff,#ffffff,#ffffff,#ffffff,#ffffff,#ffffff,#ffffff,#ffffff,#ffffff,#ffffff,#ffffff,#ffffff,#ffffff,#ffffff,#ffffff,#ffffff)"></div>
<div class="m" style="top:422.727px;height:14.091px;background:linear-gradient(90deg,#fbfbff,#fafaff,#f9f9ff,#f9f9ff,#f8f8ff,#f7f7ff,#f6f6ff,#f4f4ff,#f3f3ff,#f2f2ff,#f0f0ff,#efefff,#ededff,#ececff,#eaeaff,#e9e9ff,#e7e7ff,#e5e5ff,#e3e3ff,#e1e1ff,#e0e0ff,#dedeff,#dcdcff,#dadaff,#d8d8ff,#d6d6ff,#d5d5ff,#d3d3ff,#d1d1ff,#cfcfff,#ceceff,#ccccff,#cacaff,#c9c9ff,#c7c7ff,#c6c6ff,#c4c4ff,#c2c2ff,#c1c1ff,#bfbfff,#bebeff,#bcbcff,#bbbbff,#babaff,#b9b9ff,#b7b7ff,#b7b7ff,#b6b6ff,#b5b5ff,#b4b4ff,#b4b4ff,#b4b4ff,#b4b4ff,#b4b4ff,#b4b4ff,#b4b4ff,#b5b5ff,#b6b6ff,#b7b7ff,#b8b8ff,#b9b9ff,#bbbbff,#bdbdff,#bebeff,#c0c0ff,#c2c2ff,#c5c5ff,#c7c7ff,#c9c9ff,#cbcbff,#ceceff,#d0d0ff,#d2d2ff,#d4d4ff,#d7d7ff,#d9d9ff,#dbdbff,#ddddff,#dfdfff,#e0e0ff,#e2e2ff,#e4e4ff,#e5e5ff,#e7e7ff,#e8e8ff,#e9e9ff,#eaeaff,#ececff,#ededff,#eeeeff,#eeeeff,#efefff,#f0f0ff,#f1f1ff,#f2f2ff,#f2f2ff,#f3f3ff,#f4f4ff,#f4f4ff,#f5f5ff,#f6f6ff,#f6f6ff,#f7f7ff,#f7f7ff,#f8f8ff,#f8f8ff,#f9f9ff,#f9f9ff,#fafaff,#fafaff,#fbfbff,#fbfbff,#fcfcff,#fcfcff,#fcfcff,#fdfdff,#fdfdff,#fdfdff,#fdfdff,#fefeff,#fefeff,#fefeff,#fefeff,#fefeff,#fefeff,#fefeff,#fefeff,#ffffff,#ffffff,#ffffff,#ffffff,#ffffff,#ffffff,#ffffff,#ffffff,#ffffff,#ffffff,#ffffff,#ffffff,#ffffff,#ffffff,#ffffff,#ffffff,#ffffff,#ffffff,#ffffff,#ffffff,#ffffff,#ffffff,#ffffff,#ffffff,#ffffff,#ffffff,#ffffff,#ffffff,#ffffff)"></div>
<div class="m" style="top:429.773px;height:14.091px;background:linear-gradient(90deg,#fafaff,#f9f9ff,#f8f8ff,#f7f7ff,#f6f6ff,#f5f5ff,#f4f4ff,#f3f3ff,#f1f1ff,#f0f0ff,#eeeeff,#ededff,#ebebff,#e9e9ff,#e7e7ff,#e6e6ff,#e4e4ff,#e2e2ff,#e0e0ff,#dedeff,#dcdcff,#dadaff,#d9d9ff,#d7d7ff,#d5d5ff,#d3d3ff,#d2d2ff,#d0d0ff,#cfcfff,#cdcdff,#ccccff,#cbcbff,#c9c9ff,#c8c8ff,#c7c7ff,#c6c6ff,#c5c5ff,#c3c3ff,#c2c2ff,#c1c1ff,#c0c0ff,#bfbfff,#bebeff,#bdbdff,#bdbdff,#bcbcff,#bbbbff,#bbbbff,#babaff,#babaff,#babaff,#babaff,#babaff,#bbbbff,#bbbbff,#bcbcff,#bdbdff,#bebeff,#bfbfff,#c0c0ff,#c2c2ff,#c3c3ff,#c5c5ff,#c7c7ff,#c9c9ff,#cbcbff,#cdcdff,#cfcfff,#d1d1ff,#d4d4ff,#d6d6ff,#d8d8ff,#dadaff,#dcdcff,#dedeff,#e0e0ff,#e2e2ff,#e4e4ff,#e6e6ff,#e7e7ff,#e9e9ff,#eaeaff,#ebebff,#ededff,#eeeeff,#efefff,#f0f0ff,#f1f1ff,#f2f2ff,#f3f3ff,#f3f3ff,#f4f4ff,#f5f5ff,#f5f5ff,#f6f6ff,#f6f6ff,#f7f7ff,#f7f7ff,#f8f8ff,#f8f8ff,#f9f9ff,#f9f9ff,#f9f9ff,#fafaff,#fafaff,#fbfbff,#fbfbff,#fbfbff,#fcfcff,#fcfcff,#fcfcff,#fcfcff,#fdfdff,#fdfdff,#fdfdff,#fdfdff,#fefeff,#fefeff,#fefeff,#fefeff,#fefeff,#fefeff,#fefeff,#fefeff,#ffffff,#ffffff,#ffffff,#ffffff,#ffffff,#ffffff,#ffffff,#ffffff,#ffffff,#ffffff,#ffffff,#ffffff,#ffffff,#ffffff,#ffffff,#ffffff,#ffffff,#ffffff,#ffffff,#ffffff,#ffffff,#ffffff,#ffffff,#ffffff,#ffffff,#ffffff,#ffffff,#ffffff,#ffffff,#ffffff,#ffffff,#ffffff)"></div>
<div class="m" style="top:436.818px;height:14.091px;background:linear-gradient(90deg,#f9f9ff,#f8f8ff,#f7f7ff,#f6f6ff,#f5f5ff,#f4f4ff,#f3f3ff,#f1f1ff,#f0f0ff,#eeeeff,#ececff,#eaeaff,#e9e9ff,#e7e7ff,#e5e5ff,#e3e3ff,#e1e1ff,#dfdfff,#ddddff,#dbdbff,#d9d9ff,#d7d7ff,#d6d6ff,#d4d4ff,#d2d2ff,#d1d1ff,#cfcfff,#ceceff,#cdcdff,#ccccff,#cbcbff,#cacaff,#c9c9ff,#c8c8ff,#c7c7ff,#c6c6ff,#c6c6ff,#c5c5ff,#c4c4ff,#c4c4ff,#c3c3ff,#c3c3ff,#c2c2ff,#c2c2ff,#c2c2ff,#c1c1ff,#c1c1ff,#c1c1ff,#c1c1ff,#c1c1ff,#c1c1ff,#c2c2ff,#c2c2ff,#c3c3ff,#c3c3ff,#c4c4ff,#c5c5ff,#c6c6ff,#c8c8ff,#c9c9ff,#cacaff,#ccccff,#ceceff,#d0d0ff,#d1d1ff,#d3d3ff,#d5d5ff,#d7d7ff,#d9d9ff,#dbdbff,#ddddff,#dfdfff,#e1e1ff,#e3e3ff,#e5e5ff,#e7e7ff,#e8e8ff,#eaeaff,#ebebff,#ededff,#eeeeff,#efefff,#f0f0ff,#f2f2ff,#f3f3ff,#f3f3ff,#f4f4ff,#f5f5ff,#f6f6ff,#f6f6ff,#f7f7ff,#f7f7ff,#f8f8ff,#f8f8ff,#f9f9ff,#f9f9ff,#fafaff,#fafaff,#fafaff,#fbfbff,#fbfbff,#fbfbff,#fbfbff,#fcfcff,#fcfcff,#fcfcff,#fcfcff,#fdfdff,#fdfdff,#fdfdff,#fdfdff,#fdfdff,#fefeff,#fefeff,#fefeff,#fefeff,#fefeff,#fefeff,#fefeff,#fefeff,#fefeff,#ffffff,#ffffff,#ffffff,#ffffff,#ffffff,#ffffff,#ffffff,#ffffff,#ffffff,#ffffff,#ffffff,#ffffff,#ffffff,#ffffff,#ffffff,#ffffff,#ffffff,#ffffff,#ffffff,#ffffff,#ffffff,#ffffff,#ffffff,#ffffff,#ffffff,#ffffff,#ffffff,#ffffff,#ffffff,#ffffff,#ffffff,#ffffff,#ffffff,#ffffff,#ffffff)"></div>
<div class="m" style="top:443.864px;height:14.091px;background:linear-gradient(90deg,#f9f9ff,#f8f8ff,#f7f7ff,#f6f6ff,#f4f4ff,#f3f3ff,#f2f2ff,#f0f0ff,#eeeeff,#ededff,#ebebff,#e9e9ff,#e7e7ff,#e5e5ff,#e3e3ff,#e1e1ff,#dfdfff,#ddddff,#dbdbff,#d9d9ff,#d7d7ff,#d5d5ff,#d3d3ff,#d2d2ff,#d0d0ff,#cfcfff,#ceceff,#cdcdff,#ccccff,#cbcbff,#cacaff,#cacaff,#c9c9ff,#c9c9ff,#c8c8ff,#c8c8ff,#c8c8ff,#c7c7ff,#c7c7ff,#c7c7ff,#c7c7ff,#c7c7ff,#c7c7ff,#c7c7ff,#c7c7ff,#c7c7ff,#c7c7ff,#c8c8ff,#c8c8ff,#c8c8ff,#c9c9ff,#c9c9ff,#cacaff,#cbcbff,#ccccff,#cdcdff,#ceceff,#cfcfff,#d0d0ff,#d2d2ff,#d3d3ff,#d5d5ff,#d6d6ff,#d8d8ff,#dadaff,#dbdbff,#ddddff,#dfdfff,#e1e1ff,#e3e3ff,#e4e4ff,#e6e6ff,#e8e8ff,#e9e9ff,#ebebff,#ececff,#eeeeff,#efefff,#f0f0ff,#f1f1ff,#f2f2ff,#f3f3ff,#f4f4ff,#f5f5ff,#f6f6ff,#f7f7ff,#f7f7ff,#f8f8ff,#f9f9ff,#f9f9ff,#fafaff,#fafaff,#fafaff,#fbfbff,#fbfbff,#fbfbff,#fcfcff,#fcfcff,#fcfcff,#fcfcff,#fcfcff,#fdfdff,#fdfdff,#fdfdff,#fdfdff,#fdfdff,#fdfdff,#fefeff,#fefeff,#fefeff,#fefeff,#fefeff,#fefeff,#fefeff,#fefeff,#fefeff,#fefeff,#ffffff,#ffffff,#ffffff,#ffffff,#ffffff,#ffffff,#ffffff,#ffffff,#ffffff,#ffffff,#ffffff,#ffffff,#ffffff,#ffffff,#ffffff,#ffffff,#ffffff,#ffffff,#ffffff,#ffffff,#ffffff,#ffffff,#ffffff,#ffffff,#ffffff,#ffffff,#ffffff,#ffffff,#ffffff,#ffffff,#ffffff,#ffffff,#ffffff,#ffffff,#ffffff,#ffffff,#ffffff,#ffffff,#ffffff)"></div>
<div class="m" style="top:450.909px;height:14.091px;background:linear-gradient(90deg,#f8f8ff,#f7f7ff,#f6f6ff,#f5f5ff,#f4f4ff,#f2f2ff,#f1f1ff,#efefff,#ededff,#ececff,#eaeaff,#e8e8ff,#e6e6ff,#e4e4ff,#e2e2ff,#dfdfff,#ddddff,#dbdbff,#d9d9ff,#d7d7ff,#d6d6ff,#d4d4ff,#d2d2ff,#d1d1ff,#d0d0ff,#ceceff,#cdcdff,#cdcdff,#ccccff,#cbcbff,#cbcbff,#cacaff,#cacaff,#cacaff,#cacaff,#cacaff,#cacaff,#cbcbff,#cbcbff,#cbcbff,#ccccff,#ccccff,#ccccff,#cdcdff,#cdcdff,#ceceff,#ceceff,#cfcfff,#cfcfff,#d0d0ff,#d1d1ff,#d1d1ff,#d2d2ff,#d3d3ff,#d4d4ff,#d5d5ff,#d6d6ff,#d7d7ff,#d9d9ff,#dadaff,#dbdbff,#ddddff,#dedeff,#e0e0ff,#e1e1ff,#e3e3ff,#e4e4ff,#e6e6ff,#e7e7ff,#e9e9ff,#eaeaff,#ececff,#ededff,#eeeeff,#f0f0ff,#f1f1ff,#f2f2ff,#f3f3ff,#f4f4ff,#f5f5ff,#f6f6ff,#f7f7ff,#f7f7ff,#f8f8ff,#f9f9ff,#f9f9ff,#fafaff,#fafaff,#fbfbff,#fbfbff,#fbfbff,#fcfcff,#fcfcff,#fcfcff,#fcfcff,#fdfdff,#fdfdff,#fdfdff,#fdfdff,#fdfdff,#fdfdff,#fefeff,#fefeff,#fefeff,#fefeff,#fefeff,#fefeff,#fefeff,#fefeff,#fefeff,#fefeff,#fefeff,#fefeff,#ffffff,#ffffff,#ffffff,#ffffff,#ffffff,#ffffff,#ffffff,#ffffff,#ffffff,#ffffff,#ffffff,#ffffff,#ffffff,#ffffff,#ffffff,#ffffff,#ffffff,#ffffff,#ffffff,#ffffff,#ffffff,#ffffff,#ffffff,#ffffff,#ffffff,#ffffff,#ffffff,#ffffff,#ffffff,#ffffff,#ffffff,#ffffff,#ffffff,#ffffff,#ffffff,#ffffff,#ffffff,#ffffff,#ffffff,#ffffff,#ffffff,#ffffff,#ffffff)"></div>
<div class="m" style="top:457.955px;height:14.091px;background:linear-gradient(90deg,#f8f8ff,#f7f7ff,#f6f6ff,#f5f5ff,#f4f4ff,#f2f2ff,#f1f1ff,#efefff,#ededff,#ebebff,#eaeaff,#e8e8ff,#e6e6ff,#e4e4ff,#e1e1ff,#dfdfff,#ddddff,#dbdbff,#d9d9ff,#d8d8ff,#d6d6ff,#d4d4ff,#d3d3ff,#d1d1ff,#d0d0ff,#cfcfff,#ceceff,#ceceff,#cdcdff,#cdcdff,#cdcdff,#cdcdff,#cdcdff,#cdcdff,#cdcdff,#ceceff,#ceceff,#cfcfff,#cfcfff,#d0d0ff,#d1d1ff,#d1d1ff,#d2d2ff,#d3d3ff,#d4d4ff,#d4d4ff,#d5d5ff,#d6d6ff,#d7d7ff,#d8d8ff,#d8d8ff,#d9d9ff,#dadaff,#dbdbff,#dcdcff,#ddddff,#dedeff,#dfdfff,#e0e0ff,#e2e2ff,#e3e3ff,#e4e4ff,#e5e5ff,#e7e7ff,#e8e8ff,#e9e9ff,#eaeaff,#ececff,#ededff,#eeeeff,#efefff,#f1f1ff,#f2f2ff,#f3f3ff,#f4f4ff,#f5f5ff,#f6f6ff,#f6f6ff,#f7f7ff,#f8f8ff,#f9f9ff,#f9f9ff,#fafaff,#fafaff,#fbfbff,#fbfbff,#fcfcff,#fcfcff,#fcfcff,#fcfcff,#fdfdff,#fdfdff,#fdfdff,#fdfdff,#fdfdff,#fefeff,#fefeff,#fefeff,#fefeff,#fefeff,#fefeff,#fefeff,#fefeff,#fefeff,#fefeff,#fefeff,#fefeff,#ffffff,#ffffff,#ffffff,#ffffff,#ffffff,#ffffff,#ffffff,#ffffff,#ffffff,#ffffff,#ffffff,#ffffff,#ffffff,#ffffff,#ffffff,#ffffff,#ffffff,#ffffff,#ffffff,#ffffff,#ffffff,#ffffff,#ffffff,#ffffff,#ffffff,#ffffff,#ffffff,#ffffff,#ffffff,#ffffff,#ffffff,#ffffff,#ffffff,#ffffff,#ffffff,#ffffff,#ffffff,#ffffff,#ffffff,#ffffff,#ffffff,#ffffff,#ffffff,#ffffff,#ffffff,#ffffff,#ffffff,#ffffff,#ffffff)"></div>
</div>
<svg class="l" width="1299" height="1350"><line x1="133" y1="399.5" x2="1297" y2="222.6" stroke="#000" stroke-width="2"/>
<line x1="132" y1="1017.6" x2="1297" y2="834.1" stroke="#000" stroke-width="2"/>
<polyline points="175.3,412.5 295,388 420,363.1 480,350.6 517,343.5 554,338.9 578.5,335.2 603.2,329.7 621.6,324.8 640,319.9 660,313.7 717.7,298.9 775.5,282.9 794.7,277.7 814,275 837,274.2 862,275.2 900,277 957,273.4 1013.9,272.8 1070.9,274.2 1127.9,277.1 1184.8,279.9 1257.4,281.9" fill="none" stroke="#f00" stroke-width="2"/>
<polyline points="174.6,935.7 216.2,936.6 262.4,940.3 308.6,945.9 354.8,951.2 401,956.3 460,960 494.6,961.7 529.3,961.7 563.9,959.6 598.6,954.7 633.2,947.3 667.9,940.4 714,932.3 750,925.8 807.7,913.3 865.5,902.7 923.2,891.2 990,879.5 1031.6,869.1 1073.1,860.3 1114.7,853.1 1156.3,846.8 1197.9,841 1256,834.8" fill="none" stroke="#f00" stroke-width="2"/>
<path d="M132.8 56V554.8H1296.5M115.2 80.8H132.8M115.2 183.6H132.8M115.2 286.4H132.8M115.2 389.2H132.8M115.2 492H132.8M144.8 554.8V572.3M376.7 554.8V572.3M608.5 554.8V572.3M840.4 554.8V572.3M1072.2 554.8V572.3M131.9 714.2V1212.3H1296.5M114.2 752.2H131.9M114.2 821.5H131.9M114.2 890.8H131.9M114.2 960.1H131.9M114.2 1029.4H131.9M114.2 1098.7H131.9M114.2 1168H131.9M264.4 1212.3V1228.5M415.5 1212.3V1228.5M566.6 1212.3V1228.5M717.7 1212.3V1228.5M868.8 1212.3V1228.5M1019.9 1212.3V1228.5M1171 1212.3V1228.5" fill="none" stroke="#000" stroke-width="1.8"/>
<g font-size="28" fill="#000"><text transform="translate(5 24.2) scale(1 1.045)" font-weight="bold" font-size="29">A</text><text transform="translate(5 640.3) scale(1 1.045)" font-weight="bold" font-size="29">B</text><text transform="translate(92.4 80.8) rotate(-90) scale(1 1.045)" text-anchor="middle">0.04</text><text transform="translate(92.4 183.6) rotate(-90) scale(1 1.045)" text-anchor="middle">0.03</text><text transform="translate(92.4 286.4) rotate(-90) scale(1 1.045)" text-anchor="middle">0.02</text><text transform="translate(92.4 389.2) rotate(-90) scale(1 1.045)" text-anchor="middle">0.01</text><text transform="translate(92.4 492) rotate(-90) scale(1 1.045)" text-anchor="middle">0.00</text><text transform="translate(92.1 752.2) rotate(-90) scale(1 1.045)" text-anchor="middle">−4.0</text><text transform="translate(92.1 890.8) rotate(-90) scale(1 1.045)" text-anchor="middle">−5.0</text><text transform="translate(92.1 1029.4) rotate(-90) scale(1 1.045)" text-anchor="middle">−6.0</text><text transform="translate(92.1 1168) rotate(-90) scale(1 1.045)" text-anchor="middle">−7.0</text><text transform="translate(144.8 615.3) scale(1 1.045)" text-anchor="middle">0</text><text transform="translate(376.7 615.3) scale(1 1.045)" text-anchor="middle">500</text><text transform="translate(608.5 615.3) scale(1 1.045)" text-anchor="middle">1000</text><text transform="translate(840.4 615.3) scale(1 1.045)" text-anchor="middle">1500</text><text transform="translate(1072.2 615.3) scale(1 1.045)" text-anchor="middle">2000</text><text transform="translate(264.4 1273.8) scale(1 1.045)" text-anchor="middle">4.5</text><text transform="translate(415.5 1273.8) scale(1 1.045)" text-anchor="middle">5.0</text><text transform="translate(566.6 1273.8) scale(1 1.045)" text-anchor="middle">5.5</text><text transform="translate(717.7 1273.8) scale(1 1.045)" text-anchor="middle">6.0</text><text transform="translate(868.8 1273.8) scale(1 1.045)" text-anchor="middle">6.5</text><text transform="translate(1019.9 1273.8) scale(1 1.045)" text-anchor="middle">7.0</text><text transform="translate(1171 1273.8) scale(1 1.045)" text-anchor="middle">7.5</text><text transform="translate(717 682.7) scale(1 1.045)" text-anchor="middle">Geographic Distance (km)</text><text transform="translate(716.5 1341.7) scale(1 1.045)" text-anchor="middle">Log Geographic Distance (km)</text><text transform="translate(24.4 304.5) rotate(-90) scale(1 1.045)" text-anchor="middle">Genetic Distance (Fst)</text><text transform="translate(24.4 963.4) rotate(-90) scale(1 1.045)" text-anchor="middle">Log Genetic Distance (Jost&#39;s D)</text><text transform="translate(1112.5 196) scale(1 1.045)">R<tspan font-size="16" font-weight="bold" dx="1.4" dy="-14.8">2</tspan><tspan dx="-1.4" dy="14.8"> = 0.367</tspan></text><text transform="translate(179 1066) scale(1 1.045)">R<tspan font-size="16" font-weight="bold" dx="1.4" dy="-14.8">2</tspan><tspan dx="-1.4" dy="14.8"> = 0.382</tspan></text></g></svg>
</body></html>
